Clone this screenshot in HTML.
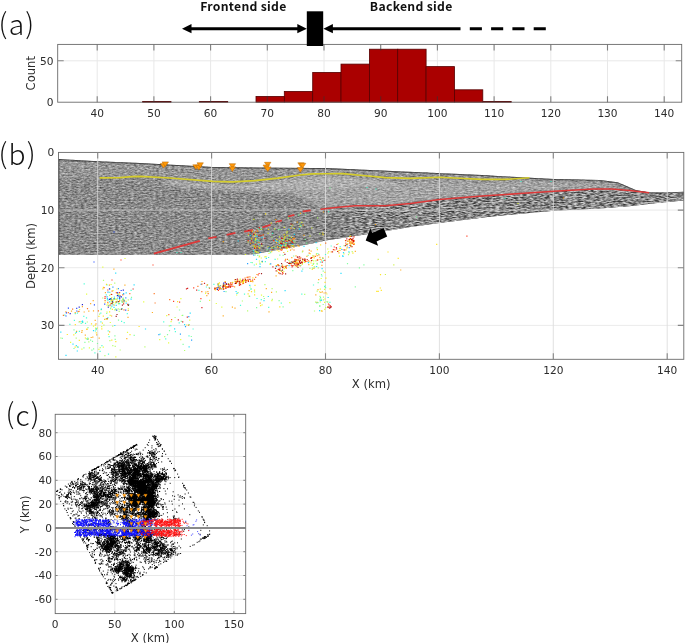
<!DOCTYPE html>
<html lang="en"><head><meta charset="utf-8"><title>Figure: frontend / backend side seismic section</title>
<style>html,body{margin:0;padding:0;background:#fff}body{width:685px;height:643px;overflow:hidden}svg{display:block;will-change:transform}text{white-space:pre}</style>
</head><body>
<svg width="685" height="643" viewBox="0 0 685 643">
<defs>
<filter id="seis" x="0" y="0" width="100%" height="100%" color-interpolation-filters="sRGB"><feTurbulence type="fractalNoise" baseFrequency="0.32 0.72" numOctaves="2" seed="11" result="n"/><feColorMatrix in="n" type="matrix" values="0.68 0 0 0 0.206  0.68 0 0 0 0.206  0.68 0 0 0 0.206  0 0 0 0 1"/></filter>
<filter id="seis2" x="0" y="0" width="100%" height="100%" color-interpolation-filters="sRGB"><feTurbulence type="fractalNoise" baseFrequency="0.22 0.8" numOctaves="2" seed="5" result="n"/><feColorMatrix in="n" type="matrix" values="2.4 0 0 0 -0.63  2.4 0 0 0 -0.63  2.4 0 0 0 -0.63  0 0 0 0 1"/></filter>
<filter id="soft" x="-5%" y="-20%" width="110%" height="140%"><feGaussianBlur stdDeviation="1.6"/></filter>
</defs>
<rect width="685" height="643" fill="#fff"/>
<g id="panel-a">
<rect x="57.7" y="44.4" width="624.0" height="57.800000000000004" fill="#fff"/>
<line x1="97.2" y1="44.4" x2="97.2" y2="102.2" stroke="#e8e8e8" stroke-width="1"/>
<line x1="153.9" y1="44.4" x2="153.9" y2="102.2" stroke="#e8e8e8" stroke-width="1"/>
<line x1="210.6" y1="44.4" x2="210.6" y2="102.2" stroke="#e8e8e8" stroke-width="1"/>
<line x1="267.3" y1="44.4" x2="267.3" y2="102.2" stroke="#e8e8e8" stroke-width="1"/>
<line x1="324" y1="44.4" x2="324" y2="102.2" stroke="#e8e8e8" stroke-width="1"/>
<line x1="380.7" y1="44.4" x2="380.7" y2="102.2" stroke="#e8e8e8" stroke-width="1"/>
<line x1="437.4" y1="44.4" x2="437.4" y2="102.2" stroke="#e8e8e8" stroke-width="1"/>
<line x1="494.1" y1="44.4" x2="494.1" y2="102.2" stroke="#e8e8e8" stroke-width="1"/>
<line x1="550.8" y1="44.4" x2="550.8" y2="102.2" stroke="#e8e8e8" stroke-width="1"/>
<line x1="607.5" y1="44.4" x2="607.5" y2="102.2" stroke="#e8e8e8" stroke-width="1"/>
<line x1="664.2" y1="44.4" x2="664.2" y2="102.2" stroke="#e8e8e8" stroke-width="1"/>
<line x1="57.7" y1="60.8" x2="681.7" y2="60.8" stroke="#e8e8e8" stroke-width="1"/>
<rect x="142.6" y="101.4" width="28.4" height="0.8" fill="#aa0000" stroke="#560000" stroke-width="0.8"/>
<rect x="199.3" y="101.4" width="28.4" height="0.8" fill="#aa0000" stroke="#560000" stroke-width="0.8"/>
<rect x="256" y="96.4" width="28.4" height="5.8" fill="#aa0000" stroke="#560000" stroke-width="0.8"/>
<rect x="284.3" y="91.4" width="28.4" height="10.8" fill="#aa0000" stroke="#560000" stroke-width="0.8"/>
<rect x="312.7" y="72.4" width="28.4" height="29.8" fill="#aa0000" stroke="#560000" stroke-width="0.8"/>
<rect x="341" y="64.1" width="28.4" height="38.1" fill="#aa0000" stroke="#560000" stroke-width="0.8"/>
<rect x="369.4" y="49.2" width="28.4" height="53" fill="#aa0000" stroke="#560000" stroke-width="0.8"/>
<rect x="397.7" y="49.2" width="28.4" height="53" fill="#aa0000" stroke="#560000" stroke-width="0.8"/>
<rect x="426.1" y="66.6" width="28.4" height="35.6" fill="#aa0000" stroke="#560000" stroke-width="0.8"/>
<rect x="454.4" y="89.8" width="28.4" height="12.4" fill="#aa0000" stroke="#560000" stroke-width="0.8"/>
<rect x="482.8" y="101.4" width="28.4" height="0.8" fill="#aa0000" stroke="#560000" stroke-width="0.8"/>
<path d="M97.2 102.2v-6M97.2 44.4v6" stroke="#333" stroke-opacity="0.58" stroke-width="1.1"/>
<path d="M153.9 102.2v-6M153.9 44.4v6" stroke="#333" stroke-opacity="0.58" stroke-width="1.1"/>
<path d="M210.6 102.2v-6M210.6 44.4v6" stroke="#333" stroke-opacity="0.58" stroke-width="1.1"/>
<path d="M267.3 102.2v-6M267.3 44.4v6" stroke="#333" stroke-opacity="0.58" stroke-width="1.1"/>
<path d="M324 102.2v-6M324 44.4v6" stroke="#333" stroke-opacity="0.58" stroke-width="1.1"/>
<path d="M380.7 102.2v-6M380.7 44.4v6" stroke="#333" stroke-opacity="0.58" stroke-width="1.1"/>
<path d="M437.4 102.2v-6M437.4 44.4v6" stroke="#333" stroke-opacity="0.58" stroke-width="1.1"/>
<path d="M494.1 102.2v-6M494.1 44.4v6" stroke="#333" stroke-opacity="0.58" stroke-width="1.1"/>
<path d="M550.8 102.2v-6M550.8 44.4v6" stroke="#333" stroke-opacity="0.58" stroke-width="1.1"/>
<path d="M607.5 102.2v-6M607.5 44.4v6" stroke="#333" stroke-opacity="0.58" stroke-width="1.1"/>
<path d="M664.2 102.2v-6M664.2 44.4v6" stroke="#333" stroke-opacity="0.58" stroke-width="1.1"/>
<rect x="57.7" y="44.4" width="624.0" height="57.800000000000004" fill="none" stroke="#6a6a6a" stroke-width="0.9"/>
<text x="97.2" y="116.8" text-anchor="middle" font-family="'DejaVu Sans','Liberation Sans',sans-serif" font-size="10.6" fill="#2c2c2c">40</text>
<text x="153.9" y="116.8" text-anchor="middle" font-family="'DejaVu Sans','Liberation Sans',sans-serif" font-size="10.6" fill="#2c2c2c">50</text>
<text x="210.6" y="116.8" text-anchor="middle" font-family="'DejaVu Sans','Liberation Sans',sans-serif" font-size="10.6" fill="#2c2c2c">60</text>
<text x="267.3" y="116.8" text-anchor="middle" font-family="'DejaVu Sans','Liberation Sans',sans-serif" font-size="10.6" fill="#2c2c2c">70</text>
<text x="324" y="116.8" text-anchor="middle" font-family="'DejaVu Sans','Liberation Sans',sans-serif" font-size="10.6" fill="#2c2c2c">80</text>
<text x="380.7" y="116.8" text-anchor="middle" font-family="'DejaVu Sans','Liberation Sans',sans-serif" font-size="10.6" fill="#2c2c2c">90</text>
<text x="437.4" y="116.8" text-anchor="middle" font-family="'DejaVu Sans','Liberation Sans',sans-serif" font-size="10.6" fill="#2c2c2c">100</text>
<text x="494.1" y="116.8" text-anchor="middle" font-family="'DejaVu Sans','Liberation Sans',sans-serif" font-size="10.6" fill="#2c2c2c">110</text>
<text x="550.8" y="116.8" text-anchor="middle" font-family="'DejaVu Sans','Liberation Sans',sans-serif" font-size="10.6" fill="#2c2c2c">120</text>
<text x="607.5" y="116.8" text-anchor="middle" font-family="'DejaVu Sans','Liberation Sans',sans-serif" font-size="10.6" fill="#2c2c2c">130</text>
<text x="664.2" y="116.8" text-anchor="middle" font-family="'DejaVu Sans','Liberation Sans',sans-serif" font-size="10.6" fill="#2c2c2c">140</text>
<path d="M57.7 60.8h6M681.7 60.8h-6" stroke="#858585" stroke-width="1.1"/>
<text x="53.6" y="64.6" text-anchor="end" font-family="'DejaVu Sans','Liberation Sans',sans-serif" font-size="10.6" fill="#2c2c2c">50</text>
<text x="53.6" y="106.1" text-anchor="end" font-family="'DejaVu Sans','Liberation Sans',sans-serif" font-size="10.6" fill="#2c2c2c">0</text>
<text transform="translate(34.5 73.2) rotate(-90)" text-anchor="middle" font-family="'DejaVu Sans','Liberation Sans',sans-serif" font-size="11.6" fill="#2c2c2c">Count</text>
</g>
<g id="annot-a">
<text x="243.4" y="10.6" text-anchor="middle" font-family="'Noto Sans CJK JP','Liberation Sans',sans-serif" font-weight="700" font-size="12.2" letter-spacing="0.3" fill="#111">Frontend side</text>
<text x="411.2" y="10.6" text-anchor="middle" font-family="'Noto Sans CJK JP','Liberation Sans',sans-serif" font-weight="700" font-size="12.2" letter-spacing="0.3" fill="#111">Backend side</text>
<line x1="188" y1="28.7" x2="301" y2="28.7" stroke="#000" stroke-width="2.85"/>
<polygon points="182,28.7 191.5,24.1 191.5,33.3" fill="#000"/>
<polygon points="306.8,28.7 297.3,24.1 297.3,33.3" fill="#000"/>
<rect x="306.8" y="11.3" width="16.4" height="34.7" fill="#000"/>
<polygon points="323.4,28.7 332.9,24.1 332.9,33.3" fill="#000"/>
<line x1="330" y1="28.7" x2="460.5" y2="28.7" stroke="#000" stroke-width="2.85"/>
<line x1="469.8" y1="28.7" x2="546" y2="28.7" stroke="#000" stroke-width="2.85" stroke-dasharray="12.1 9.2"/>
</g>
<text x="-1.4" y="35.2" font-family="'Noto Sans CJK JP','Liberation Sans',sans-serif" font-weight="300" font-size="28.2" letter-spacing="1.2" fill="#111"><tspan dy="-1.4">(</tspan><tspan dy="1.4">a</tspan><tspan dy="-1.4">)</tspan></text>
<g id="panel-b">
<rect x="58.5" y="152.4" width="625.3" height="206.9" fill="#fff"/>
<clipPath id="seisclip"><polygon points="58.5,159 97.7,161.3 140,163 212.8,167 312,168 325.6,168 397.9,171.3 482,175.1 524.9,177.5 553.9,179 599.7,179.9 617.7,182.3 635.8,190 648.3,192.2 665,192.4 683.8,191.8 683.8,200.4 659.3,202.7 631.6,205.9 600,208.4 553.9,210.8 487.6,216.9 439.5,223 410.4,227 365.2,234.6 325.6,240.6 312,243.4 250.8,254.8 58.5,254.8"/></clipPath>
<g clip-path="url(#seisclip)">
<rect x="58.5" y="156" width="625.3" height="101" fill="#8a8a8a"/>
<rect x="58.5" y="156" width="625.3" height="101" filter="url(#seis)"/>
<linearGradient id="eastgrad" gradientUnits="userSpaceOnUse" x1="285" y1="0" x2="365" y2="0"><stop offset="0" stop-color="#000"/><stop offset="1" stop-color="#fff"/></linearGradient>
<mask id="eastmask" maskUnits="userSpaceOnUse" x="280" y="150" width="403.8" height="110"><rect x="280" y="150" width="403.8" height="110" fill="url(#eastgrad)"/></mask>
<clipPath id="lowEclip"><polygon points="280,214 300,211 320.5,209.8 338,207.7 355.2,206.2 385.3,206.2 410.4,204 439.5,200 482,196.6 520,194.1 553.9,191.8 593.7,189.4 611.7,189.4 629.7,190.9 649.1,193.3 665,192.4 683.8,191.8 683.8,200.4 659.3,202.7 631.6,205.9 600,208.4 553.9,210.8 487.6,216.9 439.5,223 410.4,227 365.2,234.6 325.6,240.6 312,243.4 250.8,254.8 280,252"/></clipPath>
<g clip-path="url(#lowEclip)"><g mask="url(#eastmask)"><rect x="280" y="160" width="403.8" height="95" filter="url(#seis2)" opacity="0.45"/></g></g>
<g mask="url(#eastmask)"><rect x="280" y="160" width="403.8" height="95" filter="url(#seis2)" opacity="0.15"/></g>
<polygon points="170,180.5 212.8,183.9 232.9,184.4 255,183.1 278,180.6 300,177.5 312,176.4 325.6,176.2 342.6,176.1 360,177.7 385.3,180.1 410.4,180.9 439.5,179.8 460,180.7 482,181.9 505,181.9 529.4,180.3 553.9,182 599.7,183 617.7,185.5 635.6,191.5 649.1,193.5 649.1,191.8 629.7,189.4 611.7,187.9 593.7,187.9 553.9,190.3 520,192.6 482,195.1 439.5,198.5 410.4,202.5 385.3,204.7 355.2,204.7 338,206.2 320.5,208.3 310,202 290,194 250,191.5 200,188.5 150,183" fill="#fff" opacity="0.21" filter="url(#soft)"/>
<polygon points="170,180.5 212.8,183.9 232.9,184.4 255,183.1 278,180.6 300,177.5 312,176.4 325.6,176.2 342.6,176.1 360,177.7 385.3,180.1 400,186 360,187 330,190 300,190 250,189.5 200,187 170,184" fill="#fff" opacity="0.12" filter="url(#soft)"/>
<polygon points="58.5,160.5 97.7,162.8 140,164.5 212.8,168.5 312,169.5 325.6,169.5 397.9,172.8 482,176.6 524.9,179 529.4,177.8 505,179.4 482,179.4 460,178.2 439.5,177.3 410.4,178.4 385.3,177.6 360,175.2 342.6,173.6 325.6,173.7 312,173.9 300,175 278,178.1 255,180.6 232.9,181.9 212.8,181.4 170,178 140,176.4 132,176.6 120,177.6 99.6,177.9 58.5,178" fill="#fff" opacity="0.09"/>
<polygon points="320.5,210.8 338,208.7 355.2,207.2 385.3,207.2 410.4,205 439.5,201 482,197.6 520,195.1 553.9,192.8 593.7,190.4 611.7,190.4 629.7,191.9 649.1,194.3 683.8,200.4 659.3,202.7 631.6,205.9 600,208.4 553.9,210.8 487.6,216.9 439.5,223 410.4,227 365.2,234.6 325.6,240.6 320,243" fill="#000" opacity="0.03" filter="url(#soft)"/>
<polyline points="58.5,159.4 97.7,161.7 140,163.4 212.8,167.4 312,168.4 325.6,168.4 397.9,171.7 482,175.5 524.9,177.9 553.9,179.4 599.7,180.3 617.7,182.7 635.8,190.4 648.3,192.6 665,192.8 683.8,192.2" fill="none" stroke="#333" stroke-width="1.1" opacity="0.7"/>
</g>
<line x1="58.9" y1="159" x2="58.9" y2="254.8" stroke="#222" stroke-width="0.9" opacity="0.75"/>
<line x1="97.7" y1="152.4" x2="97.7" y2="359.3" stroke="#dcdcdc" stroke-opacity="0.85" stroke-width="1"/>
<line x1="211.6" y1="152.4" x2="211.6" y2="359.3" stroke="#dcdcdc" stroke-opacity="0.85" stroke-width="1"/>
<line x1="325.5" y1="152.4" x2="325.5" y2="359.3" stroke="#dcdcdc" stroke-opacity="0.85" stroke-width="1"/>
<line x1="439.4" y1="152.4" x2="439.4" y2="359.3" stroke="#dcdcdc" stroke-opacity="0.85" stroke-width="1"/>
<line x1="553.3" y1="152.4" x2="553.3" y2="359.3" stroke="#dcdcdc" stroke-opacity="0.85" stroke-width="1"/>
<line x1="667.2" y1="152.4" x2="667.2" y2="359.3" stroke="#dcdcdc" stroke-opacity="0.85" stroke-width="1"/>
<line x1="58.5" y1="210.1" x2="683.8" y2="210.1" stroke="#dcdcdc" stroke-opacity="0.6" stroke-width="1"/>
<line x1="58.5" y1="267.7" x2="683.8" y2="267.7" stroke="#dcdcdc" stroke-opacity="0.6" stroke-width="1"/>
<line x1="58.5" y1="325.4" x2="683.8" y2="325.4" stroke="#dcdcdc" stroke-opacity="0.6" stroke-width="1"/>
<polyline points="99.6,177.9 120,177.6 132,176.6 140,176.4 170,178 212.8,181.4 232.9,181.9 255,180.6 278,178.1 300,175 312,173.9 325.6,173.7 342.6,173.6 360,175.2 385.3,177.6 410.4,178.4 439.5,177.3 460,178.2 482,179.4 505,179.4 529.4,177.8" fill="none" stroke="#d4cc2c" stroke-width="1.65" stroke-linejoin="round"/>
<polyline points="320.5,209.3 338,207.2 355.2,205.7 385.3,205.7 410.4,203.5 439.5,199.5 482,196.1 520,193.6 553.9,191.3 593.7,188.9 611.7,188.9 629.7,190.4 649.1,192.8" fill="none" stroke="#dc3838" stroke-width="1.55" stroke-linejoin="round"/>
<path d="M153.8 253.7L199.8 240.9M208.3 238.4L216.6 236.9M226.6 234.9L235.4 232.9M244.2 231.6L253 229.8M262.3 227.3L270.6 224.8M275.6 222.3L281.9 220.3M288.1 216.5L294.4 214.8M302.7 211.5L310.7 210.3" stroke="#dc3838" stroke-width="1.8" fill="none"/>
<path d="M122.1 308.6h.01M117.3 301.6h.01M106.3 294.9h.01M108.1 300.2h.01M131.1 290.3h.01M128.3 305h.01M114.4 297.2h.01M107.4 299.8h.01M116.3 302.7h.01M109.8 292.4h.01M113 304.7h.01M121.6 321.3h.01M106.9 284.9h.01M119.6 303.6h.01M109.9 289h.01M124.2 322.7h.01M84.2 283.8h.01M107.9 317.7h.01M69.9 324.3h.01M100.1 351.3h.01M74.4 320.3h.01M94.9 352.9h.01M108.5 354.1h.01M101.9 345.6h.01M81.2 323.4h.01M79.4 331.3h.01M100.9 321.8h.01M86.5 317.8h.01M109.1 336.6h.01M100.8 313.1h.01M83.8 316.3h.01M108.2 330.9h.01M127.3 313.7h.01M81.9 321.5h.01M85.5 323.4h.01M95.4 331h.01M87.8 338.1h.01M64.8 315.1h.01M77.4 313.2h.01M75.3 313.7h.01M189 335.8h.01M179.2 322.8h.01M163.7 321.9h.01M175.4 331.7h.01M193.1 329h.01M165.7 338.9h.01M170.8 325.7h.01M160.1 334.2h.01M206.4 287h.01M213.9 284.3h.01M198.9 290.4h.01M239.4 283.9h.01M251 289.1h.01M268.7 307.4h.01M249.6 296.3h.01M244.5 294.1h.01M257 298.5h.01M281.3 303.1h.01M301.8 294.2h.01M240.5 305.3h.01M261.3 299.7h.01M293.8 261.8h.01M325.5 254.5h.01M281.1 266.2h.01M258.6 244.5h.01M253.9 246.9h.01M253.4 250.6h.01M283.2 246.9h.01M286.4 242.4h.01M280.2 244.1h.01M284.4 245.6h.01M283.7 240.1h.01M289 245h.01M284.9 245.3h.01M272.6 233.3h.01M272.8 248.6h.01M254.3 265h.01M251 262.5h.01M265.4 261.7h.01M275.1 259.4h.01M268.6 257.5h.01M317 253.5h.01M323.4 260.6h.01M320.5 262.1h.01M328.6 211.7h.01M300.9 225.7h.01M340.2 246.5h.01M331.2 246h.01M320.9 300.5h.01M313.5 285h.01M329.9 302.4h.01M320.1 300.7h.01M316.6 303h.01M319.7 306.2h.01M322 276h.01M324.6 286.6h.01M320.5 297.5h.01M367 187.5h.01M376 189h.01M505 198.5h.01M521 181.5h.01M551 181.5h.01M177 252.5h.01M181 252.5h.01" stroke="#30ffd0" stroke-width="1.18" stroke-linecap="square" fill="none" opacity="0.85"/>
<path d="M111.1 294.4h.01M128.2 310.5h.01M119.6 300.5h.01M117.7 293.8h.01M119.6 297.3h.01M120.1 295.5h.01M109.4 285.2h.01M124.5 300.4h.01M123.2 299.1h.01M117 292.9h.01M123.8 302.1h.01M124.9 285.1h.01M114.1 305.2h.01M93.2 300.7h.01M112.4 301.3h.01M112.8 300.2h.01M105.4 292.6h.01M113.9 269.2h.01M109.6 331.9h.01M104.7 319.3h.01M95.2 320.4h.01M99.2 338.2h.01M126.8 338.6h.01M85.3 335.2h.01M79.9 321.6h.01M86.9 329.5h.01M81.8 332.4h.01M96 323.9h.01M82.1 330.6h.01M92.8 337.1h.01M91.2 337.5h.01M96.7 334.9h.01M111.6 316h.01M128 317.4h.01M93.5 310.8h.01M76.6 331.3h.01M75.2 312.6h.01M90.6 303.7h.01M78.1 311.6h.01M88.8 311.2h.01M84.2 312h.01M82.4 306.7h.01M65.9 311.8h.01M71.5 311.1h.01M152.4 312.5h.01M206.8 295.7h.01M202 281.5h.01M243.4 281.6h.01M242.7 283.7h.01M205.9 292h.01M216.6 287.6h.01M224 288.8h.01M237.9 280.1h.01M247.9 280.6h.01M223.2 288.6h.01M220.1 288.2h.01M245.8 282.3h.01M240 281.2h.01M235 279.6h.01M223.3 284.1h.01M243.3 282.3h.01M235.1 281.4h.01M219.4 287.5h.01M256.9 274.5h.01M237.1 281.3h.01M244 280.6h.01M246 280.6h.01M250.8 280.6h.01M220.1 287.5h.01M252.8 281.7h.01M214.9 288.3h.01M207.9 291.7h.01M239.3 283.8h.01M225.2 285.6h.01M260.2 303.1h.01M266.3 288.6h.01M234.6 286.9h.01M235 308.2h.01M271.6 292.3h.01M249.1 290.6h.01M232.4 307.2h.01M223.2 315.8h.01M269 311.8h.01M283 267.9h.01M276.1 275.9h.01M278.8 272.6h.01M285.6 267.5h.01M281.7 271.4h.01M282.6 265.2h.01M295.6 263.7h.01M287.7 265.5h.01M285.5 259.3h.01M296 255.8h.01M298.1 263h.01M293.2 261.3h.01M294 265.6h.01M302.7 261.1h.01M296.8 263.2h.01M294 262h.01M296.9 261h.01M291.5 263.6h.01M299.2 261h.01M297.2 262.6h.01M297.3 263.2h.01M296.9 264.1h.01M295.7 262.4h.01M296.8 260.2h.01M298.6 260.3h.01M295.9 262.9h.01M295.5 261.6h.01M297.6 265.6h.01M302.8 251.1h.01M308.8 264.7h.01M297.2 262.4h.01M291.8 257.6h.01M302.3 263.9h.01M257.8 231.3h.01M254.3 233.1h.01M253 242.3h.01M255.5 240.2h.01M251.8 238.4h.01M258.9 242.5h.01M257.3 246.4h.01M283.8 252.5h.01M280.5 249.1h.01M285.9 247.3h.01M290.5 250.1h.01M281 241.9h.01M299 246.3h.01M284.6 238h.01M293.9 247.3h.01M292.1 249h.01M282.4 249.7h.01M290.3 246h.01M297.9 245.3h.01M294.2 238.1h.01M223.3 241.6h.01M274.1 246.3h.01M291.1 228.2h.01M275.7 219.5h.01M292.8 225h.01M250.5 243.4h.01M254.9 247.1h.01M291.4 241.1h.01M290.9 240.3h.01M253.3 235.9h.01M321.6 260h.01M322.7 257.9h.01M306.9 256.3h.01M328.5 257h.01M314 268.4h.01M319.9 257.4h.01M321.9 265.4h.01M313.9 256.1h.01M323 258.3h.01M311.1 251.1h.01M312.6 257.3h.01M317.2 255.7h.01M320.2 259.3h.01M311.3 258.4h.01M303.1 225.2h.01M297.2 222.2h.01M293.2 238.6h.01M300.5 213.4h.01M304 235.3h.01M349 239.7h.01M350.5 241.9h.01M351.8 241.8h.01M349.6 241h.01M352.3 242.4h.01M353.7 240.8h.01M352 239.9h.01M350.5 245.9h.01M349.2 240h.01M349.9 242.1h.01M331.3 251.9h.01M338.9 252.8h.01M355.3 251.3h.01M339.9 250.5h.01M324.1 293h.01M318.7 279.7h.01M322.1 311.1h.01M315.8 294.8h.01M325.9 292.9h.01M317.1 302.3h.01M320.8 292.5h.01M318 289.6h.01M322.3 291.9h.01M400.7 270h.01M375.5 224.5h.01M563.5 198h.01M323.5 212h.01" stroke="#ffa000" stroke-width="1.18" stroke-linecap="square" fill="none" opacity="0.85"/>
<path d="M119.2 311.3h.01M128.3 299.8h.01M118.2 308.8h.01M118.4 303.6h.01M111 307.2h.01M115.3 302.8h.01M112.6 303.5h.01M116.6 299.1h.01M116.3 310h.01M109.6 295.4h.01M114.7 283.1h.01M111.4 301.3h.01M115.3 309.6h.01M122.5 299.3h.01M111.2 298.7h.01M118.3 294.8h.01M101.2 309.7h.01M102.7 298h.01M114.8 309.9h.01M103.5 280.3h.01M120.2 350h.01M87.3 322h.01M82.5 322.7h.01M100.2 347.7h.01M112.8 345.7h.01M103.9 325.1h.01M106.1 318.8h.01M88.8 341.9h.01M112.7 326.2h.01M144.9 346.9h.01M104.9 355.6h.01M60.8 338h.01M75.5 333.3h.01M115.2 346.4h.01M99.6 314.2h.01M109.9 340.6h.01M76.2 338.2h.01M86.4 338.8h.01M184.6 350.5h.01M164.7 336.7h.01M175.1 317.5h.01M169.3 325.8h.01M207.6 284.6h.01M254.6 291.9h.01M264.9 284.7h.01M238.1 292.6h.01M304.7 294.4h.01M263.6 296.5h.01M247.6 310.9h.01M272.3 299.4h.01M250.2 287h.01M272.1 288.6h.01M276.4 291.8h.01M242.4 301h.01M304.8 260.9h.01M295 260h.01M313.3 264h.01M304.3 262.5h.01M309.9 268.4h.01M302.4 251.8h.01M294.5 262.1h.01M289 260.3h.01M312.3 260.4h.01M248.4 235.5h.01M287.6 246.9h.01M294.8 242.1h.01M287.5 238.8h.01M280.3 247.6h.01M272 236.9h.01M262.3 262.1h.01M318.3 267.9h.01M312.9 255.7h.01M315.9 260.8h.01M317.1 263.4h.01M319.9 233.6h.01M288.4 218.2h.01M291.9 226.1h.01M317.6 217.9h.01M299.9 223.8h.01M352.2 251.6h.01M344.1 245.6h.01M348.5 254.7h.01M320 296.3h.01M315.6 302.2h.01M314.5 311h.01M319.8 299.1h.01M325.7 307.7h.01M323.5 299.8h.01M319.8 305.8h.01M327 301.6h.01M323.5 297.1h.01M317.2 291.2h.01" stroke="#a8ff58" stroke-width="1.18" stroke-linecap="square" fill="none" opacity="0.85"/>
<path d="M119.6 292.7h.01M111.2 299.8h.01M116.7 301.9h.01M112 280h.01M105.1 296.6h.01M105 298.3h.01M107.8 290h.01M104 287.7h.01M173.6 301.3h.01M200.9 298.6h.01M179.6 302.1h.01M209.5 288.1h.01M193.7 287.8h.01M228.6 284.1h.01M214.7 289.1h.01M230.6 283.9h.01M219.9 289.2h.01M231.7 285h.01M236.3 283.2h.01M248 279.3h.01M232.4 282.8h.01M223.5 286.2h.01M230.1 287.5h.01M250.8 281.5h.01M237.2 281.1h.01M252.6 280.1h.01M225.7 288.2h.01M225.3 286.6h.01M232.9 286.4h.01M242.1 281.2h.01M235.3 283.4h.01M239.4 285.3h.01M258.2 274.8h.01M259.1 273.5h.01M218.4 290.4h.01M218.9 286.6h.01M279 269.5h.01M281.8 266.4h.01M278.2 269.5h.01M282.6 272.5h.01M283.2 266.9h.01M276.9 265.5h.01M279.3 270.1h.01M281.1 270.7h.01M285.5 267.2h.01M279.6 270.4h.01M305.5 261.7h.01M295.6 259.8h.01M304.8 260.7h.01M299.6 261.5h.01M289.7 263.7h.01M294.9 259.4h.01M294.9 264.5h.01M299.9 258.7h.01M296.8 266.4h.01M291.3 265.3h.01M285.2 260.9h.01M256.8 248.2h.01M261.1 235.6h.01M248.2 240.7h.01M258.9 235.4h.01M255.7 244.1h.01M278.2 247.5h.01M281.1 250.1h.01M283.8 246.8h.01M287.8 246.1h.01M281.5 250h.01M285.3 240.8h.01M292.7 242.6h.01M281.6 238h.01M259.3 227.7h.01M251.5 231.9h.01M273.7 240.6h.01M291 224h.01M272.5 249.3h.01M324.8 260.4h.01M317.3 260.2h.01M349.8 243.2h.01M354.1 244.4h.01M352.9 240.4h.01M351.8 239.9h.01M354 236.9h.01M352.1 246.7h.01M333.4 249.6h.01M337 244.5h.01M334.3 247h.01M347.2 244.3h.01M328.5 304h.01M466.9 236.1h.01M153 265h.01M121 260h.01" stroke="#ff2000" stroke-width="1.18" stroke-linecap="square" fill="none" opacity="0.85"/>
<path d="M123.4 300.1h.01M107 312.1h.01M128.6 304.8h.01M126.1 301.3h.01M111.7 297.5h.01M111.4 300.2h.01M115.5 299.1h.01M113.1 290.6h.01M113.4 302.3h.01M113.7 299.1h.01M128.3 308.9h.01M107 305.2h.01M110.2 315.4h.01M111.1 284.5h.01M119.3 294h.01M86.6 294.2h.01M127.5 332.4h.01M107 319.5h.01M79.6 309.5h.01M108.5 334.3h.01M103.3 347.1h.01M115.8 356.9h.01M77.4 346.9h.01M97.3 328.2h.01M110.3 322.5h.01M98.9 349.3h.01M89.4 347.8h.01M70.6 342.3h.01M95.6 328.2h.01M93.5 326.1h.01M81.9 349.2h.01M101.7 326.7h.01M159.7 339.7h.01M182.1 315.5h.01M180.7 339.7h.01M168.6 342.9h.01M171.1 321.6h.01M166.7 315.6h.01M189.7 320.1h.01M180.9 298.7h.01M143.7 301.9h.01M177.1 307h.01M223.8 285.8h.01M228.6 283.6h.01M227.3 286.5h.01M232.7 282.4h.01M240.2 279.1h.01M205.6 293.3h.01M243.7 281.7h.01M240.2 280.4h.01M244.3 280.4h.01M271.9 300.6h.01M236.6 295h.01M261.5 295.1h.01M221.8 307.1h.01M289.8 302.6h.01M262.1 304.8h.01M209.6 300.3h.01M218.7 284.9h.01M216.3 303.5h.01M277.4 271.2h.01M277.7 264.5h.01M284.5 268.7h.01M275.8 265.8h.01M286.2 267.6h.01M283.8 271.5h.01M304.6 262.5h.01M296.1 266.7h.01M302.6 260.2h.01M299.2 265.3h.01M313.9 267h.01M248.1 242h.01M261.9 245.9h.01M251.3 239h.01M256.3 239.4h.01M255.6 239.8h.01M252.4 231.1h.01M258.2 252.7h.01M259.1 247.5h.01M279.4 236.8h.01M279.4 240.8h.01M277.5 246.8h.01M287.6 251.3h.01M285.6 245.7h.01M286.6 248.7h.01M286 243.6h.01M292 246h.01M283.6 242.7h.01M253.8 219.3h.01M271.8 247.7h.01M286.8 233.1h.01M287.1 231.6h.01M261.6 229.5h.01M274.7 228.9h.01M285.1 236.7h.01M284.3 227.4h.01M284.4 237h.01M268.1 233.3h.01M310 236h.01M245.4 254.5h.01M264.8 256.8h.01M268.1 246.9h.01M269 253.5h.01M259.1 257h.01M277.6 259h.01M259.6 256.2h.01M256.8 251.7h.01M259.7 263h.01M261.3 258h.01M259.4 261h.01M278.5 265h.01M266 256.6h.01M269.8 264.2h.01M256.4 264.2h.01M261.8 261.6h.01M256.4 252.5h.01M313.7 260.9h.01M309.8 261.9h.01M328.7 251.7h.01M313.7 263.3h.01M302.2 263.9h.01M301.8 222.3h.01M300.1 226.4h.01M311.8 228h.01M294.3 228.5h.01M350.4 235.9h.01M350.6 243.7h.01M347.8 243.7h.01M338.1 243.6h.01M346.2 249.9h.01M327.9 253.1h.01M327.8 249h.01M340.8 248.5h.01M339.5 256.2h.01M344 253.9h.01M349.3 252.8h.01M348 241.3h.01M324.5 289.4h.01M326.9 294h.01M321.2 278.5h.01M320.3 289.2h.01M320.3 302h.01M324.6 302.3h.01M327.6 306.5h.01M324.7 309.4h.01M518 203.5h.01M102.8 267.2h.01M125 258.5h.01" stroke="#e0ff20" stroke-width="1.18" stroke-linecap="square" fill="none" opacity="0.85"/>
<path d="M114.2 298.7h.01M120 296.4h.01M117.7 292.6h.01M123.7 294h.01M125.7 310.1h.01M116.7 310.1h.01M121.2 290.5h.01M66.4 312.8h.01M104.7 304.2h.01M76.8 311h.01M76.7 308.3h.01M94.4 304.9h.01M66 316h.01M68.4 308.1h.01M217.9 284h.01M223.9 285.2h.01M223.9 282.9h.01M114 232h.01M94 262h.01" stroke="#0030ff" stroke-width="1.18" stroke-linecap="square" fill="none" opacity="0.85"/>
<path d="M117.9 295.5h.01M118.7 296.1h.01M107.1 296.8h.01M125.8 297.9h.01M124.2 301.1h.01M112.9 287.2h.01M118.4 288.6h.01M108 292.2h.01M185.5 326.6h.01M191.6 340.1h.01M158.9 334.7h.01M180.4 334.1h.01M188.8 316.7h.01M224.1 291.5h.01M201.1 284.4h.01M221.5 288.8h.01M220.3 285.7h.01M218.3 285.1h.01M223.1 287.5h.01M217.2 288.8h.01M253.8 252h.01M247.6 263.7h.01M260.5 252.5h.01M269 247.9h.01M270.7 263.9h.01M276.5 266.5h.01M253.8 255.2h.01M262.3 261.4h.01M341.9 249.5h.01M349.2 247.6h.01" stroke="#0090ff" stroke-width="1.18" stroke-linecap="square" fill="none" opacity="0.85"/>
<path d="M123.5 293.6h.01M111.9 306.2h.01M109.7 301.9h.01M123.6 299.8h.01M117.7 298.2h.01M116.2 305.4h.01M101.4 309.2h.01M110.3 298.6h.01M119.6 299.1h.01M107.4 298.7h.01M128.7 304.7h.01M126.2 292.8h.01M131.1 299.1h.01M114 307.4h.01M115.7 273.2h.01M134.1 284.9h.01M108.5 305.5h.01M73 344.2h.01M87.8 339.4h.01M93.5 330.6h.01M96.3 328.9h.01M82.8 322.1h.01M77.3 351h.01M82.5 321h.01M76.3 332.4h.01M114.8 325.5h.01M78.1 347.2h.01M60.8 332.1h.01M126.2 303.2h.01M66 355.3h.01M76.3 345.6h.01M145.5 329h.01M189.1 346.9h.01M174.6 328.8h.01M184.6 324.7h.01M190.2 313.2h.01M268.3 296.5h.01M236.1 291.5h.01M264 300.7h.01M237 293.3h.01M249.8 285.3h.01M285.1 290.7h.01M294.6 260.8h.01M316.6 266.5h.01M291.1 262.1h.01M301.9 271.1h.01M289.1 265.6h.01M308.4 262.6h.01M257 236.4h.01M256.9 240.1h.01M250.5 235.5h.01M281.4 245.3h.01M292.4 244.3h.01M277.5 241.5h.01M238.2 241h.01M261.9 237.3h.01M304 246.3h.01M275.7 240.4h.01M260.1 264.1h.01M254.9 247.7h.01M266.3 258.3h.01M256.5 259.3h.01M260 266.7h.01M322.1 268.6h.01M288.9 229.3h.01M299.4 229.2h.01M316.1 242.7h.01M294.4 234.3h.01M346.9 245.2h.01M343.1 256.3h.01M342.6 255.8h.01M348.9 251.8h.01M343.5 252.6h.01M351.4 246.1h.01M321.5 300.2h.01M328.1 297.5h.01M319.6 310.7h.01M341 273.4h.01" stroke="#00d8ff" stroke-width="1.18" stroke-linecap="square" fill="none" opacity="0.85"/>
<path d="M122.8 301.2h.01M124 309.9h.01M107.8 302.4h.01M129.8 293.7h.01M112.1 291.1h.01M98.4 310.8h.01M122.7 294.9h.01M116.3 292.6h.01M112.3 302.7h.01M105.1 300.5h.01M68.3 312.7h.01M63.4 315.4h.01M87.5 308.7h.01M79 311.3h.01M72.6 309.1h.01M171.6 319.7h.01M168.8 314.7h.01M188.6 325.1h.01M155.1 303h.01M154.2 293.7h.01M169.7 299.7h.01M197.9 286.3h.01M207.1 285.1h.01M201.9 284.1h.01M223.3 286.8h.01M246.3 280.6h.01M219.2 288.8h.01M220.1 288.1h.01M248.2 277.2h.01M201.8 291.7h.01M215.9 288.8h.01M243.5 283.5h.01M241.1 282.1h.01M254.5 279.4h.01M208.2 293.7h.01M248.3 280.7h.01M230.8 282.5h.01M245.1 278.1h.01M228.4 287.1h.01M226.8 286.6h.01M230.8 284.8h.01M231.1 286.5h.01M247.1 277.4h.01M245.3 279.7h.01M227.2 287.4h.01M240 282.8h.01M226.1 283.6h.01M225.3 285.1h.01M236.3 283.4h.01M237.9 281.3h.01M249.9 276.9h.01M231.9 284.4h.01M255.7 277.3h.01M283.1 273.3h.01M285.2 266.3h.01M280.2 268.1h.01M278.1 264.7h.01M280 269.8h.01M286.4 268.1h.01M278.7 273h.01M298.8 263.5h.01M300.2 265.9h.01M297.8 263.8h.01M299.4 262.7h.01M305.2 259.4h.01M302.1 262.3h.01M308.6 260.8h.01M300.8 257.8h.01M298.3 259.2h.01M287.4 259.3h.01M309.2 253.1h.01M254.6 247.6h.01M255.5 231.9h.01M257.1 230.1h.01M289.7 247.6h.01M294.8 238.8h.01M279.3 244.5h.01M289.2 245.8h.01M286.8 247.8h.01M294 250h.01M248.4 234.2h.01M292.9 239.3h.01M317.8 259.9h.01M318.9 254.9h.01M305.4 260.8h.01M306.9 261.5h.01M315.4 256.3h.01M309.3 250.2h.01M353.9 241.6h.01M353.4 244.3h.01M352.6 243.3h.01M347.8 241.2h.01M351 246.7h.01M347.3 247h.01M351.4 243.2h.01M352.8 240.8h.01M353.8 240.5h.01M345.8 243.2h.01M346.3 244.5h.01M325.7 243.2h.01M343.9 249.9h.01M334.8 249.9h.01" stroke="#ff6000" stroke-width="1.18" stroke-linecap="square" fill="none" opacity="0.85"/>
<path d="M112.9 300h.01M123.1 298.1h.01M131.5 297.3h.01M122.4 302.5h.01M121.4 300.8h.01M118.8 303.6h.01M114.4 299.4h.01M120 309.3h.01M110.9 299.5h.01M115.8 308.8h.01M110.6 308.7h.01M106.7 313.5h.01M114.9 335.9h.01M83.9 347.9h.01M91.9 350.1h.01M90.6 340.1h.01M118.5 320.1h.01M74 348.5h.01M79 322h.01M96.1 329.7h.01M97.5 343.5h.01M74 329.9h.01M84.9 342.4h.01M92.5 341.4h.01M122.1 302.2h.01M115.2 339.3h.01M88 327.6h.01M62.3 338.3h.01M93.6 348.8h.01M134.2 335.4h.01M169.5 330.7h.01M179.5 310h.01M183.1 344.4h.01M167.5 334.7h.01M191.3 336.5h.01M189.3 324.6h.01M182.7 315.3h.01M181.3 321.4h.01M219.3 287h.01M209.2 287.7h.01M264.3 298.5h.01M283.1 306.8h.01M279.1 300.7h.01M251.1 288.8h.01M256.6 307.7h.01M200.3 301.3h.01M226 291.7h.01M293.7 256h.01M312.5 268.1h.01M281.2 270.6h.01M302.4 259.5h.01M313.3 264.2h.01M300.9 265.5h.01M308.1 255.3h.01M302.7 269.2h.01M292.8 270.6h.01M254.9 240.9h.01M255 235.5h.01M258.3 229.1h.01M293.4 240.9h.01M279.8 242.8h.01M279.9 245.7h.01M283.1 255.4h.01M274.9 247.2h.01M258.9 240.7h.01M260.7 228.7h.01M289.7 235.7h.01M257.8 255.3h.01M267.3 249.7h.01M252.3 262.7h.01M269.5 251.7h.01M255.2 254.9h.01M270.6 252.7h.01M253.7 253h.01M279.8 255.1h.01M255.6 242.8h.01M314.7 266.8h.01M322.7 258.3h.01M318.4 254h.01M317.2 264.2h.01M317 247.9h.01M306.7 243.2h.01M278.4 229.7h.01M305.6 214.5h.01M305.3 239.3h.01M279.9 229.5h.01M277.3 222.5h.01M298.7 215.1h.01M347.5 263.7h.01M325.6 287.7h.01M327.7 302.2h.01M323.2 304.5h.01M318.2 282.7h.01M320.8 299h.01M323.2 271.1h.01M321.5 274.6h.01M318 302.7h.01M325.2 285.8h.01M363.9 264.9h.01M359.4 267.9h.01M355.3 286.9h.01M330 188h.01M416.5 217h.01" stroke="#70ff90" stroke-width="1.18" stroke-linecap="square" fill="none" opacity="0.85"/>
<path d="M117.4 295.6h.01M112.6 301.9h.01M123.3 290.2h.01M110.8 298.9h.01M119.7 298.1h.01M108.3 307.1h.01M121.4 296.8h.01M109.4 299.3h.01M109.5 288.8h.01M70.2 313.6h.01M82.4 304.6h.01M79.2 307.1h.01M217.4 289.5h.01M223.6 284.1h.01M218 287.7h.01M226.4 283.8h.01" stroke="#0000c8" stroke-width="1.18" stroke-linecap="square" fill="none" opacity="0.85"/>
<path d="M116.9 289h.01M110.7 303.3h.01M108 303.8h.01M119.1 301.6h.01M115.7 301.8h.01M112.4 309.4h.01M109 305.9h.01M117.3 300h.01M106.5 284.4h.01M109.6 311.9h.01M105.1 302.1h.01M103.4 287.4h.01M102.9 288.9h.01M79.3 340.4h.01M73.8 334.9h.01M101.8 328.9h.01M91.5 323.8h.01M130 334.6h.01M75.3 324.7h.01M115.8 341.6h.01M111.8 340.1h.01M87 328.8h.01M98.9 316.3h.01M95.3 325.2h.01M67.3 334.5h.01M85.4 338h.01M88.2 338.8h.01M139.1 326.5h.01M103.3 316.1h.01M96.3 332.8h.01M75.1 347.2h.01M102.4 323.2h.01M186.8 325h.01M177.6 301.6h.01M242.4 281.3h.01M215.4 289.8h.01M243.4 280.9h.01M235.8 281.6h.01M223.4 285.1h.01M252.9 277.8h.01M240.1 282.6h.01M242.6 282.2h.01M251.4 281.5h.01M224.9 285.3h.01M236.8 282.3h.01M221.7 288.9h.01M225.3 287h.01M219.4 282.8h.01M225.1 281.7h.01M218.5 283.6h.01M220.8 286h.01M217.9 284.3h.01M218.1 286.1h.01M255 285.3h.01M254.5 290.2h.01M279.8 306.8h.01M254.6 294.9h.01M249.1 296.2h.01M248.1 293.8h.01M251.5 291.7h.01M260.6 305.6h.01M284 266.5h.01M289.7 262.2h.01M312.2 265.5h.01M296.7 260.1h.01M263.4 235h.01M255.3 251.4h.01M259.7 248.1h.01M255.6 234.6h.01M255.2 247.9h.01M254.7 246.1h.01M253.3 245.8h.01M255.6 238.3h.01M282.6 239.9h.01M292.5 245.6h.01M287.1 235.6h.01M277.2 250.1h.01M289.9 239.6h.01M278.9 251.2h.01M284.1 238.8h.01M293.6 246h.01M282.6 246.3h.01M287.3 240.8h.01M271.7 251.7h.01M284.2 234.6h.01M276.6 239.7h.01M276.5 242.7h.01M291.5 237.4h.01M265.6 213.9h.01M287.6 248.2h.01M268.5 229.3h.01M310.2 253.7h.01M312.3 269.4h.01M314.2 257.9h.01M317.4 249.7h.01M311.1 263h.01M316.4 254.2h.01M322.8 233h.01M323.1 234.7h.01M271.2 223.2h.01M351 245.2h.01M350.6 239.3h.01M354.2 243.6h.01M345.5 240.5h.01M349.9 236.7h.01M339.8 248.7h.01M338.3 250.8h.01M346.9 248.2h.01M352.9 253.2h.01M320.6 244.8h.01M340.1 248.1h.01M325.9 278.1h.01M321.4 310.8h.01M319.7 291.9h.01M325 282.3h.01M324.9 299h.01M324.9 272.3h.01M330.1 288.9h.01M380.3 288h.01M381.3 290.4h.01M376.8 291.4h.01M378.2 291.4h.01M380.5 274.7h.01M388 252h.01M398.2 258.3h.01M436.7 244.4h.01" stroke="#ffe000" stroke-width="1.18" stroke-linecap="square" fill="none" opacity="0.85"/>
<path d="M122.4 305.1h.01M116.2 316.4h.01M121.6 309.1h.01M111.8 303.6h.01M118.7 301.6h.01M128.3 305.3h.01M110.2 305h.01M117 314.5h.01M235.4 283.5h.01M223.3 285.5h.01M236.1 282.1h.01M261.5 273.6h.01M235.7 279.5h.01M249.9 279.3h.01M228.2 284.2h.01M239.3 281.7h.01M222.7 286.9h.01M245.6 279.9h.01M230 286h.01M280.1 273.6h.01M275.5 268.3h.01M285.6 273.8h.01M282.5 270.2h.01M282.5 267.3h.01M293 262.7h.01M281.6 263.6h.01M291.9 261.8h.01M288.7 263.4h.01M287.2 262.5h.01M298.6 264.3h.01M290.2 263.3h.01M298.4 264.6h.01M286.4 266h.01M294.3 263.6h.01M301.4 262.1h.01M304.7 259.1h.01M298 267.3h.01M292.4 262.7h.01M299.5 261.1h.01M298 257.1h.01M300.5 263.4h.01M298.1 264.6h.01M288.9 240.6h.01M284.9 254.3h.01M287.8 245.2h.01M351.6 239.3h.01M330.1 306.8h.01M330.3 307.7h.01" stroke="#900000" stroke-width="1.18" stroke-linecap="square" fill="none" opacity="0.85"/>
<path d="M133.1 289h.01M127.8 304.3h.01M107.1 318.7h.01M111.7 294.5h.01M123.6 303.8h.01M187.3 317.2h.01M182.7 321.8h.01M178.3 319.8h.01M201.9 307.6h.01M186.5 288.8h.01M187.6 288.4h.01M204.5 283.4h.01M196.7 290.2h.01M242.9 279.4h.01M242.3 280.6h.01M248.5 281.4h.01M225.3 282.4h.01M237.4 279.1h.01M228.3 287h.01M226.5 284.5h.01M230.5 286.8h.01M237.7 281.7h.01M223.7 286.3h.01M240.6 284.6h.01M229 284.9h.01M228.9 286.4h.01M240.1 284.3h.01M226 288.2h.01M239.5 283h.01M223.4 289.2h.01M215 288.1h.01M245.7 282.2h.01M282.2 274.2h.01M279.1 269.1h.01M272.9 266.8h.01M276.2 270.9h.01M278.9 265.6h.01M310.9 258.4h.01M295.9 265.5h.01M297 264.1h.01M303 259.3h.01M292.1 266.8h.01M300 262.7h.01M302.6 259.2h.01M299.6 256.8h.01M294.3 261.4h.01M295.5 261.1h.01M304.5 260.5h.01M289.7 263.3h.01M294.7 261.1h.01M296.8 259.8h.01M292.8 265.7h.01M297.4 257.1h.01M300.3 260.4h.01M302.1 262.7h.01M253.5 234.1h.01M251.5 240.8h.01M248.8 230.4h.01M254.5 248.4h.01M280.6 243.3h.01M288.8 246.8h.01M283.7 247.4h.01M292 241.6h.01M282 247.8h.01M281.8 238.3h.01M281.9 243.7h.01M286.9 241.5h.01M263.1 234.9h.01M261.6 243.9h.01M264.8 238.3h.01M311.4 257.6h.01M322.2 262.2h.01M307.2 259.6h.01M311.5 260.6h.01M345.8 240.6h.01M346.8 238.8h.01M349.4 239.3h.01M353.3 242h.01M353.7 240.3h.01M353 238.4h.01M353.6 241.2h.01M350.5 238.6h.01M352 239.8h.01M351.2 236.5h.01M350.1 245.4h.01M344.8 250h.01M345.4 245.6h.01M332.5 251.9h.01M337.6 251.5h.01M336.6 249h.01M336.3 247.7h.01M329.5 308.2h.01M331.4 306.9h.01M329.2 305h.01M330.4 305.8h.01M328.5 307h.01M327.9 307.3h.01" stroke="#d00000" stroke-width="1.18" stroke-linecap="square" fill="none" opacity="0.85"/>
<path d="M378.2 259.3h.01M393.8 264.9h.01M385.4 274.5h.01" stroke="#c8f030" stroke-width="1.18" stroke-linecap="square" fill="none" opacity="0.85"/>
<polygon points="160.4,163.4 166.8,163.4 163.6,168.1" fill="#ff9808" stroke="#b86800" stroke-width="0.5"/>
<polygon points="162.1,161.9 168.5,161.9 165.3,166.6" fill="#ff9808" stroke="#b86800" stroke-width="0.5"/>
<polygon points="192.8,164.8 199.2,164.8 196,169.5" fill="#ff9808" stroke="#b86800" stroke-width="0.5"/>
<polygon points="195.6,165.3 202,165.3 198.8,170" fill="#ff9808" stroke="#b86800" stroke-width="0.5"/>
<polygon points="197,162.8 203.4,162.8 200.2,167.5" fill="#ff9808" stroke="#b86800" stroke-width="0.5"/>
<polygon points="229.2,163.7 235.6,163.7 232.4,168.4" fill="#ff9808" stroke="#b86800" stroke-width="0.5"/>
<polygon points="229.2,166.8 235.6,166.8 232.4,171.5" fill="#ff9808" stroke="#b86800" stroke-width="0.5"/>
<polygon points="264.5,162.3 270.9,162.3 267.7,167" fill="#ff9808" stroke="#b86800" stroke-width="0.5"/>
<polygon points="263,165 269.4,165 266.2,169.7" fill="#ff9808" stroke="#b86800" stroke-width="0.5"/>
<polygon points="264.6,166.9 271,166.9 267.8,171.6" fill="#ff9808" stroke="#b86800" stroke-width="0.5"/>
<polygon points="297.8,162.8 304.2,162.8 301,167.5" fill="#ff9808" stroke="#b86800" stroke-width="0.5"/>
<polygon points="299.4,163.3 305.8,163.3 302.6,168" fill="#ff9808" stroke="#b86800" stroke-width="0.5"/>
<polygon points="297.2,167.6 303.6,167.6 300.4,172.3" fill="#ff9808" stroke="#b86800" stroke-width="0.5"/>
<polygon points="365.7,240.5 370.4,228.3 372.3,232.9 383.6,228.1 387.2,236.5 376.6,241.6 378.1,245.7" fill="#000"/>
<rect x="58.5" y="152.4" width="625.3" height="206.9" fill="none" stroke="#6a6a6a" stroke-width="0.9"/>
<path d="M97.7 359.3v-6M97.7 152.4v6" stroke="#858585" stroke-width="1.1"/>
<text x="97.7" y="373.9" text-anchor="middle" font-family="'DejaVu Sans','Liberation Sans',sans-serif" font-size="10.6" fill="#2c2c2c">40</text>
<path d="M211.6 359.3v-6M211.6 152.4v6" stroke="#858585" stroke-width="1.1"/>
<text x="211.6" y="373.9" text-anchor="middle" font-family="'DejaVu Sans','Liberation Sans',sans-serif" font-size="10.6" fill="#2c2c2c">60</text>
<path d="M325.5 359.3v-6M325.5 152.4v6" stroke="#858585" stroke-width="1.1"/>
<text x="325.5" y="373.9" text-anchor="middle" font-family="'DejaVu Sans','Liberation Sans',sans-serif" font-size="10.6" fill="#2c2c2c">80</text>
<path d="M439.4 359.3v-6M439.4 152.4v6" stroke="#858585" stroke-width="1.1"/>
<text x="439.4" y="373.9" text-anchor="middle" font-family="'DejaVu Sans','Liberation Sans',sans-serif" font-size="10.6" fill="#2c2c2c">100</text>
<path d="M553.3 359.3v-6M553.3 152.4v6" stroke="#858585" stroke-width="1.1"/>
<text x="553.3" y="373.9" text-anchor="middle" font-family="'DejaVu Sans','Liberation Sans',sans-serif" font-size="10.6" fill="#2c2c2c">120</text>
<path d="M667.2 359.3v-6M667.2 152.4v6" stroke="#858585" stroke-width="1.1"/>
<text x="667.2" y="373.9" text-anchor="middle" font-family="'DejaVu Sans','Liberation Sans',sans-serif" font-size="10.6" fill="#2c2c2c">140</text>
<path d="M58.5 210.1h6M683.8 210.1h-6" stroke="#858585" stroke-width="1.1"/>
<path d="M58.5 267.7h6M683.8 267.7h-6" stroke="#858585" stroke-width="1.1"/>
<path d="M58.5 325.4h6M683.8 325.4h-6" stroke="#858585" stroke-width="1.1"/>
<text x="54.2" y="156.3" text-anchor="end" font-family="'DejaVu Sans','Liberation Sans',sans-serif" font-size="10.6" fill="#2c2c2c">0</text>
<text x="54.2" y="214" text-anchor="end" font-family="'DejaVu Sans','Liberation Sans',sans-serif" font-size="10.6" fill="#2c2c2c">10</text>
<text x="54.2" y="271.6" text-anchor="end" font-family="'DejaVu Sans','Liberation Sans',sans-serif" font-size="10.6" fill="#2c2c2c">20</text>
<text x="54.2" y="329.2" text-anchor="end" font-family="'DejaVu Sans','Liberation Sans',sans-serif" font-size="10.6" fill="#2c2c2c">30</text>
<text x="371.2" y="387.8" text-anchor="middle" font-family="'DejaVu Sans','Liberation Sans',sans-serif" font-size="11.6" fill="#2c2c2c">X (km)</text>
<text transform="translate(35 256) rotate(-90)" text-anchor="middle" font-family="'DejaVu Sans','Liberation Sans',sans-serif" font-size="11.6" fill="#2c2c2c">Depth (km)</text>
</g>
<text x="-1.5" y="165.4" font-family="'Noto Sans CJK JP','Liberation Sans',sans-serif" font-weight="300" font-size="28.2" letter-spacing="1.2" fill="#111"><tspan dy="-1.4">(</tspan><tspan dy="1.4">b</tspan><tspan dy="-1.4">)</tspan></text>
<g id="panel-c">
<rect x="55.2" y="414.3" width="190.5" height="199.3" fill="#fff"/>
<line x1="114.8" y1="414.3" x2="114.8" y2="613.6" stroke="#e8e8e8" stroke-width="1"/>
<line x1="174.3" y1="414.3" x2="174.3" y2="613.6" stroke="#e8e8e8" stroke-width="1"/>
<line x1="233.9" y1="414.3" x2="233.9" y2="613.6" stroke="#e8e8e8" stroke-width="1"/>
<line x1="55.2" y1="599.3" x2="245.7" y2="599.3" stroke="#e8e8e8" stroke-width="1"/>
<line x1="55.2" y1="575.5" x2="245.7" y2="575.5" stroke="#e8e8e8" stroke-width="1"/>
<line x1="55.2" y1="551.7" x2="245.7" y2="551.7" stroke="#e8e8e8" stroke-width="1"/>
<line x1="55.2" y1="504.1" x2="245.7" y2="504.1" stroke="#e8e8e8" stroke-width="1"/>
<line x1="55.2" y1="480.3" x2="245.7" y2="480.3" stroke="#e8e8e8" stroke-width="1"/>
<line x1="55.2" y1="456.5" x2="245.7" y2="456.5" stroke="#e8e8e8" stroke-width="1"/>
<line x1="55.2" y1="432.7" x2="245.7" y2="432.7" stroke="#e8e8e8" stroke-width="1"/>
<path d="M159.5 531.4h.01M84.9 537.3h.01M171.2 546.1h.01M116 489.8h.01M113.1 460.1h.01M135.4 568.8h.01M116.8 563.5h.01M123.9 469.2h.01M153.8 463.1h.01M129.4 575.6h.01M100.8 487.8h.01M79.1 518.5h.01M94.5 560.4h.01M114.2 522.5h.01M116.7 587.5h.01M178 534.6h.01M154.4 483.8h.01M59.1 495.8h.01M120.6 524.7h.01M108.9 561.5h.01M84 521h.01M127.3 492.2h.01M77.5 489.4h.01M180.6 553.5h.01M116.6 589.2h.01M109.3 492.5h.01M113.2 581.6h.01M152.2 548.6h.01M139.7 457.4h.01M118.4 569h.01M157.4 567.3h.01M155.1 498.6h.01M103.9 483.4h.01M124.3 497.5h.01M127.1 555.6h.01M136.1 550.9h.01M162.2 519.4h.01M131.7 542.5h.01M147.5 542.1h.01M138.5 571h.01M113.7 459.6h.01M118.6 545.6h.01M126.7 537.2h.01M119.7 567.2h.01M142.2 534.6h.01M137.7 467.3h.01M151 526.1h.01M161.5 534.7h.01M128.5 453.2h.01M136.3 532.5h.01M159.4 516.5h.01M115.1 487.6h.01M86.8 516.2h.01M76.7 484.2h.01M128.1 532.1h.01M130.6 569.8h.01M111.5 496.7h.01M114.3 569.6h.01M94 551.9h.01M128.9 494.9h.01M172.7 510.4h.01M103.6 544.1h.01M141.2 562.4h.01M98.4 543h.01M105.3 547.6h.01M117.4 514h.01M139.8 573.8h.01M137.2 576.5h.01M114.9 500.3h.01M120.6 492.6h.01M103 547.9h.01M129.1 554.3h.01M87.2 545h.01M90.8 492h.01M119.2 536.7h.01M153.8 516.1h.01M110.6 562.2h.01M127.5 495.3h.01M134.5 508.5h.01M163 509.1h.01M106.5 523.5h.01M174.6 496.3h.01M157 490.6h.01M161.7 515.4h.01M151.1 462.9h.01M149 495.9h.01M134.2 520.1h.01M97 488.3h.01M139.9 452.1h.01M99.2 563.6h.01M194.4 505.8h.01M136.8 568.2h.01M139.6 498.8h.01M119.7 460.4h.01M97.2 477.2h.01M154.8 534.2h.01M93.4 527.8h.01M142.9 507.1h.01M95.8 475.9h.01M106.5 547.2h.01M113 532.6h.01M159.4 501.2h.01M99.9 515.9h.01M113.9 553.9h.01M102 554.7h.01M101.7 544.9h.01M136.1 449h.01M69.4 503.9h.01M135.7 475.3h.01M105 547.1h.01M97.8 512h.01M112 510.9h.01M147 553.4h.01M146.9 516h.01M100.2 478.8h.01M77.8 484h.01M146.5 541.4h.01M152.8 555.2h.01M124.5 514.4h.01M79.9 498.9h.01M143.9 559.1h.01M96.5 505.3h.01M97.4 499.1h.01M111.4 583.8h.01M156.1 560.8h.01M138.3 483h.01M137.1 466.5h.01M71.1 513.6h.01M150.7 567.7h.01M113.1 521.4h.01M169 522.7h.01M117.7 546.2h.01M144.1 498.5h.01M59.6 497.4h.01M98.7 472.7h.01M68.9 493.5h.01M157.5 558.7h.01M82.5 482.8h.01M76 514.1h.01M88.7 479.3h.01M125.7 522.6h.01M92.8 484.6h.01M77.7 481.1h.01M136.3 521.9h.01M158.8 529.6h.01M111.6 519.7h.01M84.3 490.6h.01M108.2 565.1h.01M93.9 486.9h.01M84.6 486.2h.01M126.7 483.6h.01M127.7 456.4h.01M105.1 513.3h.01M115.1 499.5h.01M161.7 550.9h.01M163.5 506.6h.01M167.6 521.3h.01M157.8 484h.01M71.7 505.1h.01M138.8 482h.01M163 504.6h.01M67.9 501.9h.01M102.8 522h.01M88.9 474h.01M178.9 518.2h.01M117.8 478.7h.01M153.2 561.5h.01M85.3 517.1h.01M125.9 509.4h.01M160.1 487.7h.01M153.5 553.7h.01M92.7 507.4h.01M131.6 495.7h.01M99.5 513.6h.01M139.6 497h.01M165.9 493.9h.01M77.9 491.9h.01M126.5 542.5h.01M162.9 537.4h.01M85.7 543.1h.01M96 520.6h.01M76 521.8h.01M142.8 535.9h.01M162.4 520.1h.01M155.3 482.8h.01M152.6 505.8h.01M68.2 496h.01M156.3 535.7h.01M138.9 568.6h.01M130.6 458h.01M127.9 477.9h.01M131.8 500.5h.01M104.3 487.4h.01M100 480.6h.01M151.1 532.7h.01M117.5 539.6h.01M108.2 546.4h.01M81.3 485.1h.01M121.1 511h.01M170.6 555.3h.01M65.1 501.6h.01M125.8 475.8h.01M151.3 523.3h.01M131.2 456.1h.01M117.9 549.4h.01M108.5 474.6h.01M76.3 492.1h.01M122.5 467h.01M172.5 554h.01M69.4 492.3h.01M118.8 516.8h.01M133.9 457.6h.01M130.7 498.7h.01M136 495.5h.01M159.5 561.2h.01M106 564.7h.01M91.5 486.6h.01M132.6 546.3h.01M109.9 499.3h.01M169.5 532h.01M104 508.9h.01M109.8 467h.01M117 545.7h.01M87.8 485.9h.01M92.2 472.6h.01M122.7 504.3h.01M73.2 510.8h.01M126.3 514.3h.01M137.6 572.7h.01M108.8 467.9h.01M157.4 491.3h.01M60.4 492h.01M146.3 556.9h.01M181.3 539h.01M157 489.9h.01M109.1 523.9h.01M128.6 466h.01M105.1 472.9h.01M104.5 574.8h.01M122.6 471.2h.01M200.1 534.3h.01M98.3 524.7h.01M151.5 486.4h.01M100.1 535.6h.01M130.2 460.6h.01M140.6 492.9h.01M136 523.4h.01M111.8 535.7h.01M151.2 534.8h.01M143.4 535.9h.01M155.8 490.1h.01M161.2 537.3h.01M107.3 466.9h.01M91 474h.01M137.4 532.5h.01M122.4 524.3h.01M94.9 491.3h.01M88.7 532.8h.01M130.1 500.9h.01M116.6 530.6h.01M89.2 519.4h.01M123.4 480.3h.01M66.4 497.1h.01M124.9 581.8h.01M127.5 555.5h.01M128.7 560.9h.01M129.9 533.3h.01M154.5 458.3h.01M102.8 563.9h.01M58.9 495.5h.01M154.2 551.9h.01M120.6 469.9h.01M151 518.9h.01M155.9 448.6h.01M128.6 461.9h.01M138.1 531.3h.01M130.9 457.4h.01M98.2 507.2h.01M160 500.7h.01M110.5 480.8h.01M135.6 572.8h.01M84.3 522.4h.01M133.1 530.5h.01M80.7 495.7h.01M149.1 497.8h.01M154.2 454.2h.01M135 517.9h.01M148.3 527.2h.01M81 511.8h.01M173.5 552.2h.01M151 481.8h.01M166.3 541.3h.01M115.9 587.6h.01M159.8 528.8h.01M114.7 501.7h.01M102.7 560.8h.01M127.1 577.2h.01M173.2 491.8h.01M109.6 490.8h.01M128 488.8h.01M159.4 557.2h.01M107.5 475.4h.01M97.5 539.7h.01M113.9 532.1h.01M109.8 488.4h.01M115.9 475.5h.01M126.1 551h.01M145.4 541.8h.01M80.4 504.5h.01M133.6 460.3h.01M78.3 501h.01M135.1 529.1h.01M111.5 553.3h.01M127.4 484h.01M101.8 561.9h.01M150.4 482.1h.01M146.7 504.7h.01M152.2 567.2h.01M163.6 531.1h.01M109.4 587.5h.01M177 512.4h.01M156.8 501.1h.01M161.8 537.4h.01M104.6 463.4h.01M179.7 532.6h.01M135.8 509.7h.01M131.1 579.1h.01M126.4 562.3h.01M130.4 535.2h.01M83.2 477h.01M155.5 533.9h.01M116.1 497.9h.01M126.5 531h.01M138.7 536h.01M129.2 562.2h.01M62 489.8h.01M92.1 532.1h.01M103.3 571.1h.01M164.9 540.8h.01M107.9 580.4h.01M79.2 486.8h.01M86.5 523.4h.01M77.5 479.3h.01M126.8 548.6h.01M126.3 579.1h.01M136.2 474.2h.01M123.5 507.4h.01M144.4 543.6h.01M134.3 534.9h.01M93.1 514h.01M166.9 530.8h.01M156.3 546.5h.01M99.4 547.8h.01M86.2 512.7h.01M94.5 526.3h.01M87.4 547.2h.01M72 502.3h.01M95.6 549.5h.01M148.6 546h.01M96.7 525.2h.01M150.1 467.9h.01M115.2 546.7h.01M106.5 560.5h.01M124.8 542.8h.01M111.6 470.3h.01M182.5 503.9h.01M133.1 510h.01M86.3 511.2h.01M101 556.1h.01M89.4 484.2h.01M164.4 468h.01M143.6 567.9h.01M101.4 493.3h.01M106.8 475.2h.01M127.1 542.6h.01M145.2 447.7h.01M98.9 502.1h.01M171.8 501.2h.01M155.7 516.6h.01M105.3 480.6h.01M148.9 517.1h.01M141.5 540.7h.01M109.3 562.2h.01M66.8 496h.01M121.1 542.1h.01M110 481.9h.01M153.3 503.8h.01M100.1 529.7h.01M123.8 467.2h.01M136.9 550.1h.01M153.7 496.6h.01M96.1 523.5h.01M109.9 494.6h.01M133.8 529h.01M85.9 478.8h.01M134.7 478.7h.01M141.8 509.6h.01M150.1 478.2h.01M125.4 473.1h.01M88.5 539.8h.01M110.2 466.1h.01M102.5 468.8h.01M130.6 580.7h.01M83.8 484.1h.01M87.6 509.4h.01M113.9 554.8h.01M73.9 522h.01M128.4 487.5h.01M107.3 523.3h.01M77.6 512.1h.01M163 509.3h.01M112.5 501.4h.01M70.8 484h.01M78.4 479.1h.01M89.8 499.4h.01M129.5 486.8h.01M128.5 573.5h.01M154.3 529.4h.01M153.5 552.4h.01M128.5 460.1h.01M132.7 520.4h.01M148.8 484.4h.01M155 547h.01M145.5 521.2h.01M102.3 502.1h.01M151.8 522.8h.01M131.6 523.1h.01M118.6 580.2h.01M121.7 493h.01M91.5 492.6h.01M160 515.4h.01M94.2 507.1h.01M114 492.5h.01M112.1 479h.01M154.1 498.9h.01M88.7 540.4h.01M127.3 542.3h.01M151.6 518.8h.01M138.4 474.8h.01M120.5 462.3h.01M106 528.7h.01M170.7 528.1h.01M150.9 509.2h.01M156.3 527.5h.01M182.3 529.9h.01M149.8 560.1h.01M149.4 482.3h.01M146.2 529.1h.01M132.5 513.6h.01M114 464.5h.01M115.6 524.2h.01M127.3 575.2h.01M154 511.2h.01M121.5 497.7h.01M91.6 470.8h.01M88.2 515.1h.01M120.4 538.8h.01M97 538.1h.01M114.5 563.2h.01M142.7 544.4h.01M110.8 580.1h.01M70.6 517.8h.01M73.6 522.4h.01M88 530.3h.01M118.1 497.2h.01M120.1 495.7h.01M103.8 520.6h.01M135.9 579.4h.01M145.8 530.1h.01M128.1 499.1h.01M65.3 502.2h.01M95 559.6h.01M96.5 510.1h.01M124.9 566.3h.01M67.2 496.3h.01M129.4 488.2h.01M110.7 579.4h.01M124.2 458.7h.01M172.3 504.1h.01M82.4 484.7h.01M98.9 526.5h.01M122.8 580.3h.01M153.8 554.1h.01M78.7 515.8h.01M184.4 508.9h.01M109.6 506.8h.01M107.2 531.2h.01M105.5 518.2h.01M157.5 533.9h.01M108.8 579.4h.01M117.1 555.6h.01M143.6 504.8h.01M109 486.9h.01M68.8 488.9h.01M127.7 555.1h.01M122.8 571.8h.01M86.3 535.6h.01M139.3 491.5h.01M120.1 536.1h.01M142.6 532.9h.01M174.3 518.8h.01M105.7 483.7h.01M142.4 485.7h.01M59.4 492.4h.01M115.8 515.5h.01M135.7 484h.01M156.4 528.9h.01M146.9 482.2h.01M144 572.2h.01M134.2 521.8h.01M85.8 484.3h.01M147.3 519.2h.01M128.7 506.1h.01M135.7 547.6h.01M122.1 581.8h.01M160.9 504.4h.01M119.1 470.3h.01M147.9 485.3h.01M101.4 482.9h.01M115 547.2h.01M82.7 476.2h.01M119.8 552.9h.01M130.2 489.1h.01M144.5 522h.01M143.8 507.9h.01M141 497.2h.01M145.2 491.9h.01M92.8 518.4h.01M148.5 503.9h.01M107.9 508.6h.01M147.1 496.1h.01M88.7 544.6h.01M161.6 556.2h.01M157.9 518.9h.01M111.3 511.8h.01M127.3 459.6h.01M80.8 502.6h.01M147.9 539.9h.01M100.5 515.2h.01M126.1 572.6h.01M138.1 479.7h.01M179 500.1h.01M81.8 503.6h.01M60.3 489h.01M109.1 527.1h.01M149.5 528.3h.01M143.2 511.9h.01M149 523.5h.01M142.6 454.3h.01M188.8 526.9h.01M146.4 489.8h.01M171.8 520.1h.01M103.1 513.1h.01M113.4 486.5h.01M162.5 453.6h.01M149.9 489.2h.01M138.9 480.3h.01M88.3 502.4h.01M148.9 558.1h.01M84.1 517.7h.01M139 555.9h.01M134.9 470.6h.01M86.3 507.4h.01M110.7 551.2h.01M98.8 500.9h.01M91.8 529.7h.01M121.8 487.7h.01M130.7 563.4h.01M152.7 554.6h.01M123.9 487h.01M99.8 470.2h.01M118 505.4h.01M82.7 538.9h.01M129.4 515.7h.01M144.3 520.9h.01M149.2 503.3h.01M64 496.5h.01M169.3 501.1h.01M79.7 511.3h.01M112.2 559.1h.01M107.4 545.1h.01M169.1 524.4h.01M119.1 506h.01M122.7 463.9h.01M157.8 538.8h.01M101.7 515.7h.01M149.8 561.6h.01M102.7 510.7h.01M93.8 522.3h.01M136.6 496.6h.01M120.6 477.8h.01M116 483.2h.01M174.9 509h.01M115.1 542.1h.01M111.9 522.5h.01M167.7 545.1h.01M140.9 518h.01M93.7 502.8h.01M108.7 552.5h.01M129.9 509.4h.01M127.5 578.9h.01M111.7 558.6h.01M119.1 559.4h.01M116.4 551.6h.01M128.7 467.1h.01M134.1 466.8h.01M101.8 559.3h.01M173.8 519.6h.01M170.9 549.7h.01M71.2 502.1h.01M179.1 546.1h.01M104.9 555h.01M114.6 488.8h.01M174.3 520.7h.01M126.7 503.8h.01M114.5 520.7h.01M119.8 517.3h.01M125.6 558.4h.01M119.4 562.8h.01M128.8 569.6h.01M140.5 516.1h.01M163.5 559.3h.01M120.8 545.9h.01M130.3 538.8h.01M155 486.4h.01M94.7 492.1h.01M117.8 573.4h.01M110.4 492.2h.01M112.3 476.6h.01M101.7 481h.01M132.6 487.6h.01M150.1 482.6h.01M136.9 537.7h.01M168 528h.01M91.5 520.4h.01M75.2 518.2h.01M148.8 555h.01M66.8 487.4h.01M153.3 496.1h.01M126.9 498.9h.01M113.8 586.1h.01M76.7 506.7h.01M148.5 538.7h.01M116.8 566.9h.01M111.8 559.7h.01M107.5 513.5h.01M110 520h.01M122.1 580.1h.01M108.6 484h.01M160.1 544.6h.01M159.4 560.3h.01M126.7 565.8h.01M158.8 533.1h.01M95.7 512.1h.01M109.5 464.7h.01M136.6 529.7h.01M155.4 555.5h.01M103 530.2h.01M129.9 576.5h.01M68 508.2h.01M146 487.1h.01M109.1 549.2h.01M165.1 504.1h.01M70.9 518.6h.01M66.9 494.9h.01M155.3 509.7h.01M149.7 567.9h.01M117.2 566.1h.01M129.1 542.6h.01M161.2 505.8h.01M112.6 580.2h.01M147.6 477.9h.01M98.2 540.5h.01M118.7 494.1h.01M112.2 490.9h.01M95.4 485.3h.01M104 479.9h.01M108.9 468.2h.01M73.3 521.6h.01M167.3 469.5h.01M129.3 565.5h.01M102.5 529.2h.01M138.1 526.7h.01M152.7 503.9h.01M116.8 482.2h.01M94.4 497.7h.01M105.4 467.1h.01M140.6 536.5h.01M128.7 527.5h.01M147.3 495.7h.01M126.4 536.6h.01M131.6 513.9h.01M94.3 531.2h.01M162.5 456.2h.01M114.4 564.3h.01M94.8 487.6h.01M89.7 503.6h.01M127.4 455.3h.01M139.6 517.7h.01M90.7 476.9h.01M94.4 554.8h.01M143.2 485.8h.01M131.3 477.3h.01M132.6 518.6h.01M115 489.3h.01M148.7 442.5h.01M106.6 472.8h.01M103.1 496.5h.01M165.7 552.1h.01M128.4 532.6h.01M108.5 486h.01M166.9 557.5h.01M153.2 547.4h.01M105.9 487.9h.01M99.6 501.8h.01M141.5 507.1h.01M102.8 543.6h.01M97.2 488h.01M100 564.5h.01M184.4 529.6h.01M100.9 500.9h.01M72.9 515.9h.01M130.6 519.7h.01M73.9 499.1h.01M114.7 529.9h.01M86 524h.01M127.6 487.7h.01M84.6 529.1h.01M120.4 516.9h.01M149.9 493.2h.01M149 477.5h.01M161.2 529.9h.01M140.2 562h.01M103.3 481.5h.01M165.8 551.1h.01M174.7 477.6h.01M110.2 509.4h.01M115.5 579.6h.01M73.4 492.3h.01M89.2 512.7h.01M77.9 482.8h.01M136.4 454.5h.01M113.5 564.1h.01M172.6 495.8h.01M130.6 457.7h.01M136.1 565.2h.01M157.1 499.6h.01M140 514.5h.01M124.2 534.7h.01M120.9 486.1h.01M91 510.3h.01M116 529.5h.01M118.4 575.5h.01M99.6 519.8h.01M117.2 523.4h.01M116.4 532.1h.01M123.6 479.7h.01M114.2 484.7h.01M104.4 540.9h.01M114.7 464.4h.01M169.2 535.1h.01M160.8 542h.01M116.6 557.7h.01M109.2 534.2h.01M134.4 559.6h.01M156.2 488.9h.01M159.2 451.6h.01M78.4 525.6h.01M124.5 578.4h.01M138.5 472.4h.01M63.2 503.6h.01M115 490.9h.01M137.1 487.1h.01M139.4 538.9h.01M121.9 478.7h.01M112.3 583h.01M139.6 506.8h.01M162.7 507.6h.01M122.2 506.9h.01M92.9 516h.01M125.1 567.6h.01M131.3 454.4h.01M144.4 540.5h.01M161.6 539.6h.01M86.5 525.2h.01M134.7 454.5h.01M162.7 468.6h.01M115.9 555h.01M163.4 499.6h.01M156.6 553.5h.01M113 476.2h.01M87.9 517.9h.01M141.9 528.4h.01M107.3 508.6h.01M149.6 440h.01M174.2 499.3h.01M159.4 491.4h.01M133.5 548.9h.01M105.2 464.4h.01M79.2 515.4h.01M167.6 516.9h.01M164.8 502.9h.01M125.4 555.9h.01M100.8 550.2h.01M108.7 525.8h.01M106 535.7h.01M82.8 505.3h.01M66.8 486.7h.01M124.7 479.6h.01M103.5 550.1h.01M138.2 475.7h.01M134.8 485.4h.01M130.6 452.6h.01M94.1 537h.01M123.6 479.7h.01M130.6 500.6h.01M111.8 583.1h.01M106.8 523h.01M107.9 466.1h.01M97.3 545.7h.01M92.7 517.3h.01M79.2 531.8h.01M169.1 532.2h.01M123.4 535h.01M113.5 579h.01M159 446.2h.01M177.7 554.1h.01M98.5 535h.01M126.8 571.6h.01M107.4 545.3h.01M84.9 531.3h.01M134.6 457h.01M153.1 521.7h.01M139.2 513h.01M114.2 550.4h.01M148.4 551.8h.01M113.4 540h.01M118.6 466.8h.01M124.5 557.3h.01M128 531.3h.01M123.9 488h.01M116.6 572.8h.01M153.3 516.3h.01M85.6 484.4h.01M152.3 543.8h.01M146 518.9h.01M111.4 472.9h.01M138.3 453.4h.01M95.1 560.9h.01M90.1 483.7h.01M147.9 510.1h.01M107.9 544.9h.01M70.4 508.2h.01M73.4 486.3h.01M134.3 548.1h.01M120.5 488h.01M131.2 577.1h.01M153.2 513.2h.01M154 563.1h.01M135.4 470.2h.01M136.9 460.8h.01M130.5 560.8h.01M105.1 495.3h.01M83.5 533.4h.01M94.1 512.7h.01M90.1 506.1h.01M132.7 530.1h.01M123.1 534.4h.01M98.3 512.6h.01M124.4 480.7h.01M125.1 577.4h.01M144.1 493.4h.01M103.2 488.1h.01M162.4 506.7h.01M73.1 483.7h.01M149.4 555.6h.01M129 535.1h.01M117 475.9h.01M113.9 549.2h.01M113.9 564.4h.01M128 584.1h.01M120.2 457.7h.01M134.3 509.9h.01M94.5 471.6h.01M97.1 482.8h.01M164.3 528.9h.01M102.7 548.6h.01M158.7 562.6h.01M109 464.8h.01M85.4 499.5h.01M118.6 578.9h.01M57.7 490.4h.01M129.2 453.2h.01M128 499.6h.01M163 557.7h.01M86.4 492.6h.01M88 525.3h.01M80.8 487.9h.01M151 554.9h.01M116.7 535.1h.01M109.4 533.3h.01M147.8 469.9h.01M74.7 481.7h.01M179.1 505.8h.01M124.5 496.4h.01M93.6 492.2h.01M67.1 503.2h.01M120 528.9h.01M118.2 567.1h.01M83.2 498.4h.01M142.5 527.1h.01M128.5 566h.01M109.2 476.7h.01M130.6 457.2h.01M127.6 452.7h.01M104.3 522.4h.01M156.8 485.5h.01M120.2 480.5h.01M175.3 548h.01M151.7 525.2h.01M84.6 519.7h.01M154.9 568.4h.01M125.9 514.3h.01M102.6 551.1h.01M135.9 523.8h.01M156.4 526.1h.01M154.3 496.2h.01M122.1 571.5h.01M152.6 482.1h.01M79.9 493.9h.01M119 565.3h.01M124.1 572.7h.01M154.6 548.1h.01M119.2 542.5h.01M140.5 461.3h.01M130.7 499.8h.01M103.3 469.8h.01M91.2 546.7h.01M120.2 510.7h.01M138.8 490.9h.01M136.3 453.7h.01M163.4 513.9h.01M100.3 552.2h.01M152.3 564.6h.01M88.8 524.9h.01M142.2 513.4h.01M142.8 504.4h.01M98.1 544.3h.01M96 518.2h.01M87.1 484.5h.01M140.6 546.6h.01M141.5 525.2h.01M174.6 535.4h.01M121.4 466.5h.01M124.1 513.7h.01M123.7 490.8h.01M165.1 542.2h.01M160.7 561.3h.01M138.9 494.1h.01M140.1 572.3h.01M151.9 552.6h.01M92.1 551.7h.01M107 574.7h.01M128.4 482.2h.01M134.3 580.6h.01M81.9 484.1h.01M111.2 572h.01M70.1 498.1h.01M111.4 558.5h.01M127.4 507h.01M102.3 470.7h.01M138.2 462.6h.01M107.3 520.9h.01M90.3 534.4h.01M143.6 474.3h.01M134.9 461.4h.01M67.1 495.2h.01M132 482.3h.01M106.7 565.1h.01M107.8 572.3h.01M104.5 539.4h.01M133.7 508.2h.01M110.5 527.3h.01M100.3 522.1h.01M119.7 500.7h.01M120.7 522h.01M84.7 483.7h.01M145.1 531.3h.01M140.4 476.5h.01M144.5 507.7h.01M103.3 496.3h.01M96.9 515.8h.01M110 472.6h.01M139.3 461.8h.01M70.7 493.1h.01M125.7 514h.01M100.8 534.9h.01M124.9 563.8h.01M96.8 493.6h.01M111.8 544.3h.01M130.2 490h.01M105.2 555.6h.01M153.7 532.1h.01M128.5 545.6h.01M97.1 489.1h.01M90.3 474.3h.01M139.9 467.6h.01M134.9 553.7h.01M145.4 460.4h.01M138.7 540.1h.01M129.9 542h.01M130.8 459.4h.01M134.6 464.8h.01M138.8 472.7h.01M158.5 516.2h.01M108.3 528.5h.01M126.7 462.4h.01M71.6 498.9h.01M154.2 541.1h.01M107.1 505.4h.01M148.3 541h.01M152 445.8h.01M99.7 554.4h.01M143.2 479h.01M113.2 489.4h.01M80.8 535.2h.01M126 533.1h.01M127.6 507.5h.01M158.1 532.1h.01M108.1 555.9h.01M162.1 504.7h.01M142.7 566.8h.01M161.8 521.7h.01M132.4 459h.01M117.4 536.9h.01M130.2 538.2h.01M81.4 513.1h.01M112.7 473.7h.01M121.9 471.8h.01M135.2 450h.01M153.7 555.9h.01M162.1 537.2h.01M113.6 489.7h.01M109.7 549.3h.01M161.9 536.2h.01M161.1 538h.01M89.2 510.6h.01M125.5 543.3h.01M130.1 576.2h.01M170.2 483.3h.01M114.5 580.3h.01M97 548.1h.01M78.8 524h.01M93.2 520.3h.01M156.2 553h.01M176.9 531.4h.01M112 569.2h.01M146 555.6h.01M148.6 545.5h.01M77 514.2h.01M138.9 496.8h.01M158 551h.01M137.9 495h.01M150.1 506.3h.01M110.6 515.9h.01M87.1 476.8h.01M123.6 565.4h.01M83.4 539.9h.01M183.5 486.9h.01M126.6 509.5h.01M116.1 511.4h.01M148.8 471.5h.01M88.6 540.2h.01M140.1 495h.01M115.2 479.6h.01M125.9 525.8h.01M125.4 522.4h.01M90.3 481.3h.01M115.3 485.5h.01M110.6 587.5h.01M142.8 574.5h.01M123.5 493.6h.01M155 439.7h.01M161 521.5h.01M110.6 584.8h.01M120.6 503.6h.01M148.6 491.4h.01M61.5 494.8h.01M146.2 532.7h.01M104 537.3h.01M132.4 513h.01M133.4 488.7h.01M94.8 495.3h.01M132.1 570h.01M173.6 554.6h.01M165 559h.01M110.9 585.1h.01M162.8 546.3h.01M94.4 554.4h.01M79.9 498.4h.01M159.9 535.9h.01M121.3 564.4h.01M124.5 477h.01M118.3 467.3h.01M135.4 477.4h.01M96 471.1h.01M83.9 515.5h.01M107.2 574h.01M117.1 461.6h.01M87.8 547.5h.01M113.1 570.7h.01M102.6 543.2h.01M88.8 500.8h.01M78.8 510h.01M160.1 522.4h.01M71.9 484.8h.01M118.6 463.3h.01M97.3 526.7h.01M143.2 479h.01M120.1 498.9h.01M128.1 582.8h.01M128.1 583.5h.01M157.4 495.7h.01M99.6 470.6h.01M133.1 570.6h.01M131.1 560.6h.01M160.5 530.2h.01M126.4 567.5h.01M173.1 523.8h.01M101.2 506.5h.01M115 530.3h.01M121.2 529.9h.01M174.7 542.9h.01M154.4 464h.01M134.6 478.9h.01M128.7 458h.01M94.6 537.2h.01M108.6 488.5h.01M80.8 479.6h.01M159.3 537.2h.01M86.5 513.8h.01M133 547.7h.01M169.3 556.8h.01M121 480.7h.01M120.9 501.3h.01M137.8 505.9h.01M144.2 488.8h.01M156.2 562.6h.01M73.8 514.7h.01M117.8 540.9h.01M116.8 529.3h.01M123.5 475.7h.01M114.1 576.2h.01M150.3 566.5h.01M147.3 444.4h.01M165.3 491.1h.01M132.2 447.5h.01M171.4 524.6h.01M149.8 517.3h.01M125.7 534.8h.01M88.1 511h.01M122.1 506.1h.01M115.5 507.4h.01M118.9 546.8h.01M113.9 537.9h.01M145.3 513.1h.01M100 509.1h.01M108.6 488.7h.01M153.4 456.9h.01M78.5 478.7h.01M156.4 527.7h.01M144.4 526.9h.01M166.5 529.4h.01M109.7 557.9h.01M150.3 494.1h.01M149.4 502.3h.01M109.2 507h.01M102.8 551.8h.01M123.2 500.6h.01M122 474.6h.01M99.1 535.1h.01M114.2 500.1h.01M108.9 531.8h.01M115.8 513.4h.01M149.3 542.6h.01M107.4 529.3h.01M137.1 530.2h.01M97.3 500.5h.01M103.7 504h.01M134.8 488.3h.01M152.6 516.5h.01M94.5 550.6h.01M149.7 527.3h.01M108 496.3h.01M160 504h.01M140.1 573.8h.01M129.1 490.7h.01M132.3 580.5h.01M134.5 469.2h.01M127.6 543.8h.01M107.9 541.2h.01M167.4 512.7h.01M93.8 506.6h.01M125.5 545.7h.01M129.3 477.4h.01M106 514.9h.01M125.2 531.7h.01M152.2 560.1h.01M176.7 534.5h.01M158.7 496.9h.01M162.1 525.1h.01M180.6 547.8h.01M120.4 515.4h.01M98.7 498.1h.01M90.5 474.8h.01M140.2 523.5h.01M156.6 487.7h.01M127.3 584.4h.01M136.1 473.9h.01M111.7 564.6h.01M131.8 562.1h.01M155.9 500.4h.01M101.5 480.4h.01M146.2 511.9h.01M104.4 548h.01M118 543.4h.01M109.8 500.2h.01M111.6 513.1h.01M100.4 553.7h.01M121.3 512.9h.01M109.3 557.3h.01M91.7 497.9h.01M159.3 513.4h.01M122.9 508.6h.01M152.3 490h.01M118.2 487.9h.01M81.1 523.7h.01M102.7 550.2h.01M200.8 530.3h.01M112.9 548.2h.01M97.5 512.7h.01M148.1 445.4h.01M77.8 516.1h.01M147.2 487.6h.01M126.9 516h.01M189.8 514.7h.01M169.3 552h.01M71.1 489.4h.01M123.6 526.1h.01M133.2 528.5h.01M141.5 511.5h.01M120.9 544.7h.01M68.9 490.9h.01M120.4 463.9h.01M116 583.6h.01M105.7 508.7h.01M103 492.6h.01M149.5 549.5h.01M116.3 472.9h.01M107 524h.01M105.2 534.7h.01M103.3 473.5h.01M149.5 552.9h.01M117.4 588.8h.01M72.3 511.7h.01M74.3 496.6h.01M110 477.7h.01M142.1 526h.01M157.7 492.8h.01M157.9 514h.01M102.8 501.7h.01M70 485.4h.01M116.2 495.5h.01M100.5 549.4h.01M119.9 563.8h.01M130.4 513.4h.01M157.8 533.2h.01M151.9 447.9h.01M150.1 532.8h.01M157.2 529.1h.01M76 518.1h.01M149.7 491.7h.01M101.5 479h.01M133.7 477.2h.01M109.7 531.1h.01M72.4 484h.01M131.7 484h.01M109.9 477.5h.01M146.1 536.5h.01M141.8 484.7h.01M158.4 501.1h.01M101.2 538.1h.01M100.9 564h.01M165.6 547.1h.01M131.6 451.2h.01M98.5 473.3h.01M96.7 559.7h.01M120.6 537.2h.01M145.8 563.2h.01M115.2 557.8h.01M152.8 552.5h.01M82.4 481.4h.01M120.2 536.4h.01M124.8 488.2h.01M111.8 465.5h.01M107.6 505.3h.01M101.4 563.4h.01M126.2 522.9h.01M112.5 522h.01M116.1 586.7h.01M133.7 448.1h.01M120 576.6h.01M100.4 567.7h.01M67.1 501.7h.01M157.1 530.2h.01M159.9 545.9h.01M133 510.7h.01M147.3 463.6h.01M151.4 468h.01M88.5 541h.01M155.1 516.8h.01M86.3 522.3h.01M156 517h.01M79.2 508.1h.01M115.3 497.7h.01M68.2 492.3h.01M64.6 493.1h.01M122.8 520.1h.01M122.2 504.8h.01M159.4 546.1h.01M76.3 490.9h.01M144.4 569.4h.01M119.5 465.4h.01M121 579.4h.01M79.5 504.4h.01M139.6 489.2h.01M128.9 527.7h.01M148.6 568.9h.01M115 531.6h.01M87.6 494.6h.01M161.5 543h.01M131.2 510.1h.01M130.4 552h.01M114.4 577.1h.01M102.8 514.5h.01M71.9 508.4h.01M143.2 450.1h.01M126.6 561.8h.01M119.5 537.2h.01M146.4 519h.01M146.5 525.1h.01M166.6 546.3h.01M109.1 505.9h.01M166.2 507.1h.01M153.1 483.6h.01M158.3 495.2h.01M92.3 553.3h.01M130.5 462.7h.01M159 527.6h.01M78.9 507h.01M84.8 534h.01M154.2 519.7h.01M89.3 517.9h.01M137.6 523.4h.01M61 496.6h.01M128.1 576.5h.01M104.9 539.9h.01M113.5 537.6h.01M100.8 553.3h.01M161.8 456.2h.01M129.6 557.3h.01M139 514.3h.01M161.1 498.5h.01M163.1 507.7h.01M119 462h.01M114.8 574.3h.01M125.7 551.5h.01M102.4 530.6h.01M157.1 444.5h.01M118 562.7h.01M118.9 469.2h.01M122.5 497.9h.01M87.7 537.6h.01M125.5 542.7h.01M81.6 486.6h.01M153.7 509.7h.01M75.5 503.8h.01M127.7 531.4h.01M83.3 484.6h.01M106.3 520.3h.01M154.5 565.4h.01M79.3 533h.01M91.5 476h.01M149.8 558h.01M159.5 534.2h.01M97.2 548.3h.01M203.3 524.9h.01M90.1 483.4h.01M95 528h.01M131.1 490.3h.01M107 583.2h.01M123.2 462.2h.01M144.9 525.8h.01M131.7 565.6h.01M125.3 528.4h.01M134.6 490.5h.01M133.4 530.8h.01M136.8 560.2h.01M115.8 542.7h.01M123.4 564.2h.01M173.6 546.5h.01M180.3 534.6h.01M142 510h.01M93 482.6h.01M185.6 522.1h.01M133 494h.01M158 484.6h.01M82.9 533.6h.01M161.3 499.3h.01M71.8 499.6h.01M78.2 494.2h.01M138.5 512.5h.01M108.8 468.4h.01M122.1 456.1h.01M104.4 504.6h.01M99.5 555.7h.01M101.1 563.1h.01M141.3 496h.01M74.7 514.9h.01M68.2 509.2h.01M119.5 564.3h.01M166.9 509.4h.01M149.3 538.4h.01M131 520h.01M122.7 568.7h.01M165 484.2h.01M126 516.4h.01M177.1 547.7h.01M82.6 508.6h.01M91.3 473.1h.01M107.4 535.5h.01M136.7 551.7h.01M159 458.6h.01M151.6 559.8h.01M118 567.3h.01M136.6 481.3h.01M89.4 488.7h.01M162.4 477.8h.01M150.3 471.9h.01M100.3 559.9h.01M156.5 510.7h.01M127.6 584.6h.01M146 560.2h.01M118.3 511.7h.01M119.5 555h.01M167.5 488.8h.01M122.4 460h.01M150 562.6h.01M98.7 539.9h.01M113.1 536.8h.01M162.6 469.9h.01M159.8 523.2h.01M110.2 514.8h.01M130.9 485.3h.01M143 481.2h.01M163.9 488.6h.01M88.6 544.9h.01M88.7 529.7h.01M136.2 524.9h.01M137.2 474.8h.01M136.7 523.7h.01M200.4 539.1h.01M156.2 505.3h.01M104 523h.01M148.2 561.3h.01M102.5 470.6h.01M102.5 517.1h.01M103.8 509.3h.01M138.3 529.7h.01M126.5 507.4h.01M140.5 490.5h.01M183.7 531.3h.01M112.5 542h.01M146.5 548.5h.01M111.3 590.3h.01M155.9 519.9h.01M147.2 455.8h.01M89.7 473.4h.01M90.1 474.2h.01M89.3 476.9h.01M88.7 473.6h.01M90.1 475h.01M89.7 474.6h.01M93.2 473.5h.01M90.6 478.6h.01M93.2 476.8h.01M90.6 473.3h.01M91.6 472.7h.01M155.1 492h.01M154.8 486.1h.01M157.5 494.5h.01M154.2 489.9h.01M157.5 497.3h.01M155.7 496.2h.01M154.9 492.8h.01M155.4 494.1h.01M153.2 493.6h.01M155.7 490.7h.01M127.1 517h.01M124 508.3h.01M125.8 510.6h.01M127.6 512.7h.01M123.7 510.3h.01M130.2 512.3h.01M126.2 508.2h.01M124.4 515h.01M124.9 510.1h.01M125.6 514.4h.01M128.3 515.7h.01M123.7 509.6h.01M126.6 512.9h.01M127 515.3h.01M124.6 513.4h.01M124.8 509.7h.01M119.9 509.6h.01M85.8 488.9h.01M83.4 490.1h.01M83.9 487.4h.01M88.5 487.7h.01M89.3 486.8h.01M82.5 490.3h.01M86.3 489.6h.01M87.9 486.5h.01M83.2 488.5h.01M88.6 486.3h.01M89.3 486.9h.01M84.5 484.7h.01M85.6 493.6h.01M86.3 494h.01M86.2 485.2h.01M87.9 492h.01M84.9 482.8h.01M90.4 508.8h.01M87.8 505.8h.01M95.8 509.2h.01M86.8 508.8h.01M90.9 507.6h.01M89.8 508.9h.01M89.5 507.7h.01M95.1 509.1h.01M86.4 509.7h.01M96.1 505.2h.01M88.3 503.5h.01M96.9 507.4h.01M87.6 511.2h.01M90.6 507.6h.01M83 510.9h.01M106 534.4h.01M103.6 535.6h.01M104.9 535.1h.01M105.7 537.1h.01M107.6 536.2h.01M104.9 531.2h.01M105.7 539.4h.01M104.2 534h.01M105.9 530.3h.01M104.7 534.8h.01M106.1 537.7h.01M102 533.3h.01M104.9 533.6h.01M100 535.5h.01M102.1 539.2h.01M98.6 527.8h.01M99.6 533.8h.01M102.6 530.6h.01M101.3 536.1h.01M102.5 529.4h.01M112.9 497.3h.01M113.9 497.5h.01M111.5 497.7h.01M114.8 498.8h.01M112 495.4h.01M114.4 495.8h.01M112.6 493.4h.01M110.6 497h.01M98.8 535.7h.01M98.8 530.8h.01M96 532.3h.01M96.5 537.7h.01M98.4 525.6h.01M102.6 531.1h.01M99.7 529.7h.01M100 531.3h.01M94 528.2h.01M100.5 530.3h.01M101.5 534.5h.01M99.6 534.3h.01M94.5 529.7h.01M113.7 472.2h.01M113.2 471.7h.01M116.8 469.7h.01M111.7 470.2h.01M116.2 473.2h.01M113.1 474.7h.01M112.9 475h.01M118 472.6h.01M119 473.6h.01M111.3 465.5h.01M117.1 473.3h.01M115.7 472.5h.01M115.2 469.7h.01M107.7 468.5h.01M112.2 472h.01M119.5 476.3h.01M114.1 472.7h.01M113.9 472.1h.01M111.5 472.1h.01M151.9 509.5h.01M144.2 505.6h.01M146.2 512.6h.01M145.6 504.6h.01M143.8 506.5h.01M149.7 505.5h.01M142.1 507.6h.01M147.1 507.4h.01M148.9 512h.01M145.8 510.5h.01M148.5 511.7h.01M143.6 509.1h.01M147 507.6h.01M148 502.3h.01M119.4 479.2h.01M122.6 475.5h.01M119.6 480.1h.01M94.5 517.6h.01M100.3 509.4h.01M96.8 515.1h.01M95.4 518.2h.01M96.9 515.7h.01M101.1 516.7h.01M95.7 518.6h.01M94.7 514.3h.01M96.7 513.9h.01M95.4 517.2h.01M94.7 513.2h.01M95.5 518.7h.01M94.8 515.7h.01M92.6 515.3h.01M111.9 480.3h.01M111.3 474.3h.01M110.6 483.7h.01M115.2 474.5h.01M105 482h.01M113.5 481.6h.01M113.4 475.8h.01M110.4 483.4h.01M113.5 477.6h.01M111.4 483h.01M112.4 477.9h.01M107.5 488.4h.01M112.9 481.2h.01M111 480.2h.01M108.5 481.4h.01M116.6 477.5h.01M108 479h.01M109.8 485.5h.01M113.3 479.4h.01M85.4 484h.01M89.3 483h.01M83.6 486.1h.01M139.4 488.7h.01M138.4 489.7h.01M140.1 489.9h.01M142 488.3h.01M142.7 488.4h.01M140.1 484.1h.01M140.7 493.4h.01M140.2 487.9h.01M136.9 492.5h.01M136.3 491.1h.01M145.6 484.9h.01M141.7 483.4h.01M145.3 482.3h.01M141.5 487.9h.01M145.6 515.6h.01M145.6 513.5h.01M146.2 520.8h.01M147.3 522.3h.01M145.7 522.1h.01M148.7 519.9h.01M143.2 517.1h.01M142.1 521.1h.01M146.6 516.7h.01M150.4 516h.01M146.3 519.8h.01M145.9 517.9h.01M150.6 516.5h.01M147.6 516.9h.01M150.5 514.9h.01M147.9 514.2h.01M147.1 513.1h.01M148.7 516.9h.01M146.3 522.1h.01M142.8 516.7h.01M141.3 518.3h.01M151.9 521.5h.01M148.7 519.9h.01M147.8 520.5h.01M148.3 519.7h.01M149.1 517.1h.01M147.2 518.2h.01M147.8 517.8h.01M145.6 515.3h.01M145.2 517.7h.01M130.5 472.1h.01M117.7 480.3h.01M118.1 479.9h.01M123.6 477.5h.01M121.3 475.7h.01M123.4 475.4h.01M120.5 473.5h.01M119.3 476.2h.01M115.9 478.9h.01M121.4 478.5h.01M66.6 497.3h.01M73.2 490.8h.01M61.4 494h.01M66.3 496.3h.01M67.4 498.7h.01M67.3 494.6h.01M70.3 493.3h.01M68.6 493.7h.01M67.2 495.6h.01M62.9 495h.01M71.1 494.8h.01M69.4 497.4h.01M70.6 494.4h.01M68.5 494.8h.01M65.8 500.7h.01M70.6 491.5h.01M71.4 497h.01M67 497.3h.01M68.3 497.4h.01M70.5 494.3h.01M67.3 498.5h.01M65.6 496.7h.01M68.4 494.4h.01M68.1 496.4h.01M65.4 497.3h.01M66.2 497h.01M96.1 494.4h.01M97.6 495h.01M96.2 497.5h.01M96.1 501h.01M97.9 493.9h.01M93.5 495.5h.01M174.3 515.9h.01M175.3 519.4h.01M173.5 519.1h.01M176.5 511.9h.01M173.3 516.2h.01M175.2 518.4h.01M174.2 516.9h.01M174.1 520.8h.01M176.1 518.7h.01M173.5 517.6h.01M100.3 510.3h.01M108 507.4h.01M103.4 505h.01M107.6 537h.01M104.3 536.3h.01M110.1 530.9h.01M104.1 534.6h.01M105.7 531.2h.01M108.8 532.4h.01M103.2 535.5h.01M106.6 530.4h.01M110.4 533.6h.01M104.1 533.5h.01M110.7 530.5h.01M105.7 533.6h.01M104.4 534.4h.01M107.4 533.4h.01M104.1 537h.01M102.8 532h.01M106.3 534.2h.01M106.2 535h.01M104.4 535.4h.01M107.6 529.6h.01M100.4 534.7h.01M107.1 530.3h.01M105.3 534.4h.01M106.3 535.2h.01M104.3 534.7h.01M105.3 533.3h.01M102.4 534h.01M93 501.5h.01M94.6 499.5h.01M95.3 503.3h.01M97.8 502.5h.01M94.7 503.2h.01M91 506h.01M93.3 506.5h.01M95 502.2h.01M92.8 501.4h.01M99 505.6h.01M93.8 502.1h.01M94.7 504.5h.01M137 449.4h.01M138.2 454.8h.01M135.2 457.5h.01M131 459.4h.01M140.9 456.1h.01M138.2 453.3h.01M136.5 454.5h.01M137 454.5h.01M140.8 453.3h.01M132.8 455.1h.01M140.2 453.3h.01M141.1 458.4h.01M132.8 455.9h.01M137.8 454.2h.01M134.4 457.8h.01M81.5 488h.01M81 484.3h.01M83.7 492h.01M81 482.1h.01M80.7 485.4h.01M83.9 486.3h.01M80.7 484.2h.01M75.6 486.8h.01M74.4 493h.01M81.2 484h.01M78.8 492.2h.01M82.4 484.1h.01M79.9 490.4h.01M80.8 481.2h.01M117.7 469.8h.01M115 469.4h.01M115.8 471.6h.01M115.9 464.5h.01M119 469.5h.01M113.4 475.3h.01M119.5 467.4h.01M88.3 488.5h.01M94.9 489.8h.01M91.2 490.7h.01M94.3 491.1h.01M93.3 489.8h.01M97.1 489.8h.01M98.2 488.5h.01M93.4 477.7h.01M87.8 477.7h.01M89 476.2h.01M88.2 478.5h.01M94.1 477.6h.01M92.8 477.8h.01M90.8 477.8h.01M90 476.5h.01M91.3 479.3h.01M95.9 475.1h.01M93.1 475.3h.01M96.2 472.2h.01M92.3 473.8h.01M84.7 506.8h.01M90.1 509.3h.01M88.3 506.5h.01M87.2 510.1h.01M84.6 504.2h.01M86 506.4h.01M79.1 505.5h.01M81.7 508.7h.01M86.2 508.1h.01M86.6 509.3h.01M130.4 473h.01M132.5 475.7h.01M129.1 480.2h.01M129.9 478.9h.01M129.8 482.3h.01M128.5 482.8h.01M131.7 480.6h.01M131.8 485.4h.01M133.8 474.2h.01M135 471.9h.01M129.9 479h.01M128.7 486.6h.01M132 474.9h.01M132.3 473.2h.01M129.4 478.9h.01M128.8 479.9h.01M125 476.8h.01M122.5 478.6h.01M121.1 477.4h.01M121.2 476.4h.01M123.4 476.3h.01M122.5 481h.01M125.5 473.3h.01M125.6 477.1h.01M118.4 475h.01M124.8 477.2h.01M120.4 478.9h.01M121.7 476.5h.01M123 479.9h.01M122.7 474.3h.01M123.8 474.1h.01M124.3 475h.01M122.3 476h.01M125.3 477.7h.01M120.7 475.9h.01M121.3 474.8h.01M99.8 510.4h.01M102.7 505.3h.01M96.6 512.2h.01M97.1 518h.01M97.6 512.6h.01M100 510.1h.01M97.5 511.4h.01M101.5 512.7h.01M98.7 514.9h.01M98.7 510.9h.01M96.6 515.3h.01M96.3 513.7h.01M97.5 513.2h.01M185.1 494h.01M184.5 498.2h.01M178.1 494.9h.01M180.3 495.8h.01M182.3 498.3h.01M179.3 497h.01M180.9 497.2h.01M182.3 496.5h.01M184.1 497.6h.01M132.3 526.7h.01M128.9 525h.01M131.5 528.7h.01M137.5 527.5h.01M128.2 528.3h.01M136.9 529.9h.01M122.4 521.4h.01M124.2 523.4h.01M135.1 531h.01M128.9 524.1h.01M131 524.2h.01M136.6 529h.01M132.5 528.8h.01M132.1 529h.01M128.1 526.2h.01M131.2 524h.01M134 529.5h.01M130.1 525.2h.01M128.5 525h.01M130 526.5h.01M95.4 478.9h.01M96.2 475.2h.01M96.8 477.5h.01M100.7 480.1h.01M100.5 475.5h.01M93 475.1h.01M99.5 481h.01M100.5 479.5h.01M94.6 476.5h.01M97.4 473.8h.01M94.7 474.9h.01M98.4 478h.01M100.1 478.5h.01M96.5 478.4h.01M97.1 478.1h.01M99.4 479.6h.01M101.4 477.3h.01M97.5 476.9h.01M90.5 474.4h.01M98.1 477.2h.01M96.2 478.4h.01M97.7 478.6h.01M139.1 477.6h.01M143.1 478.8h.01M142 482.2h.01M141.3 480.8h.01M140.1 481.2h.01M142.6 479.3h.01M138.2 482h.01M139 477.1h.01M140.9 479.8h.01M138.9 476.5h.01M146.2 478.2h.01M138.3 481.6h.01M139.6 482h.01M142.4 482.6h.01M156.1 485.9h.01M156.9 480.8h.01M153 474.5h.01M156.7 476.7h.01M156.5 481.1h.01M159.7 472.4h.01M159.5 484.8h.01M157.8 481.2h.01M95.7 489.7h.01M96.6 487.8h.01M102 490.1h.01M98.2 488.2h.01M101.2 491.6h.01M92.8 488.7h.01M98.3 489.1h.01M91.9 489.4h.01M97 486.7h.01M96.5 489.8h.01M89.4 486.8h.01M99.1 487.1h.01M102.3 488h.01M95.2 488.5h.01M100.3 488h.01M96.4 489.5h.01M97.7 487.7h.01M95.6 489h.01M95.7 488.1h.01M93.5 488.6h.01M103 489.2h.01M122 481.4h.01M122.9 480.6h.01M123.3 483.3h.01M129.6 480.3h.01M121.3 478.6h.01M124.6 483.7h.01M122.1 480.9h.01M124.8 482.3h.01M121.3 479.3h.01M119.7 481h.01M125.2 480.9h.01M121.5 478.3h.01M124.1 484.8h.01M125.7 483.5h.01M123.2 483.6h.01M121.6 482.1h.01M125.8 481.6h.01M124.2 481.3h.01M131 486h.01M123.7 484.4h.01M129.5 483.6h.01M130.8 480.7h.01M130.8 505h.01M121 509.2h.01M129.4 502.7h.01M122.1 504.8h.01M127.4 505.6h.01M127.5 504h.01M126.7 505h.01M123.6 507.4h.01M124.8 505.5h.01M124.5 504.9h.01M119.8 505.9h.01M125.2 508.9h.01M114.2 478.6h.01M116.5 479.3h.01M116.2 479.9h.01M111.4 481h.01M118.1 474.4h.01M122.5 474.4h.01M118.9 477h.01M113.1 479.7h.01M115.7 477.9h.01M121.2 475.4h.01M118.2 476.9h.01M112.5 484.9h.01M157.9 443.1h.01M162.4 449.1h.01M156.5 442.6h.01M154.9 437.4h.01M158.4 441.4h.01M157.4 444.3h.01M158.3 444.2h.01M159.3 446h.01M160.4 445.9h.01M155.8 438.3h.01M158.3 446.6h.01M158 444.9h.01M160.4 444.7h.01M155.6 439.5h.01M162.4 448.9h.01M159.6 443.2h.01M129.2 475.1h.01M125 472.2h.01M124.9 473.5h.01M124.3 473.7h.01M124.3 472.1h.01M126.2 473.5h.01M124 468.6h.01M127.8 469.4h.01M123.4 471.5h.01M127.4 475.6h.01M129.4 472.9h.01M126.1 473.9h.01M123.9 475.9h.01M126.3 478.5h.01M123.7 479.9h.01M122.8 481.8h.01M124.8 472.7h.01M121 480.7h.01M124.3 482.2h.01M123.1 477.7h.01M123.5 470.9h.01M124 472h.01M124.9 482h.01M126.5 484h.01M126.1 480.6h.01M123.7 483.2h.01M127.4 480.3h.01M123.8 480.9h.01M122.9 479.4h.01M89.1 475.5h.01M89.3 473.9h.01M91 475.1h.01M92.9 473h.01M90.4 473.6h.01M94.6 474.7h.01M90.7 474.8h.01M94.6 472.6h.01M95.1 476.2h.01M104.8 489.9h.01M106.5 492.9h.01M103.4 484.7h.01M107.5 483.9h.01M103.1 486.2h.01M104.9 490.3h.01M105 480.8h.01M102.6 481h.01M100.4 480.6h.01M104.5 482.1h.01M105.8 481.6h.01M102 484.4h.01M103.8 484.8h.01M100 485.6h.01M100.2 484.7h.01M90.3 479.9h.01M93.1 475.8h.01M94.7 481.1h.01M93 475.8h.01M94.7 481h.01M89.6 476.9h.01M94.2 481.2h.01M89.2 478.8h.01M94 476.6h.01M95.9 476.1h.01M96.2 478.1h.01M92.9 482.8h.01M92.3 480h.01M94.9 478.9h.01M95.8 481.2h.01M95.8 476.4h.01M90.8 479.4h.01M94.8 479.5h.01M91.1 474.8h.01M95.1 476.3h.01M107.5 494.7h.01M101.7 492.2h.01M105.2 494.9h.01M108.6 495.3h.01M104.2 494.9h.01M105.4 492.2h.01M99.5 493.5h.01M105.5 492.7h.01M103.4 494.5h.01M102 489.3h.01M100.9 491.3h.01M105.5 494.5h.01M101.5 492.1h.01M143.6 536.1h.01M144.1 533.2h.01M146.1 532.3h.01M137.6 537.8h.01M143.1 531.3h.01M141.3 536h.01M135.9 538.1h.01M141.3 533h.01M142.3 533.4h.01M143.8 536.5h.01M134.3 483.4h.01M132.3 479.3h.01M132.6 485h.01M131 491.8h.01M132.8 486.6h.01M134.8 482h.01M132.2 481.9h.01M137.3 511.8h.01M132.4 509.4h.01M131.6 510h.01M130.3 511.5h.01M129.4 507.5h.01M136.1 510.3h.01M134.3 511h.01M129.4 508.7h.01M129.8 508.7h.01M132.8 511.8h.01M135.5 514.8h.01M128.6 505.6h.01M132.5 509.3h.01M138.3 513.6h.01M137.5 513.5h.01M134.7 510.9h.01M131.6 512.9h.01M138.6 467.4h.01M136.3 465.6h.01M136.8 465.3h.01M132.9 463.8h.01M136.3 464.7h.01M130.8 462.1h.01M136.5 469.9h.01M135.1 461h.01M133.2 463h.01M136 465.5h.01M133.7 461.9h.01M133.5 466.5h.01M135.3 463.3h.01M134.1 467h.01M144.4 487.9h.01M139.1 490.1h.01M141.6 481.3h.01M139.7 484.4h.01M145.9 485.8h.01M144.2 483.7h.01M144.4 489.3h.01M144.1 490.4h.01M139.3 488.1h.01M139.9 485.8h.01M139.8 487.4h.01M140 487.5h.01M138.5 487.4h.01M137.6 483.2h.01M141.7 487.3h.01M144.8 488.4h.01M141.1 484.3h.01M110.1 494.1h.01M110.6 494.4h.01M107.4 495h.01M111.2 496.9h.01M112.8 499h.01M117.6 495.7h.01M113.3 492.8h.01M118.7 492.2h.01M110.7 495.5h.01M109.7 492.7h.01M109.2 493.2h.01M107.7 494.6h.01M115.9 496.5h.01M111.9 496h.01M111.3 493.7h.01M103.4 493.6h.01M108.3 493.3h.01M113.8 497.6h.01M114.5 493.4h.01M109.8 497.6h.01M112.7 494.4h.01M118.9 467.9h.01M120.2 469.4h.01M122.9 474.8h.01M121.4 469.5h.01M127.5 471.5h.01M122.5 477.4h.01M121.4 471.1h.01M120.4 471.6h.01M125.6 476.4h.01M125.4 478.1h.01M121.9 472.1h.01M123.1 474.9h.01M127.6 475.9h.01M124.9 475h.01M128.5 473.4h.01M128.1 475h.01M120 466.8h.01M124.9 479h.01M123 471.7h.01M124.2 472.5h.01M120.7 471.3h.01M127 531.1h.01M124.4 532.8h.01M127.7 537.6h.01M130.4 503.8h.01M134 501.4h.01M128.7 506.2h.01M132.1 503.3h.01M132.8 505.5h.01M127.6 508.1h.01M132 505.3h.01M129.4 507.1h.01M128.9 507.3h.01M129.4 504.6h.01M134.1 498.1h.01M132.4 503.5h.01M129.9 504.5h.01M130 508.9h.01M129.8 504.2h.01M131.9 500.9h.01M133.6 503.8h.01M131.4 506.8h.01M134.5 498.9h.01M134.4 503.3h.01M128.2 506.1h.01M135.4 477.6h.01M136.1 477.9h.01M134.5 476.6h.01M135.6 478.5h.01M134.1 478.6h.01M127.6 473.6h.01M134.7 475.9h.01M132.7 475.4h.01M129.7 477.1h.01M130.5 476.4h.01M134.8 478h.01M135.4 475.2h.01M128.2 527.5h.01M130.3 529.5h.01M126.8 532.5h.01M133.6 527.2h.01M131.6 530.2h.01M130.3 529.4h.01M132.2 526.2h.01M131.8 524.3h.01M131.4 527.8h.01M129.4 529h.01M130.1 532.8h.01M132.3 530.2h.01M132.2 530.6h.01M134.5 529.8h.01M136.2 528.9h.01M130.6 528.9h.01M131.1 528.8h.01M137.6 475.4h.01M140.1 475.1h.01M139.8 477.4h.01M138.1 483h.01M140.6 475.5h.01M108 464.2h.01M110.1 461h.01M110.3 465.1h.01M113.6 459.7h.01M106.2 462.7h.01M108.7 464.5h.01M123 461.6h.01M122 465.2h.01M126.1 456.2h.01M121.8 462.1h.01M125.3 457.4h.01M125.5 457.7h.01M129.8 457.6h.01M127.2 461.2h.01M125.7 461.6h.01M125.2 458.4h.01M125.3 459.3h.01M127.2 457.6h.01M130.6 459.7h.01M129.7 455.3h.01M120.9 463.7h.01M128 459.4h.01M124.1 462.4h.01M126.7 460.3h.01M124.4 458.6h.01M121.4 458.4h.01M124.5 457.8h.01M126.5 461.3h.01M122.8 460.1h.01M121.7 461.2h.01M130.4 455.6h.01M123.8 461.4h.01M141.2 510.4h.01M147.1 509h.01M143.8 515h.01M144 513.7h.01M140.5 513.1h.01M142.2 514.8h.01M141.2 515.3h.01M138.5 514.1h.01M140.4 512.7h.01M144.8 512h.01M143.7 515.2h.01M144 518.1h.01M144.8 514.7h.01M146 515.7h.01M140.5 523h.01M144.8 521.6h.01M143.6 520.9h.01M143.3 520h.01M143.8 525.7h.01M143.5 513.9h.01M145.7 520.3h.01M144.4 518.5h.01M145.4 520.1h.01M144.5 518h.01M145.4 521.4h.01M145.4 519.7h.01M145.3 519.5h.01M144.2 517.1h.01M133.7 494h.01M129.9 495.9h.01M131.8 491.4h.01M134.8 498.2h.01M134.3 497.3h.01M135.5 499.7h.01M136 495.8h.01M131.5 497.1h.01M134.5 494.5h.01M134.8 492.7h.01M131.6 496.6h.01M135.6 499.8h.01M134.2 493.4h.01M135.3 495.8h.01M132.3 492h.01M139.5 494.2h.01M134.3 494.8h.01M135.1 486.6h.01M131.4 490.4h.01M82.7 485.8h.01M77.9 484.5h.01M83.5 487.1h.01M81 488.8h.01M83.3 482.5h.01M79.9 488.9h.01M82.8 486.9h.01M83.7 490.5h.01M78.6 486.5h.01M80.7 489h.01M83.4 487h.01M77.7 486.6h.01M80.5 487.4h.01M81.6 487.6h.01M79.6 485.7h.01M79.7 487.9h.01M80.1 489.5h.01M111.8 507.6h.01M113.1 503.5h.01M108.8 505.4h.01M107.3 503.7h.01M106.7 503.8h.01M106.7 504.3h.01M110.4 504.1h.01M113.2 507.8h.01M144.9 507.2h.01M142 514.2h.01M139.6 512.6h.01M140.1 515.3h.01M141.6 509.9h.01M139.6 514.2h.01M142.9 509.7h.01M140.5 512.1h.01M141.1 514.2h.01M142.8 514h.01M141 514.4h.01M139.4 514.7h.01M141.4 512.7h.01M117.5 504.4h.01M114.5 503.1h.01M115.9 502.2h.01M116.2 504.3h.01M115.3 502.6h.01M119.4 502.2h.01M115.4 504.1h.01M116.6 507h.01M139.6 492.9h.01M137.6 491.5h.01M138.9 488.7h.01M137.9 489.6h.01M140.5 490.5h.01M146 488.7h.01M134.7 485.9h.01M137.9 489.6h.01M140.4 490.7h.01M136.5 491h.01M142.8 491.2h.01M140.4 488h.01M137.9 489.3h.01M133.4 490.4h.01M127.2 498.8h.01M124.5 495.6h.01M124.6 498.6h.01M125.7 497h.01M124.6 497.4h.01M129.1 493.8h.01M124.8 497.1h.01M123.9 497.3h.01M126.2 493.4h.01M129 494.4h.01M130.8 524.7h.01M134.1 519.2h.01M132.9 522.8h.01M131.1 523.9h.01M129.9 526.7h.01M132.1 525h.01M132.8 526.6h.01M127.9 523.6h.01M130 523.5h.01M131.3 527.3h.01M131 524.1h.01M132.5 530.1h.01M131.3 524.8h.01M131.5 531.2h.01M69.6 486.4h.01M70.6 486.2h.01M71.1 489.8h.01M76.4 482.7h.01M71.6 492.7h.01M72.5 487.6h.01M75.5 485.5h.01M74.5 487.6h.01M74.6 488.3h.01M69.5 485.5h.01M69.7 489.7h.01M73.5 484.3h.01M73.2 487.2h.01M101.1 480.1h.01M99.8 478.9h.01M99.8 479.3h.01M99.4 476.9h.01M94.8 479.9h.01M97.9 474.4h.01M97.8 482.9h.01M99.1 481.2h.01M102.2 482.8h.01M98.9 479.4h.01M96.2 480.7h.01M97.9 472.6h.01M97.6 481h.01M90 476.2h.01M94.3 474.5h.01M92.4 475.1h.01M96.2 478.1h.01M93.8 477.1h.01M89.7 475h.01M89.5 477.5h.01M94.8 473.7h.01M90.3 473.7h.01M90.6 476.1h.01M92 477.4h.01M94.8 475.4h.01M127.1 503.5h.01M129.3 504.8h.01M126.3 505.8h.01M130 505.1h.01M127.9 503.5h.01M133.5 505.4h.01M125.4 502.2h.01M130.3 504.1h.01M121.7 501.2h.01M124.5 505h.01M126.9 502.9h.01M116.6 501.8h.01M104.2 471.9h.01M103.9 465.8h.01M105.8 468.8h.01M100.4 490.1h.01M96.5 488h.01M95.8 486.4h.01M96.9 491h.01M97.1 489.6h.01M100.1 488.3h.01M95.9 483.5h.01M99 485.7h.01M100.2 495.5h.01M102.1 488.4h.01M96.6 485h.01M156.8 553.3h.01M155.5 553.3h.01M157.2 553.6h.01M155.6 553.9h.01M158.4 555.9h.01M158.2 555h.01M153.7 554.3h.01M158 554.8h.01M156.9 555.3h.01M157.6 554.4h.01M154.4 554.4h.01M155.7 555.2h.01M157.4 554.3h.01M152.9 551.1h.01M157.1 504.4h.01M158.3 504.7h.01M156.8 506.3h.01M156.1 503.7h.01M158.8 503.9h.01M157.5 507.4h.01M156.6 504.7h.01M158.1 502.8h.01M158.5 507.3h.01M156 505h.01M158.2 503.1h.01M154.3 502.6h.01M159.2 507.5h.01M126.3 535.1h.01M123 530.3h.01M124.3 534.6h.01M124.1 532.1h.01M124.3 531.8h.01M125 533.1h.01M125.7 531.5h.01M127.6 529.2h.01M123.6 536.9h.01M124.4 531.5h.01M122.6 532.7h.01M125.4 530.2h.01M125.4 537.3h.01M108.2 558h.01M107.1 555.4h.01M108.7 557.2h.01M108.3 551.6h.01M106.7 550.4h.01M108.9 555.2h.01M114.2 553.4h.01M118.7 540.9h.01M115.1 542.4h.01M116.4 548.9h.01M116.3 546.8h.01M116.2 545.2h.01M117.9 547.4h.01M115.3 553.6h.01M115.4 547.6h.01M115.2 550.7h.01M117.7 546.3h.01M119 546.9h.01M116.4 543h.01M114.7 543h.01M114.5 552.4h.01M125.8 532.4h.01M128.5 531.7h.01M125.8 532.8h.01M122.7 529.7h.01M145.5 561.9h.01M154.3 561.9h.01M151.5 561.1h.01M139.3 549h.01M138.3 552.8h.01M137.5 546.8h.01M136 546.8h.01M136.6 550.8h.01M137.2 548h.01M143.2 556.1h.01M137.5 548.2h.01M136.9 547.6h.01M138.4 548.7h.01M139 555.9h.01M134.9 549.9h.01M136.7 550.5h.01M139.3 555.5h.01M136 550.5h.01M136.7 550.3h.01M138.5 549.4h.01M138.1 548.5h.01M136.6 549.3h.01M148.4 559.5h.01M147.4 559.5h.01M148.6 563.3h.01M151.6 561.7h.01M147.3 556.9h.01M145.2 561.8h.01M145.8 552.5h.01M145 555.4h.01M146.1 558.7h.01M146.1 557.1h.01M145 557.8h.01M145.7 559.8h.01M144.4 557.8h.01M144.6 561.1h.01M151.5 558h.01M124.4 550h.01M123.7 552.4h.01M123.8 550.5h.01M117.4 550.2h.01M122 551.4h.01M120.2 552.3h.01M123.5 550.1h.01M130.3 555.2h.01M119.8 550h.01M116.8 548.6h.01M118.1 547h.01M121.1 550.1h.01M125.2 551.2h.01M111 561.5h.01M110.1 558.8h.01M108.6 559h.01M109.3 558.9h.01M109.9 558.8h.01M113.3 557.7h.01M108.1 561.7h.01M109.8 560.8h.01M108.6 558.8h.01M109.6 561.9h.01M108.6 560.5h.01M108 559h.01M107.9 564.1h.01M125.2 547.9h.01M120.3 547.7h.01M127.3 545.1h.01M123.5 546.1h.01M126.8 549.8h.01M125.2 547.6h.01M125.3 549h.01M127.5 547.2h.01M126.8 547.3h.01M147.6 534.9h.01M150.9 537.6h.01M148.5 533.7h.01M146.1 528.1h.01M151.2 533.8h.01M144.2 532.5h.01M146.7 531.9h.01M146.1 528.6h.01M154.7 535.2h.01M151.5 535.1h.01M151.5 532.6h.01M148.8 531h.01M144.8 527.4h.01M140.9 555.8h.01M142 552.4h.01M141.8 553.5h.01M149.6 555.5h.01M142.8 554.8h.01M110.6 569.3h.01M112.1 569h.01M107.3 563.7h.01M109 566.8h.01M103 561.1h.01M108.8 567h.01M111.5 569.9h.01M122.2 568.7h.01M130.9 567.2h.01M122.4 571.6h.01M127.1 566.1h.01M125.8 570.8h.01M125.4 570.3h.01M127.7 567h.01M92.3 543.7h.01M93.3 543.5h.01M87.8 546.3h.01M84.4 541.6h.01M90.9 543.3h.01M87.6 545.5h.01M93.8 549.7h.01M112 541.9h.01M112.6 546h.01M110.1 543.7h.01M111.3 543.8h.01M117 544.5h.01M116.6 546h.01M113 542.8h.01M110.8 541.6h.01M110.6 544.1h.01M112.8 542.2h.01M117.8 545.5h.01M108.1 544h.01M117.1 542.7h.01M119.3 543.5h.01M115.5 545.3h.01M164.2 538.5h.01M165.8 538.7h.01M160.9 535.1h.01M166.5 538.6h.01M165.7 536.3h.01M161.7 535h.01M163.7 533.8h.01M162.9 539.4h.01M160.3 538h.01M163.3 535.2h.01M163.4 537.9h.01M167.1 537.4h.01M163.7 537.9h.01M160.8 540.1h.01M122.5 566.3h.01M116.9 566.2h.01M117.7 568.9h.01M117.6 566.2h.01M118.6 568.1h.01M112.9 568.1h.01M117.7 565.1h.01M115.6 566.8h.01M122.4 565h.01M112.4 568.4h.01M120.2 566.9h.01M119.9 565.5h.01M120.8 568.4h.01M115.1 566.7h.01M121.8 566.9h.01M119.2 570.3h.01M118.1 564.5h.01M115.4 566.5h.01M117.9 568.6h.01M123.2 566.4h.01M122.1 568.1h.01M121.3 567.3h.01M135.6 539.7h.01M129.7 538.2h.01M127.4 531.7h.01M127.9 535.7h.01M130 537h.01M128 530.7h.01M125.6 532.2h.01M130 537.9h.01M128.9 533.2h.01M117.2 540.6h.01M116.9 541.6h.01M121.1 549.7h.01M117.5 545.5h.01M122.4 549.9h.01M116.8 544.6h.01M117.5 543.4h.01M120.9 551.7h.01M118.3 546h.01M138.7 536.1h.01M137.9 538h.01M140.6 538.4h.01M133.3 537.5h.01M141.9 537.7h.01M139.1 542.6h.01M135.9 535.5h.01M138.5 538.1h.01M136 535.8h.01M139.3 539.9h.01M141.6 540.9h.01M139.7 544.7h.01M142.9 544h.01M145.4 544.7h.01M145.7 543.7h.01M141.4 546.2h.01M144.2 545.8h.01M146.3 548.1h.01M144.7 547.7h.01M129.3 563h.01M127.9 565h.01M127.2 561.2h.01M129.3 565h.01M133.3 562.4h.01M130.1 559h.01M130.3 559.3h.01M129.7 567.6h.01M126.8 564.2h.01M132.6 559.5h.01M116.4 558.3h.01M116 559.6h.01M114.9 558.9h.01M117.5 558.7h.01M114.4 560.2h.01M112.5 558.3h.01M112.4 528.2h.01M113.8 526.9h.01M110.5 527.2h.01M106.9 529.9h.01M112 529h.01M117.5 525.4h.01M115.2 527.1h.01M110.6 529.6h.01M113.4 529.1h.01M114.7 531.4h.01M112.8 530.3h.01M108.2 532h.01M114.9 530.1h.01M115.4 529h.01M114.7 527.9h.01M110.8 527.2h.01M111.1 520h.01M109.2 522h.01M108.5 522.5h.01M106.3 518.2h.01M108.2 519.5h.01M110.4 522.8h.01M109.8 524.6h.01M110 523.4h.01M109.4 525h.01M110.8 522.3h.01M109.6 521.5h.01M128.7 565.2h.01M128.5 562.4h.01M127.3 564.4h.01M129.7 563.5h.01M128.1 566.2h.01M174.9 546.6h.01M170.6 542.7h.01M172.3 541.1h.01M171.9 544.9h.01M171.3 541.6h.01M177.5 542.8h.01M173.3 544h.01M173.4 544.2h.01M166.8 542.1h.01M168.1 544.9h.01M172.3 544.1h.01M150.3 516.2h.01M151.2 512.5h.01M148.5 511.9h.01M151.3 513.8h.01M151 515.8h.01M149.9 513.4h.01M148 515.3h.01M149.5 517.4h.01M149.1 512.3h.01M149.9 510.4h.01M150.5 511.5h.01M148.1 510.1h.01M150.1 516.3h.01M149.6 516.9h.01M149.5 512h.01M151.4 516.4h.01M149.2 515.2h.01M152.6 513.4h.01M148.7 516.5h.01M150.2 513.4h.01M149.9 511.6h.01M148.7 513.8h.01M148.6 515.9h.01M147.6 494.6h.01M145.4 496.1h.01M150 496.7h.01M146.5 494.4h.01M150 494.7h.01M150.6 494.5h.01M149.2 492.5h.01M147 496.5h.01M149.1 490.7h.01M147.9 492.9h.01M148.2 495.8h.01M148.7 494.5h.01M144.6 496.1h.01M149.1 495.3h.01M146.7 493h.01M151.1 497.3h.01M148.4 495.5h.01M149.3 493.3h.01M150.4 495h.01M148.5 497.1h.01M151.2 493.7h.01M147.5 492.7h.01M152.6 494.8h.01M149.9 495.2h.01M148.5 495.8h.01M147.2 495.7h.01M150.9 493.1h.01M149.6 492.9h.01M147.6 491.5h.01M151.1 495.3h.01M146.9 493.7h.01M148.3 494.1h.01M148.4 491.8h.01M145.1 493.6h.01M151.1 494.1h.01M149.3 494.8h.01M147.8 496.3h.01M144.5 496.6h.01M148.8 493.9h.01M145.2 495h.01M147.8 493h.01M153.3 495.6h.01M148.4 495.2h.01M149.2 494.5h.01M148.3 494.3h.01M152.9 495.5h.01M153.3 492.6h.01M149.2 495.3h.01M152.2 494.8h.01M149.6 496.9h.01M152.8 492h.01M149.5 493.7h.01M153 494h.01M150.4 493.1h.01M153.7 492.5h.01M148 495.4h.01M150.3 495.7h.01M152.3 494.8h.01M154.7 492.6h.01M152.9 493.8h.01M152.3 494.5h.01M152.4 497.2h.01M152.3 494.3h.01M150 496.1h.01M150.8 494.7h.01M153.2 493.3h.01M151 495.6h.01M154.2 492.6h.01M148 496.6h.01M147.9 492.8h.01M151.7 496h.01M148.8 496.6h.01M151.3 493.8h.01M149.2 494.5h.01M148.9 493.5h.01M149.6 497.1h.01M152.2 495.4h.01M147.2 498.3h.01M152.6 494.7h.01M148.2 497.1h.01M152.4 491.8h.01M150.8 494.1h.01M152.1 494.1h.01M151.2 493.2h.01M153.7 493.3h.01M149.9 495.2h.01M149.2 496.8h.01M154.5 496.3h.01M149.4 491h.01M152 494.5h.01M153.8 493.5h.01M147.6 496.8h.01M149.6 491.7h.01M145.4 495.4h.01M155.3 493.2h.01M147.6 497.8h.01M149.2 496.8h.01M149.6 496.8h.01M151.6 495.4h.01M151.4 494.1h.01M151.9 495.6h.01M151.3 496.8h.01M149 495.5h.01M148.8 500.6h.01M147.2 493.6h.01M150 501h.01M149.6 497.5h.01M151.2 497h.01M148.1 500.2h.01M151.4 495.5h.01M151 497.9h.01M147.4 495.7h.01M150.9 496.6h.01M151 495.6h.01M150 496h.01M151.3 493.6h.01M148.5 496.2h.01M148.8 498.1h.01M150 493.8h.01M152 498.5h.01M149 495.2h.01M148.8 497.8h.01M150.5 494.9h.01M150.4 493.9h.01M148.5 493.9h.01M149 498.6h.01M148 497.6h.01M150 494.9h.01M149.5 497.8h.01M148.8 496.5h.01M153.1 499.2h.01M150.4 498.7h.01M151.1 498.2h.01M148.2 498.3h.01M151.1 495h.01M150 495.2h.01M148.4 496.1h.01M149.4 495.4h.01M152.5 498.5h.01M150 497.2h.01M152.1 496.8h.01M149.6 492.1h.01M149.8 492.9h.01M150.1 491.9h.01M150.2 496.3h.01M155 512.8h.01M151.7 516.1h.01M154.9 516.5h.01M155.7 520.1h.01M153.8 516.3h.01M156.7 512.2h.01M154.5 513.4h.01M155.7 514.5h.01M153.1 516.1h.01M155.3 514.8h.01M156.2 516.4h.01M155.6 515.1h.01M154.8 515h.01M156.9 512.9h.01M154.6 517.9h.01M153 516.6h.01M149.9 516.2h.01M156.9 513.5h.01M153.6 517.5h.01M150.6 518.2h.01M153.3 517.2h.01M154.3 515.4h.01M152.1 516.7h.01M153.2 514.7h.01M151.4 514.7h.01M154.9 516.9h.01M154.5 514.5h.01M154.5 515.7h.01M155.2 514.4h.01M158.7 512.3h.01M152.5 516h.01M156.5 513.5h.01M155.1 510.6h.01M156.9 515.6h.01M155.1 514.5h.01M156.1 514.4h.01M153.2 517.8h.01M155 517.2h.01M151 516.4h.01M150.5 517.3h.01M152.5 515.7h.01M150.2 512.4h.01M153.2 513.8h.01M153.8 512.3h.01M155.1 512.7h.01M151.6 512.4h.01M153.6 513.1h.01M153.9 514.1h.01M152.2 515.1h.01M149.8 514.2h.01M152.8 515.2h.01M154.5 513.4h.01M153.3 510.9h.01M152.5 512h.01M152.4 512.6h.01M156.4 510.1h.01M153 513.9h.01M154.2 515.7h.01M151.9 512.9h.01M155 513.2h.01M151.2 513h.01M150.9 512h.01M153.3 511.5h.01M152.7 512.5h.01M152 513h.01M152.7 512.4h.01M154 510.1h.01M152.7 514.9h.01M153.6 510.1h.01M150.4 514.3h.01M152.4 513.2h.01M151 513h.01M153.2 515.7h.01M151.9 512.8h.01M152.3 514.9h.01M152 512.3h.01M153 512.1h.01M153.9 512.5h.01M153.1 508.4h.01M154.8 516h.01M151.5 512.8h.01M152 513.7h.01M150.1 504h.01M144.4 497.7h.01M148.8 502.5h.01M149.5 504h.01M145.2 497.3h.01M147.9 504.8h.01M148.2 504.9h.01M146.2 496.6h.01M145.7 500.9h.01M145.6 497h.01M146.4 502.7h.01M146.9 499.2h.01M149.6 501.2h.01M147.1 499.9h.01M148.9 502.3h.01M148.2 501.3h.01M147.9 497.5h.01M146.7 501.9h.01M149.9 507.3h.01M149.1 502.4h.01M147.2 501.4h.01M146.8 499.2h.01M147.6 500.4h.01M146.3 503.6h.01M146.9 500.7h.01M144.8 500.1h.01M151 503.8h.01M146.7 499.1h.01M146.3 497.8h.01M145.3 498.4h.01M147 502h.01M147.5 502.8h.01M146.8 500.4h.01M147.9 502.6h.01M146.8 501.2h.01M145.8 496.7h.01M143 496.3h.01M149.3 505.7h.01M149.3 500.9h.01M144.7 499.5h.01M150 502.3h.01M147.5 503.2h.01M143.4 500.3h.01M144.9 500.8h.01M144.9 499.5h.01M148.1 500.9h.01M145.4 501h.01M149.9 503.9h.01M143.8 498.9h.01M147.4 500.4h.01M144.7 497.7h.01M147.1 502.1h.01M147.6 500.9h.01M145 497.6h.01M145.7 500.2h.01M148.4 502.7h.01M149.1 503.9h.01M146.2 500.5h.01M145.4 497.9h.01M148.4 502.1h.01M148.2 502.2h.01M148.6 500.3h.01M149.9 503.8h.01M148.7 499.9h.01M148.8 513.6h.01M149.1 515.8h.01M150 510.6h.01M147.7 516h.01M149 513.1h.01M146.5 514.6h.01M146.1 515.7h.01M147.7 512.5h.01M145.9 514.8h.01M148.4 513.9h.01M148 514.6h.01M150.5 514h.01M149.2 515.2h.01M149.6 517.6h.01M150.1 514.2h.01M150.1 513.7h.01M147.3 519h.01M147.4 513.8h.01M149.7 514h.01M147.8 513.1h.01M148.7 509.9h.01M148.2 515.7h.01M146.2 515.7h.01M146.5 511.6h.01M148 510.9h.01M146.1 509.7h.01M150.9 511.9h.01M150.7 512.3h.01M150.3 516.5h.01M150.6 514.4h.01M149 516.6h.01M151.1 516.3h.01M152.9 500.6h.01M149.3 504.9h.01M150.5 503.6h.01M151.3 502.6h.01M148.7 507.6h.01M150.3 502.5h.01M153.7 500.7h.01M149 502h.01M153.4 497.7h.01M151 503h.01M150.5 501.1h.01M150.8 501.4h.01M151.1 500.9h.01M149.7 503.6h.01M152.3 499.5h.01M152.4 502.6h.01M151.3 505.8h.01M147.5 503.4h.01M151.2 501.3h.01M147.5 504.5h.01M149.8 504h.01M148.5 504h.01M149.4 503.7h.01M148.9 504h.01M148.2 503.8h.01M153.2 502.2h.01M149.3 502.9h.01M152.2 500.2h.01M145 506.9h.01M152.8 503.3h.01M151.2 502.7h.01M149.4 506.2h.01M150.5 500.9h.01M153.6 501.2h.01M152 500.5h.01M151.7 505.3h.01M152.8 501.9h.01M147.7 502h.01M150.5 501.1h.01M151.2 498.7h.01M147.9 507.7h.01M151.6 500.6h.01M148.8 505.9h.01M152.6 501h.01M151.4 501.8h.01M150.1 501.8h.01M151.5 501.7h.01M149.3 505.6h.01M150.6 500.2h.01M151.6 502.7h.01M147.4 506.4h.01M150.9 505.3h.01M150.5 501.4h.01M150.4 504.6h.01M152.6 504.4h.01M146.5 492h.01M144.2 493.6h.01M143.9 493.8h.01M145.5 493.8h.01M146.4 492.4h.01M149.9 491.8h.01M145.7 494.1h.01M146.8 492.3h.01M145.5 495.4h.01M145.3 494.2h.01M141 495.1h.01M144.8 494.4h.01M145.4 493.2h.01M139 494.3h.01M149 490.9h.01M143.2 493.8h.01M143.1 493.5h.01M143.6 496.2h.01M140.9 496.2h.01M148.4 491h.01M143.1 491.8h.01M146.4 491.2h.01M146 492.4h.01M142.9 493.5h.01M143.5 494.2h.01M146.2 493.2h.01M142.1 494.3h.01M144.2 493.4h.01M146.6 492.8h.01M144.2 492.7h.01M148.6 492.2h.01M141.7 493.8h.01M141.5 494.8h.01M148.6 480.5h.01M150.5 480.6h.01M150 480.3h.01M145.9 477.8h.01M151.8 483.1h.01M145.7 482.3h.01M148.1 482.2h.01M148.7 482.1h.01M148.2 479.1h.01M148.8 481.1h.01M147.1 481.1h.01M150.7 479h.01M149 481h.01M144.8 479.2h.01M148.7 483.8h.01M145.7 481.4h.01M149.1 480.2h.01M144.9 480.8h.01M151.7 507.9h.01M149.3 514.8h.01M152.4 514.7h.01M150.4 511.3h.01M151.8 514.5h.01M151.7 513.9h.01M150.9 512.7h.01M152 508.8h.01M149.2 514.4h.01M149.7 516.4h.01M153.5 508.1h.01M151.5 514.2h.01M149.8 512.3h.01M150.9 509.8h.01M151.5 507.9h.01M149.9 513.9h.01M149 515.6h.01M151.8 511.1h.01M152.5 512h.01M149.7 517.3h.01M150.7 508.8h.01M154.5 509.2h.01M151.3 510.2h.01M151.7 511.6h.01M154.5 514h.01M156.9 515.3h.01M154.2 511.7h.01M154.7 514.6h.01M156.7 516.5h.01M155.2 513.3h.01M157 515.1h.01M156.3 512.5h.01M154.6 514.2h.01M157 511.4h.01M153.4 511.3h.01M156.9 513.6h.01M153.5 514.1h.01M154.7 511.5h.01M152.7 514.7h.01M154.2 513h.01M155.8 510.7h.01M153.4 512.8h.01M157.5 511.7h.01M152 513h.01M156.7 513.3h.01M158 512.3h.01M154.9 513.5h.01M153.1 511.4h.01M157.2 511.8h.01M157.7 513.9h.01M158.5 512.2h.01M154.2 510.8h.01M155.2 513.1h.01M152.7 514.7h.01M154 512.2h.01M153.7 515.3h.01M155.3 513.6h.01M155.4 514.4h.01M155.5 512.3h.01M154.2 514.9h.01M156.4 511.7h.01M153.1 511.4h.01M159.3 515h.01M155.3 512.6h.01M154.8 514.3h.01M156.8 512h.01M154.5 514h.01M157.1 514.5h.01M151.3 513.5h.01M145 514.5h.01M144.2 514.2h.01M142.6 513.4h.01M144.7 515.6h.01M147 519.1h.01M146.5 516.5h.01M144.4 517h.01M144.9 515.3h.01M145.3 513.1h.01M146 516.4h.01M146.8 519.5h.01M143.1 514h.01M144.2 515.5h.01M146.3 518.1h.01M146.5 521.3h.01M146.3 515.9h.01M146.3 516.1h.01M145.4 513.6h.01M147.7 521.4h.01M145.1 515.6h.01M145.1 515.7h.01M144.3 511.3h.01M146 515h.01M145.8 516h.01M146.3 515.1h.01M146 514.8h.01M147.7 521.4h.01M144.2 513.3h.01M146.4 512.6h.01M146.3 518h.01M143.9 515.2h.01M144.8 513.7h.01M145.4 517.5h.01M144.3 518.6h.01M147.2 519h.01M146.3 518.4h.01M144 519.9h.01M146.2 516.9h.01M144.6 514.8h.01M143.4 512.2h.01M146.4 518.4h.01M148.1 516.8h.01M145.9 514.5h.01M146.2 515.6h.01M145.1 513.9h.01M146.4 517.1h.01M147.9 519.3h.01M146.3 517h.01M145 518.9h.01M143.4 516.5h.01M143.4 517h.01M149.3 517.4h.01M147.2 517.9h.01M146.2 519.6h.01M148.2 516.4h.01M145.5 519.1h.01M149.9 499.2h.01M150.9 500.4h.01M149.5 500.7h.01M152.2 501.4h.01M151.4 502.6h.01M150.5 498.3h.01M148.8 503h.01M152.3 499.4h.01M150.4 502.9h.01M152.7 497.1h.01M150.7 502.8h.01M149.1 502.3h.01M152.1 501.6h.01M150.4 504h.01M151.6 500.2h.01M153.7 497.7h.01M151.2 498.4h.01M153 500.8h.01M152.5 502.7h.01M151.8 500.6h.01M146.9 499.9h.01M149.7 497.5h.01M150.4 503h.01M150.1 500.6h.01M151.6 505.8h.01M149.4 499.9h.01M151 498.5h.01M152.3 499.5h.01M148.9 498.8h.01M151.1 499.9h.01M154.1 501.7h.01M148.8 498.1h.01M150.3 499.9h.01M150.1 504.1h.01M152.9 501.2h.01M151.3 501.8h.01M152 500.4h.01M152.4 502h.01M153 503.5h.01M153 500.2h.01M150.2 501.4h.01M151.2 497.1h.01M151.1 501.1h.01M149 497.9h.01M148.9 498.6h.01M150.6 501.8h.01M152.2 499.5h.01M148.2 501.1h.01M152 497.9h.01M150.9 499.9h.01M152.7 499.4h.01M148.1 498h.01M152.7 498.3h.01M150.1 503.9h.01M152.3 503.7h.01M150.2 503.4h.01M149.8 502.5h.01M150.9 504.6h.01M153.2 500.9h.01M150.9 501.1h.01M149.3 499.4h.01M149.5 498.5h.01M149.5 495.9h.01M146.4 498.2h.01M148.8 496.9h.01M149.4 496.5h.01M150.3 496.9h.01M148.8 494.9h.01M150.4 498h.01M146.8 499.1h.01M144.4 499.3h.01M147 497h.01M147.3 495.1h.01M147.6 496.7h.01M145.3 497.2h.01M145.6 495.9h.01M147.8 497.4h.01M149.8 496h.01M150.9 498.7h.01M148.9 495h.01M148 498.4h.01M150.1 496h.01M150.1 496.3h.01M148.6 500.6h.01M151.9 497.3h.01M152.8 497.9h.01M147.4 495.5h.01M149.4 495.1h.01M148.2 496.4h.01M147.2 500.3h.01M149.6 494.1h.01M150.8 496h.01M145.3 497.6h.01M149.4 494.1h.01M148.1 497.2h.01M150.5 506.1h.01M149.9 506.4h.01M150.8 505.3h.01M146.5 503.3h.01M150.9 504.3h.01M147.6 502.5h.01M148.2 505.4h.01M152 501.7h.01M149.7 504.3h.01M149.2 503h.01M149.6 502.2h.01M148 507.6h.01M152.1 504.5h.01M148.7 501.5h.01M150.6 503.9h.01M150 502.7h.01M153.5 508.4h.01M148.6 504.8h.01M148.6 503h.01M149.7 507h.01M146.9 502.5h.01M148.8 503.7h.01M152 504.7h.01M144.4 502.1h.01M152.6 499h.01M152.2 497.4h.01M155.6 497.3h.01M153 502.6h.01M153.2 500.5h.01M153.4 497.8h.01M156.1 498.7h.01M156 498.1h.01M154.7 498.2h.01M156.2 496.9h.01M153.7 500.1h.01M156.5 498.6h.01M155.6 496.4h.01M153.9 499.6h.01M154.8 499h.01M151.2 500.6h.01M153 499.6h.01M156.1 499.1h.01M155 500.6h.01M154.8 501.8h.01M157.3 503.5h.01M149.3 504.8h.01M153.4 501.6h.01M154.4 500h.01M150.4 504.3h.01M154.4 501.9h.01M156.3 500.9h.01M151.1 503.6h.01M153.2 499.1h.01M153 502.4h.01M150.1 500.5h.01M149.9 502.4h.01M153.4 504.7h.01M152.8 502.5h.01M151.9 502h.01M155.2 498.6h.01M154.7 502.6h.01M149.8 502.4h.01M157.5 500.1h.01M153.9 501.1h.01M154.8 502.2h.01M152.8 501.4h.01M151.8 502.2h.01M150.9 500.9h.01M156.4 500.9h.01M152.5 502.9h.01M153.4 503h.01M152.6 500.4h.01M151.5 502h.01M153.3 501.8h.01M151.2 503.4h.01M151.7 501.4h.01M156.6 500.6h.01M156.3 499.5h.01M155.6 502.3h.01M152.5 485.1h.01M153.4 490.6h.01M151.1 492.5h.01M148.6 496.3h.01M150.2 495.2h.01M153.7 492h.01M150.6 491.9h.01M151.6 493.1h.01M149.7 494.8h.01M152.6 489.8h.01M153.2 489.6h.01M153.8 491.8h.01M151 489.5h.01M149.5 493.6h.01M154.8 486.1h.01M150.3 494h.01M153.9 492.5h.01M152.9 490.9h.01M155.7 490.8h.01M152.3 491.6h.01M150.6 492h.01M150.2 493.3h.01M155.3 486.4h.01M152 492.1h.01M150.7 494.8h.01M153.8 489.4h.01M151.7 492.8h.01M151.3 492.8h.01M150.9 488.3h.01M150.8 504.8h.01M152.1 503.7h.01M154.4 502h.01M155.2 500.3h.01M150.2 503.8h.01M147.7 507.7h.01M149.9 507.6h.01M148.7 504.3h.01M147.7 507.5h.01M150.9 505.7h.01M151.6 505.7h.01M148.2 506.1h.01M151.3 505.8h.01M148.5 507.6h.01M150.7 504.7h.01M151.9 505h.01M153.5 503.4h.01M152.4 506.8h.01M149.8 506.4h.01M149.8 505.4h.01M148.8 505h.01M149.7 509.5h.01M149.9 506.5h.01M149 507.1h.01M151.6 505.5h.01M152.4 505.7h.01M149.8 503.7h.01M151.8 504.2h.01M153 503.1h.01M147.9 506.3h.01M155.7 503.2h.01M152.3 502.4h.01M152.4 506.8h.01M148.9 505.9h.01M150.5 502.9h.01M152 507.6h.01M149.5 507.5h.01M152.2 504.8h.01M150.1 506.3h.01M150.8 505.2h.01M150.1 504.4h.01M151 503.8h.01M147.7 508.3h.01M151.1 506h.01M150.3 506.2h.01M152.2 504.4h.01M147.8 508.2h.01M151.2 503.2h.01M151.4 506.2h.01M154.4 503.5h.01M148.5 504.5h.01M152 503.6h.01M151.3 504.2h.01M149.3 505.4h.01M150.9 485.5h.01M145.8 489.1h.01M149.8 488.4h.01M146.2 489h.01M145.6 487.7h.01M148.7 487.6h.01M150.3 485h.01M148.8 487.1h.01M149.5 484.8h.01M146 487.1h.01M144.7 487.8h.01M149.5 486h.01M148.8 485.5h.01M149.6 487.1h.01M148 485.1h.01M148.7 486.1h.01M149.2 487.4h.01M147.5 485.3h.01M147.5 487.8h.01M146.3 485.9h.01M145.9 487.7h.01M152 484.5h.01M145.8 488h.01M148.6 490.5h.01M146.5 487.9h.01M150.5 487.9h.01M146.2 487.1h.01M148.5 487.1h.01M150.4 484.8h.01M149.3 484.9h.01M146.2 486.6h.01M148 486.9h.01M152.5 485.7h.01M153.7 506.2h.01M154.2 507.7h.01M152.1 505.2h.01M151.3 510.2h.01M153.8 502.9h.01M157.3 502.9h.01M152.5 504.2h.01M153.7 507h.01M151.8 504.2h.01M154.7 504.6h.01M147 508.9h.01M152.1 503.7h.01M154.4 504.8h.01M152.9 506.1h.01M153.1 505.2h.01M153.9 505.4h.01M149.8 507.1h.01M151.3 505.8h.01M153.4 504.2h.01M149.1 511.2h.01M155 500.9h.01M153.2 506h.01M154.1 503.2h.01M151.4 507.5h.01M149.2 506.9h.01M146.6 510.5h.01M148.7 507.7h.01M148.4 509.7h.01M153 503.6h.01M152.6 500.9h.01M152.6 499.6h.01M153.1 501.8h.01M152.1 499.7h.01M153 502.3h.01M153.6 502h.01M152.1 501h.01M151.7 501.9h.01M153.1 503.5h.01M153.3 500.3h.01M156.4 505.6h.01M154.1 503.3h.01M153.7 504.2h.01M153.7 503.7h.01M155.4 502.4h.01M152.7 501h.01M151.9 503.2h.01M153.5 499.7h.01M152 501h.01M153 500.9h.01M153.4 503.7h.01M154.8 502.9h.01M155.2 501.7h.01M152.6 496.3h.01M153.5 499.3h.01M151.9 498.2h.01M149.9 494.9h.01M153 491.6h.01M151.8 497h.01M151.1 497.3h.01M150.5 496.4h.01M150 496.5h.01M151.9 496.1h.01M151.4 495.1h.01M150.7 496.8h.01M152 494.2h.01M151 496.1h.01M153.2 498.1h.01M149.9 498.7h.01M152.2 496.4h.01M147.7 498.2h.01M149.9 496.5h.01M150.3 496.9h.01M151.7 497.7h.01M149.1 499h.01M151.9 497.6h.01M149.8 495.3h.01M150.3 495.7h.01M149.1 496.5h.01M153.6 496h.01M156.6 496.1h.01M152.8 499.5h.01M150.4 496.7h.01M152.9 495.4h.01M154.8 494.9h.01M152.2 495.3h.01M151.7 496.7h.01M153.4 497.6h.01M152.6 496.3h.01M149.9 499.7h.01M143.8 509.6h.01M146.4 506.6h.01M141.4 516.8h.01M143.7 510.5h.01M143.2 508.9h.01M143.7 507.4h.01M144.7 509.1h.01M144.5 509.1h.01M142.9 509.8h.01M144.9 508h.01M145.6 504.6h.01M148.4 505.9h.01M143.7 509.7h.01M146.7 508h.01M144.3 506.3h.01M145.7 505h.01M145.2 508h.01M143.7 508.1h.01M144.7 507.6h.01M145.3 504.1h.01M142.8 513.5h.01M145.1 506.6h.01M143.1 507.3h.01M141.6 509.4h.01M145.9 508.9h.01M146.1 505h.01M143.9 507.8h.01M141.6 508.3h.01M146.2 506.3h.01M145.5 507.4h.01M145 505.2h.01M142.8 509.9h.01M143.9 506.5h.01M145.8 500.7h.01M143.6 512.4h.01M147.6 500.2h.01M151 506.1h.01M152.4 502.9h.01M151.7 503h.01M150.3 501.9h.01M152.8 507.3h.01M149.3 503.3h.01M150.2 501.4h.01M151.1 505.2h.01M149.9 501.9h.01M152.5 502.5h.01M150.4 502.7h.01M153 500.3h.01M153 504.1h.01M152.3 504.8h.01M152.3 506.1h.01M152.2 507.3h.01M149.4 504.1h.01M152.3 504.1h.01M154.9 509.5h.01M150.7 505.1h.01M152.8 503.4h.01M151.4 506.3h.01M147.8 502.2h.01M153.1 504.1h.01M149.6 501.7h.01M151.1 503h.01M151.6 504.1h.01M151.4 503.3h.01M153.6 503.6h.01M150.4 501.5h.01M151.4 513.7h.01M149.5 510.8h.01M147.6 509.9h.01M148.7 513.4h.01M149.9 510.7h.01M150.9 512.1h.01M151.5 514.9h.01M150.4 513.2h.01M151.9 512.7h.01M149.8 514.1h.01M149.1 514.9h.01M152.7 511.2h.01M151.5 514.4h.01M145.9 511.6h.01M149.4 509.1h.01M152.2 516.1h.01M153.2 510h.01M147.7 510.4h.01M149.8 513.1h.01M150.6 513.5h.01M150 514.7h.01M150.5 512.1h.01M149.4 514.8h.01M152.4 513.3h.01M150.1 509.9h.01M149 509.1h.01M151.7 514.6h.01M148.6 508.5h.01M151.6 513.6h.01M151.1 514.3h.01M152.5 510.3h.01M150.8 515.6h.01M148.8 513.1h.01M148.4 513.9h.01M149.1 504.6h.01M151.8 505.4h.01M148.4 505.8h.01M146 503.5h.01M152.4 503.1h.01M153.9 505.4h.01M147.8 503.1h.01M149.2 500.4h.01M153.8 503.8h.01M148.7 518.6h.01M149.2 513.5h.01M148.4 513.3h.01M146.9 521.1h.01M145.9 517.7h.01M147.6 519.3h.01M150.9 518.9h.01M149.8 515.8h.01M147.5 517.8h.01M151.6 517.1h.01M148.1 515.3h.01M148.6 516.6h.01M150.1 515.3h.01M149 521h.01M149.6 517h.01M150.9 516.3h.01M145.6 521h.01M146.5 514.2h.01M146.7 517.7h.01M152.2 517.4h.01M150.2 519h.01M150.4 516h.01M146.3 516.6h.01M148.5 516.1h.01M149 515.3h.01M148.4 513.8h.01M148.9 514.1h.01M148.8 516.6h.01M145.5 520.5h.01M146.3 516.9h.01M150.2 517.8h.01M148 517.5h.01M148.4 517.9h.01M146.7 517h.01M149.4 515.2h.01M147.6 515.4h.01M147.8 511.6h.01M148.5 510.9h.01M141.5 510.6h.01M146.2 511.9h.01M148.6 511.2h.01M147.1 511.8h.01M148.2 510.8h.01M146 512.1h.01M145.1 510.9h.01M146.7 510.6h.01M147.2 511.2h.01M146.7 508.5h.01M145.7 511.7h.01M148.3 511.1h.01M146.8 509.7h.01M150.2 508.9h.01M147 510.3h.01M142.4 512.8h.01M148.7 512.3h.01M143.3 512.4h.01M146 511h.01M149.5 511.6h.01M149.4 509.8h.01M148.4 510.7h.01M150.5 509.6h.01M145.9 512h.01M147.5 510.8h.01M148.6 508.1h.01M145.4 510.4h.01M148.7 511h.01M149.2 510.1h.01M146.8 511.4h.01M145.9 501.6h.01M144.3 502.8h.01M145.4 499.8h.01M146.7 501.3h.01M147 502.6h.01M144.7 499.9h.01M144.5 502.8h.01M148.6 500.4h.01M147.7 499.9h.01M144.5 504.8h.01M148.3 499.7h.01M145 503.2h.01M147.8 502.6h.01M144.6 503.8h.01M146.8 501h.01M147 499.6h.01M150.6 497.8h.01M144.5 499.8h.01M142.9 501.8h.01M144.4 499.5h.01M144.9 503.7h.01M147 502.5h.01M145.7 503.7h.01M148.8 505.8h.01M145.1 501.3h.01M146.9 502.1h.01M145.3 497.9h.01M147.2 500.2h.01M146.8 497.9h.01M144.8 500.3h.01M145.7 499.2h.01M148.2 502.1h.01M148.1 499.9h.01M146.1 500.7h.01M146.5 502.1h.01M145 502.4h.01M144 503.6h.01M147.3 501.7h.01M147.9 496.7h.01M145.9 500.7h.01M142 504.3h.01M147.8 497.2h.01M151.1 496.6h.01M149.2 497.8h.01M154.2 493.7h.01M147.9 499.4h.01M150.8 498.2h.01M152.1 500.2h.01M149.6 497.3h.01M152.6 497.6h.01M153 496.2h.01M150.5 496.2h.01M150.8 496.5h.01M151.1 493.6h.01M153.3 498.8h.01M149.5 499.1h.01M148.5 495.7h.01M150.3 497h.01M150.4 496.1h.01M149.8 497.5h.01M150.5 496.5h.01M155.4 495.2h.01M150.7 499.1h.01M151.1 497.1h.01M148.6 499.3h.01M153.7 502.1h.01M148.3 497.9h.01M152.8 494.8h.01M150.8 497.6h.01M151.6 494.8h.01M150.2 494.5h.01M151 494h.01M148.7 497.5h.01M152.9 496h.01M151 495.4h.01M154.4 495.5h.01M149.9 498.1h.01M150.9 493.7h.01M149.4 495.6h.01M153 496.3h.01M151 496.3h.01M149.7 495.8h.01M151.2 498.1h.01M153.2 498h.01M152.9 495.7h.01M151.7 493.7h.01M148.9 496.7h.01M151.6 497h.01M154.4 496.8h.01M150 497.7h.01M152.1 495.5h.01M151.5 498.7h.01M150.7 499.4h.01M151.5 499.3h.01M150.2 499.9h.01M149.4 498.6h.01M151.3 494.3h.01M148.6 498h.01M151.2 494.9h.01M147.1 498.1h.01M149.1 500.7h.01M149.6 478.6h.01M146.6 480.9h.01M148.1 477.3h.01M146.6 479.5h.01M143.3 478.6h.01M147.5 476.7h.01M146.5 479.5h.01M150.1 478h.01M148.2 480.6h.01M146.4 480.2h.01M147.3 476.2h.01M147.9 481.1h.01M152.6 483.4h.01M147.7 475.7h.01M148.8 478.7h.01M149.5 479h.01M148.3 477.8h.01M145.5 481.7h.01M146.2 481h.01M151.4 476.2h.01M146.2 480.2h.01M147.2 475.6h.01M153.2 479.5h.01M146.8 479.3h.01M151.2 481.3h.01M144.9 480.5h.01M147.3 479.6h.01M148 484.6h.01M147.8 476.7h.01M145.9 479.6h.01M145.5 480.9h.01M150.2 479.1h.01M148.2 481.5h.01M146.4 476.9h.01M150.1 479.3h.01M146.6 481.5h.01M146.6 482.5h.01M149.6 482.2h.01M148.7 482.3h.01M146.5 481.7h.01M145.2 480.4h.01M144 483.6h.01M141.8 482.9h.01M144.4 481.9h.01M143.4 480h.01M144.3 481.4h.01M151.8 480.8h.01M143.3 483.2h.01M142.1 485.8h.01M145.4 478.8h.01M144.1 480.1h.01M149.9 478.6h.01M143.2 483.6h.01M143.7 480.6h.01M145.7 481.8h.01M145.1 484.3h.01M144.1 482.2h.01M142.8 481.7h.01M150.5 478h.01M146.4 480.1h.01M141.4 483h.01M144.8 483.4h.01M143.1 481.9h.01M144.9 482.5h.01M145.7 481.5h.01M148.9 477.9h.01M147.2 480h.01M145.7 480.5h.01M144.8 481.2h.01M148.2 480h.01M148 479.7h.01M146.6 482.6h.01M144.6 478.4h.01M142.8 481.4h.01M143.4 482h.01M142.5 481.4h.01M151.5 477.4h.01M147.6 479.4h.01M143.8 480.5h.01M149.3 480.5h.01M145.7 480.9h.01M139.6 484.2h.01M147.4 481.8h.01M144.3 480.6h.01M140.5 473.5h.01M138.9 472h.01M142.9 472.7h.01M144.2 475.5h.01M143.3 473.7h.01M144.5 475.2h.01M143.1 473.1h.01M138.7 473.9h.01M142.7 474.3h.01M136.7 472h.01M142.7 473.9h.01M150.8 474.2h.01M142.6 471.5h.01M145.6 474.6h.01M143.2 473h.01M144.5 475.1h.01M142.8 474.4h.01M144.6 474.4h.01M142.3 474.6h.01M148.3 473.4h.01M139.6 473.9h.01M146.8 472.2h.01M143.1 473.9h.01M138.5 472.8h.01M143.8 474.5h.01M133.4 480.4h.01M128.6 481.3h.01M130.6 483.3h.01M134.9 482.7h.01M131.6 478h.01M130.7 482.8h.01M133.2 484.2h.01M131.1 480.7h.01M132.1 480.4h.01M130.8 481.5h.01M129 483.4h.01M129.2 480.8h.01M127.4 481.7h.01M131.3 482.3h.01M129.8 479h.01M129.6 479.5h.01M130.5 484.6h.01M133.3 483.3h.01M129.8 483.4h.01M135.7 482h.01M129.4 483.2h.01M128.6 482.5h.01M131.6 479.8h.01M132.1 482.8h.01M136.8 481.2h.01M132.2 478.9h.01M128.3 481.9h.01M129.3 483.9h.01M132.2 483.7h.01M130.9 483.2h.01M129.2 485.1h.01M130.8 482.1h.01M130.9 484.8h.01M130.7 478.8h.01M132.1 480.4h.01M129.2 482.7h.01M127.7 481.4h.01M130.9 479.1h.01M126.9 484.4h.01M130.1 483.2h.01M129.1 481.3h.01M130.4 480.6h.01M133.2 486.2h.01M129.6 482.5h.01M132.3 478.4h.01M129.7 478.4h.01M129.4 482.6h.01M138.9 474.3h.01M138.2 470.8h.01M137.5 474.4h.01M138.8 474.9h.01M142 470.9h.01M140.1 475.2h.01M139.5 472.8h.01M138.5 470.2h.01M139.7 474.4h.01M137.4 474.5h.01M139.9 474.8h.01M139.6 471.5h.01M137.9 471.8h.01M141.2 469.1h.01M137.2 474.7h.01M135.6 475.8h.01M139.8 485.9h.01M138.6 486.9h.01M144.7 482.5h.01M140.9 484.2h.01M137.5 485.6h.01M142.4 482.9h.01M138.1 484.6h.01M140.4 480.2h.01M137.5 486.3h.01M142.3 482.4h.01M141.6 482.5h.01M135.8 486.7h.01M138 486.4h.01M136.6 485.9h.01M139.3 483.6h.01M141.3 483.9h.01M138.1 488.8h.01M141.4 484.8h.01M139 486.5h.01M139.2 483.5h.01M136.6 485.3h.01M135.3 484.1h.01M139.4 485.6h.01M134.3 486.6h.01M140 486.5h.01M138.3 485.5h.01M137.6 485.6h.01M141.8 485.2h.01M137.8 486.1h.01M138 486.4h.01M138.3 484.1h.01M139.2 484.6h.01M138.2 485.5h.01M141.9 481.7h.01M139.9 486.7h.01M137.7 484.9h.01M136.9 483.4h.01M139.3 484.1h.01M138 483.7h.01M138 485.4h.01M144.6 482.4h.01M137.6 487.3h.01M134.2 488.8h.01M142.4 483.6h.01M136.6 485h.01M137.9 485.2h.01M133.7 489h.01M138.4 465.8h.01M133.4 465.9h.01M139.8 467.1h.01M141.7 466.5h.01M139 467.2h.01M140.1 467h.01M138.3 466.4h.01M140 467.3h.01M140.6 467.8h.01M143 467.3h.01M141.4 468.3h.01M140.4 466.5h.01M139.3 465.1h.01M141 469.7h.01M141.8 466.1h.01M139.1 466.8h.01M137.2 466.5h.01M144 466.8h.01M135.2 469.7h.01M140 468.3h.01M141.9 468.4h.01M138.5 465.8h.01M143.8 468.3h.01M139.8 468.1h.01M133.5 496.5h.01M132.6 503.7h.01M133 498.7h.01M132.1 499.1h.01M133.1 498.1h.01M131 497.6h.01M130.5 500.5h.01M131.5 497.9h.01M133.5 501.3h.01M132.1 495.4h.01M131.5 497.4h.01M131.3 498.3h.01M133.3 497.3h.01M133.8 500.4h.01M131.8 497.2h.01M129.1 500.1h.01M127.3 497.3h.01M133.6 497.4h.01M131.2 495.3h.01M132.2 500.8h.01M132.8 498.2h.01M132.4 500.9h.01M129.8 497.9h.01M133.5 496.7h.01M134.6 500.7h.01M132.7 501.7h.01M133.8 498.8h.01M132 494.8h.01M135.2 498.3h.01M134.7 496.8h.01M132.1 498h.01M134.3 499.7h.01M133.7 494.7h.01M134.4 497.1h.01M137.2 483.9h.01M132.2 477.8h.01M137.1 482.1h.01M136.2 479.6h.01M133.4 484.7h.01M131.5 479.1h.01M131.4 479.8h.01M134.2 482.7h.01M131.6 479.3h.01M132 481.2h.01M133.4 478.7h.01M130.6 477.8h.01M134.8 481h.01M134 478h.01M135.2 482.4h.01M132.8 481.3h.01M132.5 483.2h.01M136.5 478.6h.01M135.1 482h.01M130.9 479.3h.01M133.4 485.4h.01M136.1 480.7h.01M133.3 483.2h.01M134.3 480.7h.01M132.9 478.2h.01M133.6 481.8h.01M135 482.6h.01M134.9 480.7h.01M133.7 480.3h.01M133.6 478.3h.01M135 481.3h.01M134.1 482.6h.01M133.9 480.3h.01M131.3 483.6h.01M135.9 482.3h.01M135.3 478.8h.01M145.9 485.8h.01M145 483h.01M146.4 486h.01M144.3 486.6h.01M140.5 488.8h.01M144.2 485.8h.01M148.2 483.4h.01M147 485.1h.01M148.8 485.4h.01M144.9 484.4h.01M145.8 486h.01M150.1 482.7h.01M146.8 486.5h.01M145 484.9h.01M143.1 486.5h.01M145.3 483.7h.01M147.5 482.3h.01M147.9 483.5h.01M144.3 484.1h.01M141.3 480.5h.01M143.4 482h.01M142.7 483.3h.01M143.5 480.6h.01M141.1 484.2h.01M144.3 483.9h.01M145.1 481.2h.01M146.1 485.1h.01M143 483.2h.01M141.9 481h.01M144.1 483.8h.01M144.8 488.9h.01M144.8 482.8h.01M147.9 483h.01M146 483h.01M146.9 482.4h.01M142.8 481.4h.01M141 486.1h.01M135.1 485.6h.01M129 484.8h.01M131.8 485.9h.01M134 486.7h.01M133.4 487.1h.01M134.6 486.8h.01M135.6 486.8h.01M133.6 483.9h.01M134.6 488h.01M136.3 490.1h.01M133.5 486.2h.01M134.4 483.6h.01M133.7 485.1h.01M128.1 480.1h.01M132.1 486.6h.01M133.7 486.7h.01M134.4 485.2h.01M134.4 486h.01M132.2 484h.01M134.5 483.7h.01M133.4 485.1h.01M135.6 488.2h.01M133.6 486.5h.01M133.9 486.1h.01M135.4 486.7h.01M133.5 484.5h.01M133 485.1h.01M133.3 486.4h.01M131.4 484.8h.01M127.9 480.4h.01M136.2 488.9h.01M134.8 485.7h.01M135.4 487.2h.01M132 483.8h.01M137.1 489.2h.01M148.3 485.7h.01M142.9 483.3h.01M141.9 484.7h.01M140.5 485.3h.01M138.3 485.9h.01M143.5 482.8h.01M142.9 484h.01M144.8 485.1h.01M139.5 484h.01M143.2 486.1h.01M141.5 482.8h.01M147.4 484.9h.01M140.9 483.8h.01M139.4 484.7h.01M144.1 485h.01M142.1 482.2h.01M140.7 485.1h.01M145.6 486.5h.01M139 484.6h.01M143.6 484.6h.01M143.8 485.8h.01M143.6 484.8h.01M145 484.4h.01M141.7 485.5h.01M142.7 487h.01M148.4 485.3h.01M141.3 484.7h.01M138.5 484.2h.01M138.6 486h.01M147.5 484.7h.01M142.5 486.3h.01M147.5 484.9h.01M140.8 483.9h.01M143 483.7h.01M143.4 483.6h.01M137.2 483.3h.01M138 482.5h.01M139.3 485.1h.01M139.7 484.2h.01M139.1 482.9h.01M138.9 488.3h.01M141.4 479.8h.01M140.6 483.5h.01M136 484.1h.01M140.6 483.4h.01M141.6 485.9h.01M143 478.2h.01M139.2 480.9h.01M140 483.4h.01M139.4 483.3h.01M137.7 484.3h.01M140.8 483.5h.01M140.4 480.8h.01M138.7 486.8h.01M139.2 482.2h.01M140.3 481.5h.01M138.4 483h.01M139.8 482.7h.01M141.3 482.7h.01M141.2 479.2h.01M143.3 483.1h.01M141.8 483.2h.01M135.1 480h.01M141.5 486.5h.01M142.4 493.9h.01M142.5 493.2h.01M144 493.9h.01M147 490h.01M144.1 489.2h.01M144.4 496.4h.01M140.7 494.5h.01M142 494.8h.01M140.9 494.3h.01M144.2 491.2h.01M141.9 494.2h.01M143.4 492.9h.01M145 493h.01M143.7 492.1h.01M145.3 491.6h.01M147 491.6h.01M143.3 496.1h.01M141.3 494.1h.01M144.6 490.2h.01M147.8 487.3h.01M140.1 491.3h.01M144.9 493.6h.01M141.6 493.2h.01M143 494.1h.01M142.9 494h.01M145.1 491.6h.01M143.6 491.4h.01M145.1 492.6h.01M142.7 497.4h.01M142.4 456.8h.01M143.2 465.9h.01M144.4 458.4h.01M140.3 454.4h.01M142.4 460.1h.01M144.5 463.2h.01M142.6 462.1h.01M140 460.4h.01M144.2 461.9h.01M141.4 459.1h.01M141 460.4h.01M142.7 462.8h.01M142.9 457.6h.01M142.4 463.3h.01M143 462.3h.01M143.2 464.5h.01M142.2 457.8h.01M143.2 461.8h.01M143.2 462.8h.01M142.1 461.5h.01M144.7 461h.01M144 462h.01M150.9 484.3h.01M150.9 489.4h.01M149.2 489.1h.01M150.6 491.5h.01M153.4 484h.01M150 486.7h.01M153.2 484.4h.01M153.5 490.5h.01M148.9 488.8h.01M151.2 487.3h.01M154.4 487h.01M153.7 491.1h.01M155.1 487.4h.01M151.9 489.3h.01M153.4 481h.01M152.1 487.3h.01M155.2 483.1h.01M152.3 486.5h.01M150.3 488.7h.01M149.3 491.5h.01M151.6 488.3h.01M154.1 480.3h.01M151.6 488.8h.01M153.5 489h.01M152.4 489.8h.01M152.9 490.7h.01M152.3 486h.01M148.4 489.6h.01M151.9 489.3h.01M150.8 489.1h.01M152.5 482.5h.01M153 488h.01M152 489.1h.01M152.2 487.6h.01M150.1 486.9h.01M151.7 481.6h.01M151.9 488.6h.01M154.2 485.8h.01M152.6 488.1h.01M149.5 493h.01M152.3 489.6h.01M151.3 485.7h.01M132.4 488.3h.01M134.4 491.5h.01M132 491.2h.01M135.2 492.2h.01M139.9 491.4h.01M138.5 491.6h.01M136.3 492.1h.01M138.1 493.4h.01M140.6 492h.01M136.6 491.8h.01M139.4 491h.01M136.8 491h.01M138.1 488.4h.01M135.4 490.9h.01M134.2 494.5h.01M131.7 494.9h.01M138 491.9h.01M135.3 492.2h.01M135.5 490h.01M135.4 490h.01M133.8 490.7h.01M135.1 492.9h.01M124.7 491h.01M129.3 490h.01M129.8 490.2h.01M127.1 491.1h.01M125.1 491.6h.01M127 488.1h.01M128.3 493.6h.01M127.4 491.3h.01M126 490.9h.01M126.3 491.5h.01M126.8 493.2h.01M126.3 494h.01M129.5 491.7h.01M129.8 489.4h.01M128.5 491.9h.01M129.8 489.9h.01M125.2 493.1h.01M129.1 491.8h.01M124.9 489.5h.01M144.6 489.8h.01M146.2 487.1h.01M145.7 492.8h.01M143.3 488.9h.01M145.4 490.9h.01M143.3 489.8h.01M143.5 487.1h.01M141.2 487.5h.01M144.1 485.1h.01M144.9 493.4h.01M143.1 484.3h.01M145.7 488.5h.01M143.7 487.9h.01M146.6 490.1h.01M144.4 488.7h.01M144.5 485.7h.01M145.7 490.7h.01M146.7 490.7h.01M141.1 485h.01M144.5 489.4h.01M147.4 493.1h.01M145.4 491.1h.01M144.4 490h.01M146.2 493.5h.01M143.5 488.1h.01M146.3 490h.01M144.8 489.2h.01M144.8 490.8h.01M146 486.5h.01M146.5 493.4h.01M143.8 487.2h.01M147.6 472.6h.01M145.1 470.7h.01M146.6 468.9h.01M145.5 471.5h.01M143.7 470.7h.01M147.3 472.3h.01M146.6 474.5h.01M141.9 469.5h.01M144.6 469.9h.01M145.6 471h.01M145.3 468.8h.01M142.3 467.5h.01M144.3 468.3h.01M142.6 472.1h.01M143.5 470.6h.01M145.2 469.1h.01M145.8 469.3h.01M142 468.1h.01M147.6 472.1h.01M146 469.8h.01M144.8 472.3h.01M147.5 471h.01M142.1 471.1h.01M146.2 471.1h.01M146.5 474.4h.01M145.9 471.3h.01M144.7 468.3h.01M146.8 470.7h.01M144 471.1h.01M145.2 473h.01M144.1 470.2h.01M146.7 470.1h.01M144.6 470.8h.01M143.9 470.7h.01M147.1 476.2h.01M147.2 468.3h.01M144.7 468.2h.01M146.2 469.5h.01M146.3 471.2h.01M145.1 471.9h.01M144 472.9h.01M146.3 471.4h.01M145.2 472.4h.01M131.8 479.8h.01M135.6 480.3h.01M133.6 479.7h.01M131.7 477.7h.01M132.4 481.8h.01M130.5 480.2h.01M131 477.4h.01M132.5 480.7h.01M131 481.7h.01M135.4 484.3h.01M131.6 482.1h.01M133.4 482.5h.01M132.5 482.4h.01M131.6 478.8h.01M134.7 483.6h.01M134.2 476.8h.01M133.1 478.6h.01M133.5 482.9h.01M132.6 476.5h.01M134 477.3h.01M130.4 481h.01M132.6 479.6h.01M133.1 479.7h.01M133.1 482.7h.01M133.1 479h.01M134 481.1h.01M134.8 480.4h.01M134.4 483.2h.01M130.2 481.3h.01M130.9 481.5h.01M131.7 477.7h.01M133.4 480.3h.01M131.6 479.2h.01M128.7 480.2h.01M129.7 480.3h.01M132.1 478h.01M133.9 481.1h.01M145.9 476.7h.01M147.8 481.6h.01M147.2 483h.01M146.5 480.2h.01M149.8 480h.01M151.6 484h.01M151.1 484h.01M148.3 483.2h.01M146.9 477.4h.01M148.7 480.3h.01M150.1 481.8h.01M147.9 480.2h.01M149.5 481.3h.01M145.7 478.7h.01M148 481.9h.01M147 480.3h.01M149.6 480.6h.01M148.9 483.4h.01M146.7 478.9h.01M149.9 479.8h.01M146.5 478.9h.01M149 481.4h.01M151.3 480.4h.01M148.6 478.4h.01M147.9 480.8h.01M146.1 479h.01M149.6 484.4h.01M147.9 476.5h.01M149.5 484.7h.01M149.4 480.4h.01M149.3 480.8h.01M149.2 484h.01M150.3 483.4h.01M143.6 477.4h.01M148.5 483.2h.01M146.4 476.2h.01M151.4 476.9h.01M150.2 476.3h.01M144.3 475.6h.01M144.7 474.5h.01M142 473.9h.01M145.7 476.3h.01M142 476.7h.01M148.5 475.6h.01M148 475.3h.01M150.1 476.7h.01M147 477h.01M148.6 477.8h.01M148.8 472.7h.01M148 474.8h.01M148.5 476.8h.01M146.3 473.4h.01M152.7 475.1h.01M142 477.1h.01M145 478.1h.01M144.4 475.4h.01M148.7 475.8h.01M148.8 477.1h.01M144.1 474.1h.01M150.3 475.9h.01M141.7 475.9h.01M144.9 475h.01M143.5 475.6h.01M140.8 476.7h.01M140.8 486.5h.01M144.9 488.2h.01M141.2 487.3h.01M137.1 489.5h.01M142.8 486.4h.01M137.8 487.2h.01M140.6 485.3h.01M138.7 485.7h.01M136.5 486.8h.01M142.7 486.2h.01M140.9 485.4h.01M140 487h.01M139.3 489.3h.01M140.8 488h.01M137.5 487.9h.01M140.4 489.7h.01M139.9 484.5h.01M140.4 487.8h.01M143.6 488.8h.01M140.4 485.8h.01M142.2 487.7h.01M141.5 487.6h.01M140.7 487.2h.01M144.9 496.9h.01M142.4 495.2h.01M142.2 494.8h.01M151.9 499.4h.01M147.7 497.4h.01M149.8 495.9h.01M147.1 496.4h.01M148.9 498.8h.01M148.1 496.6h.01M145.5 496.8h.01M141.7 495.7h.01M145.5 496.4h.01M144.9 495.1h.01M143.8 499.2h.01M146.7 497.1h.01M143.1 497.6h.01M146.7 495.8h.01M148.3 495.9h.01M144.8 495h.01M149.1 497.2h.01M143.3 496.7h.01M142.4 496.6h.01M145.2 498.8h.01M143.6 496.7h.01M146.2 499.8h.01M139.4 497.2h.01M151.3 479.1h.01M147.1 480.7h.01M149.2 477.1h.01M147.6 481.2h.01M148.8 478.5h.01M146.6 480.3h.01M151.9 473.3h.01M148.1 479.6h.01M148.1 478.5h.01M152.6 476.4h.01M148.7 477.2h.01M148.6 477.3h.01M151.1 474.1h.01M152.2 474.5h.01M152.3 475h.01M151.8 475.3h.01M150.6 475.8h.01M148 479.1h.01M148.7 479h.01M129.8 493.7h.01M122.2 489.4h.01M129.6 488.5h.01M125.5 489.9h.01M126.5 490.5h.01M125.4 489.3h.01M123.4 490.8h.01M129.2 491.9h.01M123.6 491.7h.01M128.4 489h.01M123.4 492.1h.01M127.7 490.9h.01M128.1 486.7h.01M127.4 493.7h.01M128.6 489.8h.01M125.1 489.2h.01M125.9 490.3h.01M126.1 489.2h.01M127.1 490.8h.01M127.8 490.3h.01M127.2 490.3h.01M127.4 491.4h.01M126 491.1h.01M141.7 489.2h.01M141.7 488.8h.01M143.8 491h.01M142 489.8h.01M135.3 489.6h.01M142.2 489h.01M141.7 489.5h.01M140.1 488.4h.01M139.6 489.6h.01M143.2 486.6h.01M143.8 487.6h.01M139.7 488.4h.01M143 489.4h.01M141.5 488.6h.01M144.2 487h.01M142.1 487.9h.01M143.5 488h.01M139.2 489.6h.01M140 489.6h.01M144 488.6h.01M141.5 486.7h.01M141.2 487.7h.01M138 489.5h.01M137 490.2h.01M137 487.6h.01M140.2 489.4h.01M142 488.3h.01M138.7 489.9h.01M139.6 485.9h.01M141.8 487.7h.01M145.9 489.4h.01M137.4 477.3h.01M136.3 483.4h.01M135.9 478.6h.01M136.9 478.3h.01M133.9 482.5h.01M136.9 481h.01M138.1 478.9h.01M135.9 480.4h.01M134.6 481.6h.01M135.6 482h.01M135.9 481h.01M138 481.3h.01M137.5 478.6h.01M134.3 483.2h.01M137.6 484.6h.01M138.1 479.4h.01M139.7 475.6h.01M133.9 483.3h.01M136.1 480.1h.01M135.5 481.3h.01M132.6 481.8h.01M133.7 484.7h.01M137.1 480.3h.01M138.5 478.9h.01M138 479.9h.01M136.8 482.2h.01M140.6 479.4h.01M137.4 480.4h.01M141.1 486.2h.01M142.6 490h.01M143.8 487.6h.01M139.4 489.8h.01M141.3 490.3h.01M139.8 485.5h.01M140.4 485.8h.01M139.8 487.9h.01M142.9 489.4h.01M141.4 487.4h.01M140 487.7h.01M142.2 484.1h.01M143.9 486h.01M143 486.5h.01M139.7 487.3h.01M142 486.2h.01M144.9 489.9h.01M141.2 487.9h.01M142.3 486.8h.01M142.8 493.5h.01M142.4 487.3h.01M138.6 485.1h.01M139.5 486.8h.01M142.9 490.2h.01M140.2 489.1h.01M138 484h.01M139.8 484.6h.01M141.6 486.6h.01M143.2 490.4h.01M140.5 485.1h.01M141.7 489h.01M141.4 486.5h.01M144.4 491.6h.01M142.8 489.9h.01M141.9 487.5h.01M140.2 489.2h.01M140.9 487.6h.01M139.3 483.3h.01M137.8 485.2h.01M143.3 488.5h.01M141.5 486.1h.01M141.2 486h.01M141.1 489.3h.01M139.6 485.7h.01M141.8 487.3h.01M143.6 488.4h.01M143.9 489.8h.01M141.7 490.1h.01M145.8 489h.01M142.2 487.3h.01M143.7 489.1h.01M147.1 494.3h.01M144.3 487.5h.01M142.6 491.7h.01M139.7 485.2h.01M138.8 482h.01M135.4 481.7h.01M134.2 480.4h.01M137.5 481.1h.01M137.2 484h.01M140.8 484.7h.01M144.8 485.5h.01M138.2 483.3h.01M137.2 482.4h.01M135.5 483.7h.01M135.2 485.1h.01M138 487.8h.01M140.4 482.6h.01M141.1 485.7h.01M139.6 482.2h.01M135.1 481.7h.01M133.9 481.8h.01M142.2 483.4h.01M138.9 481.5h.01M135.2 482.5h.01M138.4 481.1h.01M134.9 488.3h.01M134.7 485.6h.01M136.2 481.7h.01M134 483.9h.01M135.6 484.7h.01M135.2 484.8h.01M131.8 488.7h.01M133.2 484.7h.01M135.1 486.9h.01M136.3 487.3h.01M135 485.3h.01M132.4 488.4h.01M133.9 488.6h.01M133.1 486.1h.01M135 488.9h.01M134.1 486.6h.01M134.9 488.1h.01M134.7 484h.01M134.9 483.1h.01M132.6 489.3h.01M137.1 486h.01M135.5 483.2h.01M134.7 487.1h.01M136.3 486.8h.01M135.2 483.7h.01M135.1 488.1h.01M136.3 485.5h.01M133.4 489.2h.01M135.7 486h.01M141 482.6h.01M138.7 482.9h.01M139.5 481.1h.01M145.1 483.2h.01M141.3 483.8h.01M140.5 485.8h.01M139.9 481.5h.01M137.3 480.7h.01M142.6 484.1h.01M141.1 485.3h.01M140.8 483.4h.01M140.4 485h.01M140 483h.01M141.9 484.9h.01M138.3 485.5h.01M139.7 482.4h.01M138.7 485.3h.01M142.2 483h.01M142.6 485.8h.01M140 484.2h.01M142 482.5h.01M144.4 484.9h.01M140.4 486.2h.01M141.9 484.9h.01M138.7 481.9h.01M141.9 486h.01M141.9 481h.01M142.2 486.7h.01M139.7 485.4h.01M142.5 481.3h.01M140.5 483.3h.01M143.2 481.5h.01M140.4 481.6h.01M138 485.3h.01M140.2 484.1h.01M139.1 484.2h.01M139.4 485.7h.01M140 483.1h.01M138.5 484.3h.01M139.9 484.3h.01M141.2 483.2h.01M141.2 482.2h.01M140.3 481.2h.01M142.1 485.1h.01M138.5 482.7h.01M139.6 481h.01M141.5 484.2h.01M136.6 482.9h.01M135.4 485.8h.01M142 486.3h.01M139.3 483.9h.01M139.3 484.7h.01M137.7 483.5h.01M137.5 481.5h.01M139.7 482.8h.01M141 487h.01M146.5 485.5h.01M141.5 482.4h.01M142.3 484.4h.01M142 492.2h.01M140.3 491.2h.01M140.1 492.3h.01M143.8 491.1h.01M140.1 489.8h.01M143.6 490.2h.01M147.1 488.3h.01M145.2 489.8h.01M139.7 495.4h.01M144.4 489h.01M140.8 491.3h.01M145.1 490.5h.01M140.6 492.6h.01M141.8 492.2h.01M142.3 488.3h.01M144.4 490.4h.01M142.1 490.3h.01M140.6 494.2h.01M142.4 488.1h.01M143.1 494.5h.01M141.5 491.4h.01M139.5 491.3h.01M142.2 494.1h.01M141.1 491.3h.01M136.1 496.2h.01M140.8 495.3h.01M137.8 491.5h.01M137.7 492.7h.01M139.4 491.6h.01M138.5 494.6h.01M138.4 490.8h.01M138.8 495.5h.01M140 492.5h.01M141.8 494.8h.01M135.6 494.5h.01M139.1 491.3h.01M136 490.4h.01M138.9 491.2h.01M137.9 491.5h.01M143.1 498.8h.01M140.4 492.8h.01M139.7 493.7h.01M139.6 491.8h.01M138.1 491.9h.01M140.6 492.5h.01M136.9 490.1h.01M137.4 492.4h.01M140.5 491.4h.01M142.2 494.8h.01M140.3 491.5h.01M144.5 474.7h.01M145.9 477h.01M142.8 474.7h.01M145.3 476.2h.01M145.6 477.6h.01M147 474h.01M145.2 475.2h.01M147.3 477.3h.01M145.7 475.7h.01M143.5 477.2h.01M145 476.3h.01M149.2 479.6h.01M145.7 475.9h.01M145.6 478.9h.01M143.9 476.2h.01M145.5 475.2h.01M144 476.6h.01M143.4 475.2h.01M146.8 476.1h.01M147.4 474.7h.01M147.4 476.3h.01M147.4 474.1h.01M144.4 475.4h.01M143.2 485.2h.01M143.8 485h.01M144.5 487.7h.01M142.6 488.1h.01M143.1 484.6h.01M145 491.2h.01M143.7 480.2h.01M144.2 483.3h.01M143 484.3h.01M143.4 488.5h.01M142.9 488.8h.01M142.1 482.3h.01M141.2 486.5h.01M143.8 488.4h.01M144.7 488.2h.01M144.1 490.1h.01M143.6 485.4h.01M145.9 487.7h.01M141.1 485.3h.01M142.3 485.4h.01M142.6 483.7h.01M143.1 485.2h.01M145.2 490.9h.01M142.2 486h.01M143.9 486.1h.01M144.7 486h.01M143.9 486.5h.01M145.5 490.7h.01M143.5 490.9h.01M144.3 483h.01M143.5 487.7h.01M145.1 488.8h.01M144.9 482.6h.01M142.7 488.9h.01M149.6 489.1h.01M144.4 487.7h.01M137.2 486.3h.01M143.5 489.4h.01M143 489.9h.01M144.2 490.5h.01M146.9 488.8h.01M139.4 487.8h.01M140.5 488.6h.01M141.6 489h.01M144.8 489.1h.01M144.1 492.2h.01M141.2 490.6h.01M141.6 487.5h.01M141.2 488.7h.01M142.6 489.5h.01M141.3 488.7h.01M141.2 488.8h.01M143.4 488.3h.01M143.6 487.8h.01M142.7 490.7h.01M139.4 487.9h.01M142.3 489.2h.01M141.9 491.1h.01M147.7 490h.01M143.1 488.1h.01M141.6 488.9h.01M145.4 486.5h.01M144.1 491.9h.01M142.7 489.6h.01M143.8 489.7h.01M140.8 489.8h.01M141.5 491h.01M143.5 487.7h.01M144.2 489.1h.01M145.7 490.7h.01M136 479h.01M139.7 477.2h.01M134.2 478.2h.01M132.9 476.1h.01M136.9 476.6h.01M138.8 478.4h.01M132.6 475.8h.01M133.7 477.2h.01M134.2 477.9h.01M134.7 479.1h.01M136.8 478.2h.01M132.6 475.7h.01M141.5 482.8h.01M136.3 484h.01M142.2 480.2h.01M137.4 482.7h.01M138.7 486.6h.01M137.2 485.1h.01M142.9 481.3h.01M136.8 484h.01M137.4 482.9h.01M141.5 482.7h.01M144.1 482.4h.01M141.9 483h.01M141 483.2h.01M138 483.4h.01M141.5 482.9h.01M136 482h.01M138.6 483h.01M140.5 480.9h.01M142.3 483h.01M138.8 482.1h.01M140.6 481.8h.01M138.1 482.5h.01M139.6 481.1h.01M142.5 479.5h.01M141 481.8h.01M137.2 491.7h.01M136.9 492h.01M135.4 491.8h.01M138.7 493.7h.01M138.5 490.8h.01M140.2 494.1h.01M143 491.2h.01M137.3 487.3h.01M134.2 489.5h.01M140.2 491.1h.01M139.3 493h.01M139.8 492.5h.01M137.7 491h.01M139.4 491.7h.01M140.4 492.2h.01M140 491.3h.01M136.8 489.8h.01M137.8 488.2h.01M137.3 487.6h.01M139.6 491h.01M136 488.6h.01M140.3 491.5h.01M137.8 493.6h.01M139.9 490.7h.01M139.9 491.4h.01M138.4 491.3h.01M133.9 490.4h.01M136.6 490.6h.01M136.4 474.4h.01M136.6 472.4h.01M133.8 472.9h.01M136 473.8h.01M140.2 476.1h.01M135.2 477.1h.01M132.9 471.7h.01M135.6 473.2h.01M137.3 472h.01M136.9 476.4h.01M137.8 478.1h.01M137.8 473.1h.01M135 471.2h.01M135.1 476.4h.01M137.4 476.1h.01M138.6 473h.01M138.3 475.3h.01M136.8 471.1h.01M138.4 471h.01M136.2 474.6h.01M137.3 474.1h.01M136.1 473.7h.01M136.4 472.3h.01M133.7 475.2h.01M135.5 477.2h.01M138.5 474h.01M135 473.5h.01M139 474.3h.01M136.3 472.8h.01M135.2 476.3h.01M136.3 471h.01M144.8 489.8h.01M145 484.3h.01M147.2 486.2h.01M143.1 487.8h.01M144.7 483.9h.01M143.1 488.7h.01M146.2 486.1h.01M144.3 489.5h.01M146 483.2h.01M143.2 488.2h.01M148 487.5h.01M140.4 489.4h.01M144.8 489.1h.01M143.2 490.1h.01M144.8 488.9h.01M145.4 488h.01M145.4 482.2h.01M144.2 486h.01M142.7 487.8h.01M141.3 486.7h.01M144 488.5h.01M143.6 488.6h.01M144.7 486.1h.01M144.9 487.4h.01M144.1 483.5h.01M145.9 488.5h.01M146.4 488.1h.01M143.7 486.3h.01M148.2 485.2h.01M143.4 484h.01M145.1 487.7h.01M145 485.8h.01M145.9 486.3h.01M137.4 465.8h.01M134.5 470.4h.01M134.2 472.7h.01M135.7 470.7h.01M135 471.5h.01M135.4 474.9h.01M135.7 470.6h.01M137.2 469.3h.01M134.1 471.2h.01M135.5 471.6h.01M134.5 473.7h.01M136.6 470.1h.01M136.4 471.8h.01M136 471.3h.01M138 470.1h.01M135.2 468.7h.01M134.5 468.8h.01M134 473.2h.01M134.6 469.3h.01M138.2 468.6h.01M134.8 472.4h.01M137.4 473.6h.01M135.5 473.5h.01M135 473.3h.01M136.9 477.4h.01M135.9 472.7h.01M136.2 468.8h.01M135.8 471.4h.01M136.2 468.2h.01M131.6 470.9h.01M137.8 473.3h.01M137.8 501h.01M136.3 501.8h.01M136.2 501h.01M141.6 500.7h.01M130.9 504.3h.01M138.5 500.8h.01M136.6 501.8h.01M138.8 500.3h.01M135 502.9h.01M136.7 499.6h.01M138.1 500.2h.01M136.8 501h.01M142.5 500.2h.01M130.6 504.2h.01M131.9 501.9h.01M138.5 500.8h.01M139.2 499.4h.01M139 498.3h.01M142 499h.01M135.6 500.1h.01M134.4 501h.01M137.6 500.6h.01M135.7 503.5h.01M136.6 500h.01M134.9 501.2h.01M144.8 498.1h.01M134.3 501.2h.01M139.7 500.9h.01M134.3 499.9h.01M138 502.4h.01M137.8 500.6h.01M135.5 502.1h.01M135.2 501.7h.01M137.7 501.1h.01M140.5 499.5h.01M138.5 501.1h.01M134.5 501.7h.01M133.4 500.7h.01M137.3 500.7h.01M140.7 500.9h.01M138.8 499.1h.01M139.3 500.2h.01M134.8 500h.01M139.1 498.9h.01M137.8 501.2h.01M134.6 500.2h.01M144.7 492.4h.01M141.3 491.9h.01M143.9 492h.01M145.2 494.1h.01M143.4 491.1h.01M141.9 492h.01M142.3 492.2h.01M145 492.2h.01M139.8 492.6h.01M141 490.6h.01M141.4 491.4h.01M140.6 494.5h.01M145.1 492.5h.01M141.8 494.3h.01M140.1 493.4h.01M138.7 488.5h.01M139.9 490.4h.01M143.4 492.9h.01M140.4 492.9h.01M143.1 491.2h.01M143.7 492.8h.01M137.5 490.7h.01M145.6 494.6h.01M141.3 492.7h.01M140.9 493.9h.01M141.8 488.4h.01M138.8 494.9h.01M141.7 492.2h.01M142.7 490.6h.01M145.5 491.1h.01M139.2 492.6h.01M141.4 491.1h.01M141.9 488.7h.01M141.9 493.9h.01M131.8 498.1h.01M130.3 496.6h.01M129.1 495.5h.01M125.8 497.5h.01M130.9 498.6h.01M129.8 498.9h.01M129.8 497.8h.01M132.5 495.6h.01M129.1 496.8h.01M127.8 498.9h.01M127.1 499.1h.01M129.7 497.7h.01M131.3 500.7h.01M126.7 498.4h.01M128.8 499.2h.01M129.5 499.6h.01M134.9 496.3h.01M133 497.9h.01M127.6 498.3h.01M130.9 495.3h.01M127.8 498.4h.01M131.3 499.9h.01M133 497.6h.01M124.5 498.6h.01M130.8 496.8h.01M131.3 497.1h.01M131.3 498.3h.01M129.8 498.3h.01M132.8 496.1h.01M128.8 500.2h.01M132.2 498.1h.01M124.5 499h.01M136.2 498.3h.01M131.9 494.1h.01M130.2 500.7h.01M125.8 500.2h.01M128.2 496.9h.01M132.3 498.8h.01M144.2 497.9h.01M143.3 497.1h.01M141.8 499.3h.01M139.5 500.5h.01M142.5 498.7h.01M141.7 499.5h.01M140.1 499.9h.01M141.5 501.9h.01M140.6 502.2h.01M138.7 505.8h.01M140.5 501.1h.01M144.3 493.8h.01M142.3 497.3h.01M143.3 493.6h.01M140.2 497.9h.01M138.7 505.3h.01M141 499h.01M137.6 501.9h.01M140.2 500.6h.01M143 499.8h.01M141.6 499.9h.01M143 496h.01M141.5 494.9h.01M142 500.8h.01M142.6 497.7h.01M136.2 513.7h.01M134.1 515.1h.01M135 515.2h.01M132 514.1h.01M137.1 513h.01M134 515.2h.01M132.6 514.4h.01M135.9 513.4h.01M136.8 516.1h.01M138.2 513.2h.01M133.4 515.2h.01M135.4 513.6h.01M135 514.3h.01M130.2 516.7h.01M132.1 513.5h.01M138.4 515.1h.01M136 514.3h.01M135.5 516.1h.01M136.5 516h.01M133.5 513.4h.01M132.7 514.2h.01M136.8 514.7h.01M135.9 514.4h.01M137.3 512.9h.01M135.5 515.1h.01M134.4 513h.01M137 515.7h.01M145.7 502.5h.01M148.7 504.1h.01M146.9 500h.01M145.7 497.1h.01M144.4 498.5h.01M146.4 504.8h.01M147.2 500.7h.01M147.5 503.3h.01M148.1 504.6h.01M143.6 498.9h.01M146.6 502.6h.01M145.4 504.1h.01M148.8 506.1h.01M146.2 496.9h.01M146.2 505.8h.01M143.3 485.5h.01M143.5 484.5h.01M141.9 484.9h.01M141 486.4h.01M134.4 492.8h.01M143.4 483.2h.01M141.6 483h.01M143.3 486.5h.01M136.4 490.7h.01M139.2 488.4h.01M142.8 488.5h.01M141.6 487.1h.01M139.7 487.9h.01M141.1 487.3h.01M141.6 485.4h.01M139.8 486.5h.01M140.8 486.4h.01M141 486.6h.01M142.4 487.4h.01M140 487h.01M142.9 485.4h.01M140.4 486.4h.01M141.8 487.8h.01M135.8 491.1h.01M144.6 484h.01M135.9 490h.01M141.7 486.2h.01M139.2 491h.01M140.8 497.2h.01M135.8 501.2h.01M135.2 495.6h.01M135.4 497.9h.01M134.8 497.2h.01M134.5 498.5h.01M137.7 499.5h.01M137 497.8h.01M135.1 500.2h.01M133.5 497.9h.01M136.5 499.4h.01M136.5 498.2h.01M136.6 500.5h.01M134.2 497.3h.01M135.6 498.2h.01M134.5 495.9h.01M138.5 499.2h.01M137.1 499.2h.01M131.5 498h.01M133.3 498.7h.01M132.6 502.1h.01M133.9 501h.01M129.8 500h.01M131.4 499h.01M129.9 498.7h.01M133.5 500.2h.01M129.1 501.6h.01M133.9 499.6h.01M129 504.8h.01M131.1 500.6h.01M133 503.5h.01M129.3 501.2h.01M131.6 502.5h.01M134.6 500.3h.01M134.4 500.2h.01M134.2 501.8h.01M132 502.5h.01M134.4 502.3h.01M133.8 501.7h.01M135.2 503.1h.01M133.6 502.4h.01M135.9 501.3h.01M135.2 501.5h.01M134.7 505h.01M134.9 499.2h.01M136.5 502.5h.01M135.2 501.2h.01M137 501.5h.01M135.5 502h.01M131.4 499.2h.01M135.7 503h.01M135.3 503.6h.01M136.6 503.6h.01M134.4 500h.01M142.3 486.9h.01M139.7 487.3h.01M141.2 488.8h.01M141.5 493.7h.01M139.3 488.5h.01M141.3 490.9h.01M140.1 485.7h.01M139.6 488.7h.01M140.4 485.5h.01M137.7 486.5h.01M140.1 486.5h.01M142.3 492.6h.01M140.1 489.9h.01M140.2 492.8h.01M138.8 486.2h.01M137.7 484.2h.01M140.6 488.9h.01M140.9 488h.01M141.2 491.1h.01M142.3 490.7h.01M142.5 492.8h.01M142.2 489.2h.01M140.1 489h.01M139.4 487h.01M142 484.7h.01M140.3 492.6h.01M141.1 491.5h.01M138.7 489.6h.01M141.9 492h.01M132.2 480.1h.01M128.4 482h.01M133.3 481.4h.01M130.3 484.8h.01M129.1 485.1h.01M134.3 483.1h.01M134.2 482.4h.01M135 480.5h.01M129.9 482h.01M133.7 480.7h.01M134.4 482.2h.01M131.6 483.9h.01M132 483.3h.01M131.9 481h.01M132.7 484.1h.01M132.8 480.7h.01M133.3 481.6h.01M131 482.4h.01M130.4 485.4h.01M131.7 482h.01M131.7 484.3h.01M131.1 480.8h.01M130.2 481.6h.01M133.1 482.7h.01M132 482.1h.01M129.9 481.5h.01M130.9 480h.01M130.5 484.6h.01M128.9 480.1h.01M133.9 480.4h.01M129.5 480.7h.01M130.7 483.9h.01M130.4 484h.01M131.6 481.7h.01M131.3 484.1h.01M130 479.5h.01M132 484.7h.01M133.8 483.3h.01M133.7 484.4h.01M132.1 480.5h.01M133.2 484h.01M131.8 477.8h.01M129.7 480.1h.01M133.2 480.8h.01M132.3 484.9h.01M131.9 483.4h.01M133.9 481.6h.01M129.6 481.5h.01M131 481.2h.01M129.1 483.7h.01M128.7 482.5h.01M129.8 480.4h.01M129 481.8h.01M132.3 482.7h.01M129.3 484h.01M125.6 481.1h.01M130.9 482.6h.01M140.1 499.4h.01M138.9 497.6h.01M136 498.4h.01M140.1 498.5h.01M139.7 500.5h.01M136.3 498h.01M137.3 499.9h.01M134.6 500.2h.01M139 499h.01M137.8 501.9h.01M136.9 502.4h.01M136.3 504.8h.01M138.5 498.7h.01M136.4 499.3h.01M137 500.9h.01M138.7 499.7h.01M137.3 501h.01M141.8 498.5h.01M137.5 499.3h.01M134.6 501.3h.01M139.4 501.2h.01M138.8 503h.01M141.7 491.5h.01M141.5 491.1h.01M140.3 491.3h.01M140.8 491.7h.01M144.8 490.5h.01M140.7 492.2h.01M139.4 491.4h.01M143.3 487.2h.01M140.6 489.5h.01M142.8 489.5h.01M141.5 492h.01M138.8 490.2h.01M142.5 493.7h.01M140.4 489.9h.01M143.3 486.5h.01M140.5 488.3h.01M140.2 492.6h.01M142.7 489.8h.01M141.4 491.7h.01M138.8 491.3h.01M142.2 489.1h.01M139.8 490.3h.01M140.1 490.9h.01M141.4 490.7h.01M141.8 487.7h.01M137.5 492.3h.01M139.7 489.6h.01M138.8 492h.01M138.7 490.1h.01M137.6 487.2h.01M141.6 491.2h.01M141.7 490h.01M137.5 492.5h.01M143.1 489.5h.01M142.8 490.3h.01M138.5 492.1h.01M138.3 491.5h.01M143.3 487.9h.01M138.5 488.6h.01M141.2 492h.01M139.8 499h.01M142.6 498.4h.01M141.5 498.9h.01M146 496.4h.01M141.9 500.7h.01M142.2 501.5h.01M139.2 500.8h.01M143 498.9h.01M142.6 502.5h.01M142.5 502.6h.01M146.7 500.8h.01M145.5 499.1h.01M143.4 502.2h.01M143.1 500.5h.01M136.3 502.5h.01M145.7 500h.01M138.6 500.7h.01M141.1 500.2h.01M144.2 499.2h.01M141.4 501.7h.01M143.2 500.7h.01M144.8 499.6h.01M141.5 499.7h.01M144.5 499.9h.01M142.8 504.8h.01M142.7 499.7h.01M141.7 499.7h.01M142.8 497.5h.01M140.4 500.2h.01M146.3 499.9h.01M144.3 499h.01M146.1 499.4h.01M144.7 499.5h.01M142.3 501.8h.01M144.4 498.1h.01M147.5 494.9h.01M142.8 499.2h.01M144 502.6h.01M140.9 497.9h.01M147.2 498.7h.01M142.4 499h.01M145.9 498.7h.01M142.9 503.9h.01M147.1 497.6h.01M142.5 499.5h.01M142.1 500.1h.01M143.3 502.1h.01M142.9 502h.01M148.9 492.5h.01M151.5 494.3h.01M149.1 493.9h.01M147.2 489.4h.01M149.8 489h.01M149.2 491.6h.01M150.5 494h.01M149.4 490.1h.01M146.6 486.8h.01M148.7 492.7h.01M150 492.7h.01M146.4 488h.01M150 493.6h.01M146.9 488.9h.01M150.3 492.1h.01M148.1 491.5h.01M146.9 490.3h.01M149.9 489.4h.01M148.9 490.4h.01M149.6 491.2h.01M149.3 487.6h.01M148.2 491.5h.01M147.5 490.8h.01M148.8 488.4h.01M147.3 491.1h.01M144.5 486.8h.01M148.5 488.2h.01M146.7 487.2h.01M150.8 487.5h.01M147.1 487.2h.01M148.4 489.9h.01M150.5 491.7h.01M146.8 490.3h.01M147.6 488.1h.01M149.6 494h.01M148.9 488h.01M129.3 488.1h.01M131.3 493.6h.01M128.6 490.8h.01M128.6 495.1h.01M128.4 487.8h.01M126.1 489.4h.01M126.7 489.8h.01M126.9 487.5h.01M127.4 492.7h.01M125.5 491h.01M129.3 493.1h.01M127.8 488.2h.01M126.6 486.2h.01M129.2 489.1h.01M130.6 497.9h.01M130.5 493.6h.01M128 490.6h.01M130.6 487.6h.01M128.8 488.8h.01M128.1 488.8h.01M129.2 493.4h.01M129.3 490.2h.01M129.3 490.6h.01M128.3 492.3h.01M142 499.7h.01M139.2 500.7h.01M142.6 499.8h.01M144.7 500.2h.01M141.2 499.2h.01M142.6 498.6h.01M143.4 500.2h.01M141.8 501.1h.01M143.5 501.1h.01M140.2 501.8h.01M142.8 501.4h.01M142.5 497.6h.01M142.3 502.1h.01M138 501.4h.01M144 498.4h.01M140 502.4h.01M142.1 499h.01M136.9 498.7h.01M140.6 503.3h.01M140.5 500.7h.01M140.9 497.8h.01M140 499.7h.01M139.8 499.4h.01M131 496.3h.01M136.9 497h.01M140.1 494.7h.01M131.9 496.7h.01M137.1 494.6h.01M139.9 494.8h.01M134 497.4h.01M136.1 496.5h.01M143.1 497.8h.01M136.1 494.7h.01M136.7 498.9h.01M137.4 495.6h.01M139.6 494.6h.01M137 496.6h.01M136.4 496.9h.01M136.2 496.3h.01M137.5 496.4h.01M135.1 497.4h.01M136.2 498.2h.01M136.9 494.7h.01M137.2 497.1h.01M132.1 497.3h.01M129.1 501.4h.01M136.6 504.7h.01M138.3 507.3h.01M136.2 506.3h.01M136.8 504.5h.01M133.9 506h.01M133.6 504.4h.01M134.3 503.7h.01M135.6 505.4h.01M137.4 502.9h.01M139.2 504.6h.01M136.8 508.5h.01M135.4 505.7h.01M135.4 504.3h.01M132.3 504.5h.01M133.4 502.6h.01M132.6 506h.01M137.8 506.3h.01M135.6 506.8h.01M131.3 505.1h.01M134.5 505.7h.01M135.6 507.2h.01M134.9 505h.01M132.4 506.1h.01M138.4 503.2h.01M134.7 505.4h.01M134 506.8h.01M135.7 505.1h.01M136.6 505.6h.01M143.3 489.1h.01M141.9 490.2h.01M141.9 489.7h.01M139.8 488.1h.01M142 487.2h.01M138.5 486.4h.01M146.1 487.5h.01M142.9 485.6h.01M144.1 489.8h.01M141.5 489.1h.01M142.2 488.1h.01M141.5 487.6h.01M142.8 488.3h.01M142.1 487.7h.01M143.9 488.6h.01M144 490.8h.01M136.7 500.8h.01M140 504.1h.01M137.9 501.9h.01M136.2 501.6h.01M139.8 502.4h.01M135.8 502.8h.01M136.4 505.5h.01M141.1 502.5h.01M139.2 503.7h.01M138.1 506.9h.01M136.1 502.5h.01M134.1 506.4h.01M136.5 506.1h.01M138 504h.01M138.7 504h.01M137.7 500h.01M136.8 506.9h.01M137.3 503.6h.01M137.6 504.2h.01M138.4 501.3h.01M136.5 504.1h.01M139.3 504.4h.01M140.5 504.1h.01M138.3 506.9h.01M139.9 493.2h.01M132.6 493.7h.01M135.7 495.7h.01M134.3 494.6h.01M134.9 493.6h.01M134.6 491.7h.01M132.9 495.2h.01M132.7 496.7h.01M134 493.8h.01M132.3 495.2h.01M134.8 493.8h.01M131.9 491.6h.01M134.5 495.2h.01M135 496.6h.01M134.1 495.8h.01M134.9 496.6h.01M134.2 495.8h.01M133.1 495.4h.01M135 494h.01M133.9 495.2h.01M133.4 498.1h.01M135.9 497.3h.01M136.6 497.5h.01M134.1 500.1h.01M133.4 496.5h.01M130.6 495.5h.01M132.2 493.6h.01M140.5 496.9h.01M136.3 496.2h.01M140.1 501.2h.01M139.5 503.2h.01M139.6 496.3h.01M138.9 493.8h.01M138.5 495.1h.01M137.9 496.7h.01M137.1 500h.01M138.8 500.6h.01M139.4 500.4h.01M134.4 497.1h.01M139.8 501.3h.01M138.4 498h.01M138.8 499.8h.01M139.4 503.6h.01M139.8 499.6h.01M139.1 495.8h.01M135.6 501h.01M141 499.1h.01M140.9 495.6h.01M138.9 499.9h.01M141.5 497.9h.01M139.6 502.9h.01M137 500.9h.01M138.7 498.1h.01M138.8 496.7h.01M132.2 493.9h.01M131.6 494.7h.01M130.1 496.9h.01M131.8 495.8h.01M130.6 496.1h.01M130 497.2h.01M129.2 496.9h.01M128.5 498.8h.01M129.9 496.1h.01M128.8 498.1h.01M130.2 497.6h.01M130.4 495.3h.01M131.4 495.6h.01M135.1 492.7h.01M134.9 505.1h.01M134.7 505h.01M135.5 506.2h.01M134.2 504.7h.01M136.8 502.9h.01M136.4 504h.01M132.5 507.6h.01M136.4 507.4h.01M137.5 502.9h.01M134.2 505.9h.01M134.7 506.4h.01M137.2 507.4h.01M133.1 503.9h.01M132.9 508.6h.01M135.5 508.4h.01M135 505.6h.01M135.6 504.5h.01M135.3 506.9h.01M137.1 504.2h.01M136.2 504.1h.01M131.5 506.7h.01M137.6 503.5h.01M137.1 505.6h.01M137.1 504.6h.01M136 505.4h.01M131.5 506.2h.01M136.8 505.7h.01M134.6 504.6h.01M128.4 503.2h.01M132.3 501.9h.01M127.1 503.7h.01M134.5 505.6h.01M134.2 503.8h.01M131 503.8h.01M131.7 504.1h.01M133.1 503.8h.01M131.6 505.4h.01M132.9 503h.01M129.7 504h.01M133.8 502h.01M133 502h.01M130.3 503.3h.01M126.7 503.1h.01M130.5 503.8h.01M131.5 502.9h.01M129.1 506.7h.01M131.3 502.7h.01M133.6 504.7h.01M125 505.1h.01M118.3 507.7h.01M115.8 508.3h.01M127.3 506.9h.01M124.3 508.2h.01M124.4 506h.01M125.7 507.9h.01M121.6 506.5h.01M111.8 512.2h.01M109.6 511.7h.01M113.2 512.4h.01M113.3 514h.01M110.9 512.9h.01M113.2 511.8h.01M111.2 514.6h.01M113.5 516.9h.01M109.4 512h.01M114.5 514.8h.01M114.8 514.3h.01M109.5 510.6h.01M112.1 514.9h.01M110.2 512.9h.01M110.5 512.2h.01M115.5 510h.01M113.8 511.7h.01M111.6 510.6h.01M112.6 509.9h.01M109.7 513.2h.01M110.1 509.9h.01M112.6 508.2h.01M112.3 513.9h.01M113.1 510.2h.01M112.7 511.2h.01M109.2 511.5h.01M108.1 511h.01M113.3 510.7h.01M108.2 512.3h.01M112.6 513.1h.01M113.2 511.4h.01M114.3 513.9h.01M112.4 513.7h.01M121.4 507h.01M121.1 510.2h.01M119.2 508.1h.01M121.5 511.2h.01M119.1 506.5h.01M117.6 511.8h.01M119.1 506.9h.01M115.2 520.5h.01M117.7 523.5h.01M118.6 521.5h.01M117 521h.01M121.4 521.2h.01M116.4 522.8h.01M117.5 520.6h.01M118.3 520.3h.01M116.8 520.2h.01M115.5 520.3h.01M116.3 523.1h.01M118.5 521.8h.01M121.5 521.3h.01M112.8 523.8h.01M114.8 519.4h.01M120 522.2h.01M113.6 523.3h.01M114.7 522.7h.01M118.4 521.5h.01M109.8 521.5h.01M113.3 522.3h.01M119.1 523.5h.01M116.7 520.4h.01M125.3 519.2h.01M131.9 521.1h.01M121.4 516.3h.01M122.2 522.1h.01M121.7 518.1h.01M120.1 517.3h.01M127.8 522h.01M124.4 518.3h.01M129.6 521.1h.01M127.2 521.6h.01M123.3 520.7h.01M128.4 517.4h.01M122.9 519.8h.01M123.9 520.1h.01M123.5 518.7h.01M126.7 520.3h.01M128.6 519.2h.01M128.1 517.9h.01M123.6 517.4h.01M122 519.8h.01M129.3 523.7h.01M128 522.9h.01M130.4 526.4h.01M129.3 523.3h.01M129.8 521.9h.01M128.7 521.1h.01M129.1 521.7h.01M130.3 525.5h.01M129.7 522h.01M131.7 524h.01M127.9 529.6h.01M129.3 523.6h.01M127.6 521.9h.01M131.3 524.4h.01M132 527.7h.01M129.1 525h.01M129.3 522.6h.01M131.8 522.4h.01M130.2 523h.01M132.1 524.6h.01M127.9 526.4h.01M131 522.7h.01M132.3 525.3h.01M131.3 524.8h.01M121.8 507.7h.01M126.2 519h.01M124.1 511.4h.01M122.2 508.5h.01M123 511.9h.01M126.5 512.6h.01M120.2 503.8h.01M123.1 513.2h.01M123.8 514.5h.01M124.3 513.9h.01M125 512.6h.01M120.3 508.2h.01M119 504h.01M124.6 511h.01M122.4 507h.01M122.4 507h.01M124.8 512.5h.01M125.1 511.9h.01M125.9 511.7h.01M123.4 511.5h.01M126.4 518.3h.01M125.5 515.4h.01M127.1 515.1h.01M128.8 513.2h.01M125.5 509.7h.01M124.2 510.1h.01M130.5 511.6h.01M126.7 510.9h.01M127 508.5h.01M126 509.2h.01M124.1 511.6h.01M125.9 509.2h.01M128.1 509.9h.01M130.1 513.8h.01M129.2 510.9h.01M125.1 508.7h.01M127.3 509.8h.01M131.2 516.5h.01M128.7 512.2h.01M129.5 512.2h.01M124.8 510.2h.01M128.1 514.7h.01M127.4 509.5h.01M127.5 511.3h.01M127 512.3h.01M129.6 510.6h.01M125.6 512h.01M134.6 508.4h.01M135.1 508.4h.01M132.3 509h.01M130.1 508.9h.01M132.4 511.1h.01M131.6 508.5h.01M135.6 510.3h.01M133 511.2h.01M133.6 509.4h.01M133.8 512.3h.01M133.7 513.1h.01M134.2 510.2h.01M134.4 508.9h.01M130.9 508.4h.01M131.1 511.2h.01M132.2 510.5h.01M133.7 510.1h.01M134 509.8h.01M136.2 509.2h.01M134.2 511h.01M132.4 510.4h.01M134.2 511.6h.01M132.4 513.5h.01M132.3 512.3h.01M135.9 510h.01M116.5 508.5h.01M121.6 506.6h.01M123.8 509.4h.01M117.1 509.7h.01M124.6 509.4h.01M117.4 505.9h.01M120.5 507.6h.01M119.8 509h.01M123.6 512.5h.01M121.8 507.8h.01M118.7 511.3h.01M120.9 507.4h.01M121.6 509.7h.01M116.6 506.4h.01M119.8 512.9h.01M123 509.6h.01M119.8 508h.01M118.7 510.9h.01M119.2 508.4h.01M122.4 510.8h.01M120.3 512.8h.01M121.1 508.9h.01M120.3 511.1h.01M122 508.1h.01M119.6 508.7h.01M127.5 518.4h.01M124.5 516.5h.01M126.6 517h.01M126.8 521.8h.01M124.8 517.7h.01M126.2 511.6h.01M123.9 518.3h.01M125.4 516h.01M125.5 517.4h.01M126.4 523.8h.01M124.2 522.9h.01M124.1 519.4h.01M127.3 512.2h.01M126.8 513.9h.01M126.9 519h.01M129.8 518.7h.01M127.4 520h.01M127.2 523.2h.01M127.9 520.9h.01M126.1 515.9h.01M126.6 515.8h.01M125.9 518.9h.01M125 513.8h.01M127.8 520.6h.01M125.6 519.9h.01M126.8 517.5h.01M136.7 497.4h.01M133.8 501.9h.01M133.5 499.2h.01M131.7 500.7h.01M129.9 505.3h.01M131.8 499.1h.01M129.2 498.3h.01M136.4 497.6h.01M132 502.6h.01M134.7 501.2h.01M129.6 498.5h.01M129.9 499h.01M132.5 497.2h.01M132 500.2h.01M131.9 500.3h.01M132 502.8h.01M131.6 503.6h.01M131.6 500.1h.01M133.9 501.2h.01M131.6 496.7h.01M133.8 502.1h.01M130.7 500.1h.01M131.7 501.4h.01M121.5 519.1h.01M120.8 521.6h.01M123.5 520.9h.01M123.1 515.7h.01M122.1 518.6h.01M124.6 520.2h.01M126.2 517h.01M123.4 518.4h.01M124.9 516.7h.01M122.3 516.5h.01M122.2 516.4h.01M127.4 520.1h.01M125.8 519.7h.01M122.1 521h.01M123.1 522.3h.01M122.5 518.2h.01M122 519.6h.01M122.8 521.1h.01M125.4 519h.01M122.7 517.6h.01M122.4 520.6h.01M120.1 519.6h.01M122.4 520.8h.01M120.4 516.2h.01M126 468h.01M124.2 470.3h.01M123.3 468.9h.01M123.5 467.9h.01M127 468.6h.01M126.6 463.7h.01M123.9 465.8h.01M126.2 466.5h.01M120.1 466.7h.01M122.9 467.5h.01M125.4 469.7h.01M121.6 466.3h.01M123 464.4h.01M120.9 465.7h.01M125.3 466.4h.01M128.2 464.8h.01M126.7 467.3h.01M121.6 466.8h.01M123.4 468.6h.01M125.3 464.4h.01M126.4 466.2h.01M124.9 469.2h.01M125.9 465.5h.01M122.5 467.8h.01M125.9 465.9h.01M139.3 469.1h.01M137.4 470.5h.01M139.4 467.1h.01M136 474.9h.01M139.7 473.8h.01M137.6 470.5h.01M138.1 470.7h.01M137.3 471.1h.01M137.8 472.9h.01M140.9 470.8h.01M138.2 471.3h.01M139.7 474.1h.01M134.8 470.2h.01M139.5 470.6h.01M139.6 468h.01M138.2 472.6h.01M141.5 470h.01M140 471h.01M140 470.2h.01M136 474.9h.01M138.6 475.5h.01M136.9 469.7h.01M140.7 473.9h.01M138.2 468.8h.01M137.7 469.5h.01M135.3 474.7h.01M137.1 473.9h.01M137.7 469h.01M138.9 474.9h.01M140.6 469h.01M139.4 468.7h.01M139.2 467.2h.01M137.5 469.9h.01M136.8 475.8h.01M135 477.4h.01M137.3 471.5h.01M137.6 473h.01M136.5 470.5h.01M137.3 473.9h.01M140 472.1h.01M131.7 460.3h.01M133.9 463.1h.01M132 461h.01M135.3 460h.01M131.8 462.7h.01M136 459.5h.01M132.2 458.1h.01M133.5 459.9h.01M128.1 462.1h.01M132.8 462.5h.01M130.6 462.4h.01M131.7 463.3h.01M131.9 457.8h.01M128.9 463.1h.01M133.4 465h.01M132.3 460.5h.01M131.9 463.9h.01M130.7 459.4h.01M130.5 459.2h.01M128.9 462.7h.01M133.7 459h.01M135.3 457.3h.01M134.7 460.1h.01M133 461.7h.01M134.3 464.3h.01M132.2 460.4h.01M132.2 461.5h.01M139.7 471.4h.01M144.3 477.1h.01M136.7 470.2h.01M139.8 471.4h.01M136.9 469.7h.01M139.8 468.3h.01M137.5 472h.01M140 469.2h.01M140.2 474.6h.01M141.5 475.9h.01M138.7 471.3h.01M138.5 472.9h.01M141.5 474.1h.01M143.6 475.9h.01M143.6 476.2h.01M139.4 469h.01M140.5 469.1h.01M130.8 471.4h.01M129.2 477.9h.01M126.7 476.4h.01M130.7 475.9h.01M130.8 469.8h.01M124.5 470.7h.01M130.4 472.5h.01M130.2 477.7h.01M129.1 472.7h.01M129.7 471.4h.01M133.8 472.5h.01M127.1 471.8h.01M129.4 472.5h.01M130.8 468.5h.01M129.2 473.2h.01M132.5 473.8h.01M130.2 472.9h.01M127.6 470.7h.01M131.9 472.3h.01M130.9 472.5h.01M127.3 473.7h.01M130.3 472.2h.01M131.2 469.2h.01M131.3 469.7h.01M129.7 468.2h.01M127.4 473.1h.01M129.7 475.8h.01M130.6 470.3h.01M131.6 471.1h.01M130.7 476.5h.01M129.4 476.6h.01M129.3 471.2h.01M126.5 476.4h.01M130.5 473.9h.01M128.7 474.1h.01M134.5 464h.01M135.2 466h.01M139 469.8h.01M140.4 466.8h.01M135.6 465h.01M134.2 466h.01M140.3 465.6h.01M134.5 463.1h.01M134.1 464.2h.01M135.3 465.5h.01M135.5 464.6h.01M128.1 472.1h.01M129.4 473.4h.01M131.5 471.9h.01M130.1 472.3h.01M125.8 474.7h.01M129.4 471h.01M128.2 473.2h.01M127.9 475.1h.01M128 472.3h.01M130.8 469.6h.01M127 469.3h.01M128.7 470.5h.01M129.9 472.5h.01M130.3 470.2h.01M132.3 467.4h.01M127.8 478.7h.01M128.9 475.1h.01M128.7 474.5h.01M128.8 471.9h.01M127.8 472.7h.01M130.1 474.1h.01M127.5 471.7h.01M127.7 471.8h.01M128.7 467.2h.01M129.7 467.2h.01M130.3 469.4h.01M131.5 472.5h.01M126.6 472.7h.01M127.5 473.5h.01M129.6 468.6h.01M129.5 474.2h.01M129.5 470.3h.01M129.1 471.8h.01M134.9 473.3h.01M133.8 475h.01M132.9 477.5h.01M133.2 475.1h.01M131.6 478.3h.01M135.3 476.1h.01M127.5 477.9h.01M129.2 477.9h.01M133.6 477h.01M134.7 472.9h.01M133.3 477.3h.01M133.2 475.2h.01M137.4 473.5h.01M134.1 475.4h.01M135.2 474.6h.01M129.5 473.5h.01M133.9 476.6h.01M134.4 476.5h.01M132.8 478.2h.01M135.3 475.6h.01M132.2 475.7h.01M132.8 477h.01M133.2 474.2h.01M136.2 474.5h.01M137.9 473.7h.01M134.5 473.5h.01M132.6 475.5h.01M143 467.5h.01M143.6 468.7h.01M143.1 466.6h.01M144.7 470.7h.01M143.5 466.7h.01M140.4 467.1h.01M143.8 465.8h.01M145.9 468.2h.01M143 467.9h.01M142.4 470.2h.01M141.3 461.1h.01M143.4 467.9h.01M141.7 466.2h.01M141.5 466.9h.01M141.2 469h.01M145.4 467.9h.01M140.4 465.6h.01M143.7 464.2h.01M140.7 467.9h.01M142.4 463.9h.01M141.4 463.8h.01M142.7 471h.01M139.4 460.7h.01M132.9 475.7h.01M134.7 474.3h.01M132.8 475.2h.01M135 476.5h.01M133.8 474.3h.01M139.6 460h.01M138.3 465h.01M138.2 466h.01M138.7 462.1h.01M140.1 462h.01M139.4 463.1h.01M138.4 465h.01M141.8 463.7h.01M140.8 463.1h.01M139 463h.01M135.7 464.3h.01M136.6 463.9h.01M138.8 460.1h.01M140.7 463.8h.01M135.1 461.9h.01M143.4 466.3h.01M139.7 462.8h.01M136.4 464.4h.01M138.6 463.4h.01M123.6 465h.01M121.1 466.3h.01M124.3 470.2h.01M119.8 465.4h.01M124.6 463.2h.01M122.7 469.5h.01M123.1 467.7h.01M121 467.7h.01M123.4 466.2h.01M121.1 465.7h.01M123.3 467.7h.01M125.6 461.9h.01M122.7 462.9h.01M121.2 463.9h.01M121.9 467.7h.01M122.2 465.5h.01M123.2 467.4h.01M123.4 465.4h.01M122.4 468.6h.01M122.4 469.5h.01M121.8 464.9h.01M121.8 466.8h.01M123.4 466.4h.01M124.5 465.2h.01M130.2 465.6h.01M128.5 469.4h.01M128.3 470.2h.01M127.3 467h.01M128.8 468.4h.01M126.5 467.2h.01M128.1 465.8h.01M127 469h.01M124.3 468.8h.01M122.4 471.2h.01M125.6 468.9h.01M124.8 466.5h.01M125.7 468.8h.01M122.7 469h.01M126.7 465.1h.01M132.4 465.2h.01M122.5 467.1h.01M126.3 468.9h.01M117.6 474h.01M129 467.1h.01M127.6 470.9h.01M129.4 467.6h.01M123.3 469.1h.01M122.6 469h.01M129.6 465.7h.01M125 468h.01M129.5 467.1h.01M124 467h.01M124.3 464.6h.01M122.4 465.6h.01M128 469.8h.01M122.2 467.2h.01M123.1 464.4h.01M123.4 464.8h.01M123.3 466.1h.01M121.5 466.2h.01M123 466.9h.01M125.3 467.5h.01M119 465.4h.01M118 465.7h.01M124.6 463.4h.01M122.9 466.1h.01M121.3 463.5h.01M122.3 468.1h.01M121.1 466.4h.01M123.2 462.3h.01M122.7 468.2h.01M122 463.1h.01M121.1 465.4h.01M120.8 464.9h.01M117.8 461.9h.01M123.9 467h.01M121.2 463.6h.01M121.6 464.7h.01M123 462.8h.01M119.6 466.6h.01M121.1 465.6h.01M121.5 469.3h.01M123.1 466.2h.01M119.7 465.3h.01M123 465h.01M118.6 470.2h.01M115.1 466.9h.01M114.4 469.4h.01M114.4 467.6h.01M114.8 468.7h.01M113 470.2h.01M111.9 468.7h.01M114.9 471.7h.01M119.7 470.7h.01M117.9 473.2h.01M111.6 469.1h.01M115.6 471.4h.01M114.7 470.5h.01M110.1 467.4h.01M113.3 469.4h.01M110.5 467.1h.01M114.3 470.2h.01M135.4 469.7h.01M135.6 470.2h.01M133.2 474.3h.01M130.8 473.8h.01M132.7 471.4h.01M136.7 470.1h.01M134.9 472.2h.01M134 475.6h.01M130.5 479.1h.01M133.8 472.4h.01M135.7 472.5h.01M133.1 469.1h.01M134 473.9h.01M132 473.1h.01M135.5 470.1h.01M134.1 469.4h.01M134.8 473.8h.01M129.4 465.5h.01M127.1 464.8h.01M126.7 462.2h.01M131 467.6h.01M126.5 463h.01M128 462.4h.01M128 463.6h.01M130.4 462.3h.01M129.6 462h.01M132 469.8h.01M129 463.4h.01M124.6 460.4h.01M127.8 465.2h.01M127.9 463.5h.01M126.1 465.1h.01M129.4 464.4h.01M127.9 462.7h.01M128.4 464.3h.01M127.7 465h.01M127.4 461.9h.01M129.6 464h.01M129.5 465.7h.01M131.3 463.1h.01M128.1 463.8h.01M129.2 466h.01M128.3 461h.01M127.9 460.5h.01M124.3 463.4h.01M126.8 462.1h.01M132.6 465.6h.01M128.3 465.7h.01M128.5 462.7h.01M144.1 466.2h.01M144.4 470.2h.01M137.9 467.5h.01M145.1 468.4h.01M143.4 466.8h.01M143.1 470.2h.01M146.1 468.7h.01M141.3 468.6h.01M139.9 466.5h.01M145.1 469.9h.01M137.8 465.5h.01M144.7 466.4h.01M141.5 465.3h.01M143.3 467.8h.01M141.3 464.3h.01M144.5 465.8h.01M141.4 465.3h.01M144.8 468.9h.01M141 468.3h.01M138.7 466.6h.01M141.8 466h.01M144.5 469.2h.01M141.9 467.2h.01M145.6 466.8h.01M141.9 466h.01M141.7 469.2h.01M143.5 466.8h.01M146.8 469h.01M142.4 468.4h.01M143.7 466.4h.01M141.9 464.1h.01M143.5 468.8h.01M143.5 467.5h.01M142.6 463h.01M139.4 464.7h.01M140.4 466.3h.01M145.2 470.7h.01M141 468.8h.01M144.8 469.7h.01M146.4 470.7h.01M141.1 468.6h.01M143.7 465.5h.01M130.2 469h.01M130.5 470.4h.01M135.6 470.6h.01M136.3 466h.01M133.3 470.6h.01M131.5 469.3h.01M131.3 474.7h.01M134.3 468.6h.01M132.3 475.6h.01M135.2 470.5h.01M132.5 470.2h.01M134.5 466.2h.01M135.6 468.5h.01M137.4 468h.01M132.8 466.5h.01M135.4 472.2h.01M130 474.1h.01M133.8 469.8h.01M134.5 466.9h.01M135.3 468h.01M133.4 466.8h.01M133.7 468.9h.01M135.5 467.6h.01M132.1 470.6h.01M133.9 469.2h.01M134 468.8h.01M133.7 469.6h.01M135.5 468.1h.01M137.5 468.2h.01M131.2 470.8h.01M133.4 469.6h.01M131.4 468.1h.01M133.1 469.6h.01M133.9 467.7h.01M134.8 468.6h.01M130.5 465.3h.01M136.1 470.6h.01M132.5 466h.01M133.4 469.3h.01M134.1 471h.01M131.6 469.7h.01M129 472.6h.01M133.7 467.7h.01M135.4 470.8h.01M134.1 470.2h.01M137.2 468.3h.01M134.5 469h.01M133.3 470.2h.01M137.4 467.6h.01M136.6 468.6h.01M138.3 464.4h.01M136.1 468.8h.01M129 472.2h.01M127.9 469.2h.01M124 463.8h.01M124.1 468.2h.01M120.9 460.6h.01M128.8 470.1h.01M125 468h.01M128.9 473.2h.01M121.3 461.7h.01M123.9 463.3h.01M124.5 464.9h.01M124.1 465.7h.01M124.8 461.1h.01M127 468.2h.01M124.5 464h.01M122.3 460.3h.01M129.7 472.2h.01M125 468.6h.01M127.2 471.3h.01M127.8 467.5h.01M122.6 465.2h.01M126.3 468.9h.01M125.4 462.7h.01M122.6 463.4h.01M127.6 468.6h.01M130 458.7h.01M133.3 459.2h.01M133.5 458.8h.01M136.6 459.5h.01M134.4 459.3h.01M131.7 459.2h.01M137.1 460.5h.01M133.3 454.1h.01M133.1 457.3h.01M131.2 456.9h.01M131.8 461h.01M129.9 458.9h.01M133.1 457.5h.01M132 460.3h.01M131.4 457.2h.01M134.8 457.6h.01M134.9 457.3h.01M131.1 457.6h.01M134.4 459.4h.01M133.5 460.5h.01M135.6 457.4h.01M130.4 457h.01M135.7 464.1h.01M135.1 460.1h.01M130.4 458.5h.01M125.7 454.6h.01M128.5 453.9h.01M126 454.5h.01M126.1 452.8h.01M130.7 454.5h.01M128.4 453.3h.01M127.5 450.6h.01M128.4 455.4h.01M128.5 453.9h.01M125.9 454.5h.01M124.5 455.7h.01M123.9 453.9h.01M125.6 451.8h.01M121.3 454.2h.01M127.2 453.8h.01M121.8 454.6h.01M126.4 457.6h.01M123.1 455.1h.01M122.8 456.8h.01M122.5 454.7h.01M129.3 455.7h.01M122.7 454.6h.01M121.1 456.7h.01M124.2 456.7h.01M122.8 453.2h.01M128.6 456.9h.01M126.1 475.3h.01M122.7 474.5h.01M123.4 470.7h.01M125.1 474.3h.01M125.9 474.3h.01M121.6 473.4h.01M122.8 470.8h.01M127.7 476.9h.01M122.3 475.1h.01M124.1 473.6h.01M127.2 476.7h.01M121.4 473.5h.01M125.3 475.8h.01M123.6 473.6h.01M123.2 475.7h.01M123.9 473.8h.01M122.4 473.9h.01M126.1 474.3h.01M125.3 476.6h.01M125.6 474.2h.01M124 475.6h.01M124.1 477.4h.01M122.1 474.8h.01M126 474.1h.01M120.4 473.9h.01M125.2 472.5h.01M122.5 472.1h.01M124 475.3h.01M122.5 471.1h.01M128.2 474.5h.01M124.7 473.5h.01M124 473.3h.01M124.8 476.3h.01M116 471.2h.01M115.7 477.3h.01M115.8 470.1h.01M112.6 474.6h.01M115.1 473.3h.01M113.1 474.1h.01M116.1 473h.01M116.1 474.7h.01M112.4 471.8h.01M117.7 471.5h.01M117.2 475.3h.01M112.6 471.3h.01M113.3 477.5h.01M114.7 473.1h.01M116.9 472h.01M116.8 469.8h.01M115.2 475.7h.01M113.6 473.4h.01M118.6 471.4h.01M116.9 474.5h.01M119.5 472.3h.01M114.2 472.4h.01M116.2 474.1h.01M113.1 472.5h.01M115.4 472.5h.01M119.4 470.5h.01M116.1 475.5h.01M117.4 477.5h.01M116.4 472.9h.01M115.9 477h.01M117.5 466.8h.01M122.1 465.8h.01M117.2 466.5h.01M118.8 468.6h.01M121.4 468.7h.01M119.6 469.6h.01M117.2 462.7h.01M124.3 470.1h.01M119.2 467.4h.01M122.3 469.1h.01M117 464.7h.01M118.9 466.3h.01M119.8 468.2h.01M118.9 465.8h.01M118.9 467.8h.01M120.9 465.7h.01M118 466.4h.01M121.8 466.3h.01M122.4 467.2h.01M122.6 470.5h.01M119.2 464.1h.01M123.5 469.8h.01M120.7 469h.01M121.9 469.8h.01M130.4 473.1h.01M131.9 475.4h.01M134.1 473.6h.01M137.4 473.1h.01M133.5 473.4h.01M133.8 474.1h.01M137.9 468.7h.01M131.4 475.4h.01M133.2 472.9h.01M137.1 471.4h.01M134.2 475.1h.01M135 472.1h.01M139.5 470.7h.01M137.1 471.3h.01M114.2 463.1h.01M116.8 460.8h.01M118.2 463h.01M118.9 464.8h.01M117.5 462.1h.01M119.6 463.3h.01M118.3 463.9h.01M121 460.3h.01M117.1 462.6h.01M118.9 463.5h.01M118.1 464.8h.01M115.8 462.9h.01M119.4 462.6h.01M117.5 462.6h.01M116.8 462.2h.01M115.1 460h.01M121.7 464h.01M118.5 464h.01M110.8 462.1h.01M119.7 462.2h.01M118.4 463.7h.01M125 472.5h.01M122.5 472.7h.01M125.5 473.4h.01M124.9 473.6h.01M124.3 471.9h.01M123.9 473.2h.01M126.7 470.3h.01M122.5 471.7h.01M126.2 473.2h.01M125.1 472.1h.01M124.6 474.6h.01M124.5 474.4h.01M124.8 470.9h.01M124.4 470h.01M126.3 467.9h.01M122.1 470.8h.01M124.9 471.4h.01M121.8 471.5h.01M124.8 471.3h.01M122.7 472.7h.01M114.3 469.2h.01M114.6 467.7h.01M111.5 472.8h.01M114.8 465.2h.01M113.3 466.8h.01M115.2 466.2h.01M112.7 465.5h.01M115.3 463.2h.01M114.1 467.3h.01M112.8 471.8h.01M117.8 463.9h.01M116.9 465.5h.01M117.1 464.4h.01M114.3 469.3h.01M112.4 469.6h.01M114.6 464.2h.01M113.4 465.4h.01M115.1 463.6h.01M114.2 460.3h.01M113.6 466.3h.01M114.8 463.5h.01M114.5 468h.01M113.9 468.1h.01M113.1 469h.01M116.2 467.4h.01M111.5 470h.01M117.9 465.1h.01M113.2 469.9h.01M112.1 468.4h.01M115.3 465.7h.01M114.1 464h.01M111.2 470.8h.01M135.9 477.5h.01M131.2 474.4h.01M134.5 473.3h.01M134 476h.01M136.7 470.4h.01M135.7 475.4h.01M132.4 476.6h.01M134.6 471.4h.01M134.6 475.1h.01M135.6 475.9h.01M135.2 478.7h.01M135.9 474.3h.01M135 476h.01M132.3 479.8h.01M135.4 475.2h.01M135.5 472.6h.01M134.2 476.6h.01M133.5 476.1h.01M137.2 475.8h.01M136 482.5h.01M133.9 470.6h.01M136.8 471.2h.01M132.9 474.5h.01M134.9 475.9h.01M126.5 470h.01M122.2 471.5h.01M126.9 469.6h.01M122.3 471.8h.01M125.2 470.9h.01M123.4 471.7h.01M118.3 474.3h.01M124.3 471.3h.01M120.4 473.2h.01M123 473.1h.01M122.9 472h.01M123.6 471.3h.01M122.5 474h.01M122.6 472.3h.01M119.5 471.5h.01M122.2 469.2h.01M126.2 473.6h.01M154.4 492.4h.01M154 486.9h.01M155.5 490.4h.01M160.3 476.7h.01M164.3 478.3h.01M155 480.9h.01M161.9 479h.01M160.1 480h.01M161.8 476.2h.01M160.9 478.4h.01M159.3 479.6h.01M161.4 477.4h.01M156.4 478.3h.01M158.4 481h.01M158.6 479.9h.01M157.8 473.5h.01M157.4 478.7h.01M158.3 476.6h.01M157.4 474.7h.01M160.7 477.1h.01M159 475.7h.01M159.7 473h.01M158.1 474.7h.01M155.2 474.2h.01M158 473.3h.01M156.3 474.6h.01M155.5 477h.01M154.7 475.6h.01M157.6 473.6h.01M156.4 478.4h.01M157.5 475.3h.01M160.1 473.7h.01M155.6 475.2h.01M155.8 476.7h.01M157.8 473.4h.01M156.2 478.6h.01M158.8 475.8h.01M153.8 477.4h.01M157.6 474.7h.01M153.6 477.9h.01M155.2 475.9h.01M154.1 475.8h.01M153.9 476.8h.01M156.5 476.5h.01M157.1 477.6h.01M156.9 475h.01M156.8 480.9h.01M158.7 477.8h.01M159.7 476.5h.01M155.2 475.2h.01M158.7 474.9h.01M154.5 476.8h.01M156.3 478.8h.01M156.9 476.9h.01M156.9 477.8h.01M156.7 471.8h.01M159.1 476.5h.01M157 475.7h.01M158.7 475.2h.01M152.1 474.7h.01M159.7 475.5h.01M156.7 472.7h.01M154.1 473.8h.01M153.7 463.3h.01M155.8 466.3h.01M155.7 465.7h.01M156.3 467.1h.01M151.8 466.5h.01M155.4 466.8h.01M146.6 465.7h.01M151.2 465.3h.01M154.9 466.3h.01M154.6 466.2h.01M154.7 465.5h.01M154.1 466.2h.01M149.6 464.1h.01M150.6 464.4h.01M151.9 466.1h.01M153.8 466h.01M152.1 465.2h.01M152.3 466.1h.01M151.1 467.5h.01M150.9 466.8h.01M152.1 464.7h.01M149.6 466.6h.01M152.9 467.4h.01M147.6 463.7h.01M153.9 464.1h.01M154.3 464.4h.01M154.9 467.6h.01M155 464.8h.01M153.3 464.8h.01M154.7 464.7h.01M155.2 464.6h.01M161.7 479h.01M165.5 478.5h.01M159 479.1h.01M164.5 475.7h.01M158.8 479.2h.01M159 478.8h.01M158.4 481.2h.01M163.6 476.1h.01M159.1 477.7h.01M158.9 478.4h.01M161.1 479.1h.01M158.5 478h.01M156.6 481.7h.01M157.2 478.5h.01M165.4 478.4h.01M155.6 479.9h.01M162 478h.01M161.1 481.7h.01M157.5 478.1h.01M161.9 479.1h.01M160.6 479.9h.01M161.2 478.5h.01M160.1 478.2h.01M156.2 480.1h.01M161.8 477.6h.01M160.8 479.5h.01M157.4 482.7h.01M168.4 478.8h.01M154.9 479.4h.01M162.8 478.5h.01M161.2 477.9h.01M156.2 483.4h.01M162.4 479.8h.01M163.7 474.2h.01M162.7 470.8h.01M166.3 473h.01M166.1 473.6h.01M163.6 476h.01M163 474.5h.01M163.5 474.7h.01M164.4 476.5h.01M162.2 474.8h.01M164.7 471.5h.01M164.8 473.9h.01M165.4 475.9h.01M164.1 476.2h.01M163.6 476h.01M162.4 472.5h.01M162.5 473.5h.01M162.5 476.9h.01M164.3 469.4h.01M161.8 473.9h.01M161.8 474.2h.01M166.3 474.1h.01M166.5 473.6h.01M165.3 476.1h.01M163.5 477.8h.01M163.7 477.1h.01M163.5 477.1h.01M163.6 469.7h.01M163.2 474.2h.01M162.8 478h.01M161.2 476.8h.01M164.8 474.4h.01M164.3 474.5h.01M162 477.6h.01M166.1 477h.01M166.5 474.8h.01M165.6 472.8h.01M165.9 470.3h.01M159.8 478.2h.01M158.7 478.7h.01M160.9 473.9h.01M159.4 472.6h.01M160.4 475.8h.01M160 480.3h.01M161.1 476.5h.01M160.5 475.3h.01M161.5 478.2h.01M158.2 479.3h.01M159.5 473.1h.01M161.8 476.7h.01M162.5 474.4h.01M159.8 477.3h.01M156.2 478.3h.01M157.6 477.2h.01M159.5 472.5h.01M156.7 477.9h.01M156.5 476.6h.01M158.2 476.8h.01M158.7 474.7h.01M158.8 479h.01M160.1 480.1h.01M161.6 473.8h.01M158.4 475.3h.01M155.9 476.7h.01M157.5 476.6h.01M157.7 476.2h.01M159.7 471.5h.01M157.9 476h.01M158.7 474h.01M154.9 476.5h.01M158.7 475.1h.01M160.8 469h.01M157 484.1h.01M156.7 484.4h.01M153.5 485.3h.01M156 488.2h.01M154.5 486.6h.01M152.7 486.2h.01M154 484h.01M155.1 488.6h.01M156.8 488.5h.01M154 485.8h.01M155 485.2h.01M155.5 486.1h.01M151.6 487.6h.01M153.7 486.5h.01M153.5 487.4h.01M153.3 484.8h.01M155.2 485h.01M153.8 486.4h.01M155.4 482.6h.01M150.9 485.8h.01M153.9 483.4h.01M155.4 484.4h.01M154.1 485.8h.01M155.1 485.1h.01M153.7 486.5h.01M154 488.5h.01M157.4 486.5h.01M153.4 486.4h.01M151.7 479.5h.01M153.8 485h.01M152.9 480.3h.01M154.3 484.5h.01M152 482.5h.01M152.8 478.2h.01M153.1 482.9h.01M153.4 479.8h.01M151.4 479.9h.01M152.9 481h.01M153.2 483.9h.01M156.9 485.3h.01M152.9 482.3h.01M155.9 484.7h.01M152.2 481.8h.01M153.6 484.2h.01M151 481.3h.01M153.8 481.9h.01M152.3 482.1h.01M154.2 487.9h.01M152.5 484.4h.01M149.8 479.8h.01M151.5 481.5h.01M153 481.2h.01M150.8 478.3h.01M154.2 486h.01M151.4 483.7h.01M156.3 486.8h.01M152.3 480.2h.01M150.6 480.8h.01M156.4 486.7h.01M152.6 484.2h.01M151 479.7h.01M154.6 485h.01M151.5 480.3h.01M153.3 482.4h.01M153.9 482.3h.01M155.2 483.6h.01M153.8 482.2h.01M153.1 483.9h.01M153.4 483.9h.01M155.2 486.5h.01M153 485.8h.01M151.7 482.4h.01M153.3 483.5h.01M153.3 481.6h.01M150.4 480.5h.01M152 483h.01M154.1 481.9h.01M155.2 487.4h.01M153.6 487.5h.01M153.8 483.8h.01M150.3 481.3h.01M149.5 492.8h.01M150.4 489.9h.01M150 489.5h.01M153.1 492.8h.01M150.9 489.5h.01M151.8 494h.01M149.7 491.4h.01M149.5 491.5h.01M154.4 489h.01M153.6 489.1h.01M152.2 491.5h.01M152.8 488.6h.01M154.1 490.8h.01M152.1 491.1h.01M154.3 489.1h.01M150.9 491h.01M150.1 490.5h.01M151.2 490.2h.01M148.7 490.3h.01M152.6 489.5h.01M153 492.8h.01M151.6 491.9h.01M152.4 490.4h.01M152.6 486.4h.01M152.5 492.7h.01M153.7 489.3h.01M152.4 493.9h.01M150.2 490.5h.01M154.8 488.4h.01M151.7 490.5h.01M152.1 493.9h.01M147.7 486.1h.01M150.7 489.4h.01M151.7 492.1h.01M149 490.6h.01M152.8 492.6h.01M149.3 489.6h.01M152.9 490.6h.01M148.7 491.1h.01M152 490.3h.01M152.2 488.1h.01M166.6 477h.01M163.2 477.3h.01M161.2 478.9h.01M165 478.1h.01M166 479.5h.01M164.8 479.7h.01M162.6 479.6h.01M165.9 481.7h.01M165.5 477.9h.01M168.6 477.8h.01M165.8 479.2h.01M161.7 481h.01M163.5 477.8h.01M160.7 479.3h.01M164.4 479.2h.01M166.2 477.9h.01M167.3 477h.01M166.2 477.2h.01M168.3 476.3h.01M163.6 478.6h.01M160 479.3h.01M168.3 477.7h.01M164.3 479.3h.01M161.8 480.3h.01M162.7 479.1h.01M163 479.5h.01M164.9 481.1h.01M158.2 480.2h.01M163.3 478.7h.01M166.9 479.9h.01M162.2 478.9h.01M164.2 479.1h.01M163.3 476.9h.01M166.1 477.6h.01M164.9 479.9h.01M161.9 478.5h.01M162.6 479.9h.01M164.8 480.1h.01M166.3 478h.01M170.1 477.6h.01M161.1 479.4h.01M166.7 476.9h.01M157.4 481h.01M159.5 479.8h.01M154.9 479h.01M158.3 482.1h.01M159.1 480.8h.01M157.6 478h.01M154.6 480.4h.01M156.5 480.2h.01M155.5 479.6h.01M160.2 481.7h.01M159.2 480.7h.01M158.7 480.4h.01M158.7 480.6h.01M155.6 479.9h.01M157.1 478.4h.01M156 480.3h.01M158.9 479.6h.01M156.3 479.8h.01M156.1 479.2h.01M157.5 482h.01M158 479h.01M155.5 482.1h.01M156.9 480.3h.01M159.4 480.3h.01M158 481.4h.01M159.3 479.2h.01M156.6 481.7h.01M158.7 483.7h.01M157.5 479.9h.01M157.3 478.2h.01M156.8 479.9h.01M156.5 482.7h.01M159.1 480.9h.01M158.9 480.6h.01M156.8 481.4h.01M159.8 478.2h.01M156.1 482.7h.01M160.1 482.7h.01M158.1 482.5h.01M157.8 479.3h.01M158.4 480.9h.01M158 480.6h.01M159.7 481.8h.01M158.8 481.4h.01M156 480.6h.01M157.2 480.5h.01M160.5 479.1h.01M159.3 481.1h.01M155.8 480.2h.01M158.3 481.4h.01M155.5 478.1h.01M158.7 483.2h.01M159.5 480h.01M159.3 479.6h.01M156.6 479.2h.01M157.1 483.8h.01M158.7 488.4h.01M159.7 486.6h.01M156 484.5h.01M156.4 484.5h.01M159.1 484h.01M156.4 486.4h.01M155.1 487.2h.01M156.8 487.2h.01M155.6 485.6h.01M159.7 491.5h.01M152.7 487.3h.01M158 486h.01M160.1 488.2h.01M160.5 484.9h.01M154.4 486.7h.01M157.3 485.4h.01M155.7 485.9h.01M158.2 484.9h.01M157.3 486.2h.01M156.6 486.4h.01M154.1 487.1h.01M156 488.4h.01M154.8 489h.01M156.4 488.2h.01M152.4 488.5h.01M156 487.8h.01M150.9 463.7h.01M148.7 467.6h.01M152.6 462.4h.01M149.8 469.4h.01M151.2 464.3h.01M150.6 465h.01M150.1 468.9h.01M146.8 466.4h.01M147.8 464.8h.01M150.8 463.1h.01M149.6 467.3h.01M148.6 467.5h.01M153.1 466h.01M148.5 464.2h.01M148.2 466.1h.01M148.8 462.7h.01M147.7 465.9h.01M152.8 468.4h.01M152.4 469.4h.01M147.8 468h.01M148.5 466h.01M151.5 466.7h.01M148.8 465.2h.01M151.4 466.1h.01M148.4 468.8h.01M148.7 464.1h.01M148.8 465.1h.01M147.5 465.3h.01M144.2 476.5h.01M149.1 474.6h.01M152.2 473.9h.01M148.1 475.2h.01M145.5 477.1h.01M150.4 476.8h.01M147.5 476.3h.01M146.6 475.2h.01M151.6 474.9h.01M143.4 477.1h.01M146.5 474.3h.01M145.7 475.6h.01M147.6 476.3h.01M148 475.3h.01M141.8 476.5h.01M148.2 475.9h.01M147.8 476.5h.01M148.3 475.7h.01M143.9 474.8h.01M151.9 474.2h.01M148.1 475h.01M148 475.6h.01M149.6 477.3h.01M147.1 474.7h.01M142.6 474.6h.01M149.6 475.6h.01M141 475.4h.01M146.9 475.7h.01M146.1 475.5h.01M147.9 476.7h.01M144.3 475.7h.01M146.5 475.2h.01M145.8 475.2h.01M146.2 475.1h.01M148.1 475.7h.01M151.3 454.1h.01M151.9 452.6h.01M150.4 453.7h.01M153.4 453h.01M152.9 456.2h.01M155.5 459.9h.01M149.6 452.4h.01M151.8 452.9h.01M155.1 454.3h.01M149.8 452.5h.01M148.2 452.8h.01M149.6 453.4h.01M156.5 453.4h.01M150.3 453.6h.01M154.3 456.7h.01M153.6 453.4h.01M156.4 457.4h.01M154.9 454.3h.01M153.6 456.7h.01M152.1 453.8h.01M149.7 451.7h.01M152.2 452.8h.01M155.7 457.8h.01M149.6 453.3h.01M147.6 453h.01M154 455.9h.01M151.6 456h.01M151.4 455.1h.01M151.7 455.1h.01M154.1 456.9h.01M152.6 456.2h.01M153.6 453.5h.01M153.1 454.3h.01M149.4 455.3h.01M152.3 454.9h.01M153.9 453.8h.01M155 455.9h.01M150.6 451.9h.01M151.2 451h.01M153.5 453.6h.01M153.8 452.6h.01M148.6 450.5h.01M145.8 469.7h.01M147.8 471.4h.01M141.3 469.1h.01M147.1 465.5h.01M147.8 472h.01M146.2 474h.01M143.2 472.2h.01M146.4 465.1h.01M144.9 468.8h.01M143.8 469.8h.01M145.7 471.8h.01M145 469.4h.01M143.8 468.5h.01M143.8 465.6h.01M145.4 470.9h.01M148.5 467.3h.01M143.9 467.7h.01M144.8 467.7h.01M144.2 471.5h.01M144.2 469h.01M144.2 467.1h.01M146.5 470.2h.01M145.3 471.7h.01M146.2 466.4h.01M147.2 468h.01M146.7 466.5h.01M144.7 468.2h.01M145.7 466.1h.01M144.8 472h.01M144.1 469.7h.01M146.3 471.2h.01M144.2 472.7h.01M144 468.4h.01M143.2 468.4h.01M147.9 471.7h.01M143.9 469.8h.01M144.9 468.1h.01M148 457.2h.01M143.1 458.8h.01M141.4 460.3h.01M147.7 456.9h.01M143.7 459h.01M143.4 459.3h.01M146.3 456.7h.01M147.4 456.6h.01M143 460.7h.01M141 461.2h.01M145.9 468.4h.01M145.7 464.7h.01M145.7 467.3h.01M144.8 465.6h.01M146.3 468.3h.01M144.7 469.1h.01M144.4 462h.01M145 465.9h.01M146.1 468.9h.01M146.1 465.3h.01M146.6 467.5h.01M146.5 468.3h.01M144.1 466h.01M145.5 466.1h.01M145.5 471h.01M144.1 462.3h.01M144.2 468.9h.01M145.6 470.9h.01M146 468.9h.01M145.5 470.7h.01M146.2 467.9h.01M146.1 464h.01M147 466.6h.01M154.8 454h.01M154.4 454.6h.01M155 451.1h.01M157.6 452.1h.01M156.4 457.3h.01M152.3 451h.01M152.9 452.9h.01M153.1 457.7h.01M156.2 449.9h.01M155.1 452.1h.01M154.2 452h.01M152.6 452.4h.01M153.2 453.2h.01M153.8 449.7h.01M156.5 463.6h.01M158.5 458.8h.01M157.8 460.5h.01M156.6 459.3h.01M158.4 462.4h.01M154.9 461.1h.01M153.6 464.2h.01M161.7 461.9h.01M149.9 477.8h.01M151.9 478.2h.01M150.8 476.7h.01M151.3 476.9h.01M150.4 476.2h.01M149.2 476.4h.01M150.1 475.7h.01M149.4 477.8h.01M151.6 474.9h.01M147.7 479.1h.01M150.9 473.1h.01M152.4 475.9h.01M151 475.8h.01M150.2 478.6h.01M151.1 472.7h.01M150.5 479.3h.01M150.1 470.4h.01M150.8 476.7h.01M150.5 476.6h.01M150.6 474.2h.01M149.1 474h.01M150 473.5h.01M150 471.7h.01M148.3 476.5h.01M154 471.6h.01M148.5 475.5h.01M150.8 473.1h.01M152.4 460.1h.01M152.8 461h.01M151 461.9h.01M153.9 462.8h.01M150.1 461.2h.01M150.2 459.2h.01M149.9 460.9h.01M150.4 457.7h.01M151.1 459.5h.01M154.2 458.9h.01M153.1 464.9h.01M150 458.3h.01M151 459.5h.01M149.1 462.3h.01M150.2 459.4h.01M153.2 459h.01M153.5 462.3h.01M151.3 462.5h.01M150.4 459.4h.01M100.9 491.1h.01M100.9 493.3h.01M103.9 493.4h.01M105.2 491.1h.01M99.4 496.4h.01M102.1 493.9h.01M102.8 491.2h.01M100.1 493h.01M98.7 496.8h.01M101 492.9h.01M101.2 496.6h.01M102.3 491.5h.01M100.8 494h.01M101.5 492.2h.01M100.7 493.1h.01M102.6 496.1h.01M100.7 494.6h.01M100.1 490.4h.01M104 493h.01M115.4 491h.01M112.5 490.4h.01M114.4 492.7h.01M113.5 487.2h.01M114 493.1h.01M114.2 490.2h.01M114.1 492.7h.01M111.7 487.8h.01M113.3 488.9h.01M111.8 490.8h.01M111.9 491.4h.01M115.8 489.5h.01M114.4 490.9h.01M111.4 489.6h.01M116.8 491.7h.01M118.7 496.7h.01M110.9 485.6h.01M115.1 490.3h.01M116.2 491.4h.01M112 490.7h.01M116.9 494.2h.01M115.9 493.7h.01M114 491.5h.01M112.7 491h.01M114.7 491.2h.01M112.4 493.3h.01M109.9 494.2h.01M109.3 497.5h.01M103.8 498.8h.01M112.4 495h.01M112.4 494.2h.01M105.9 495.3h.01M106.4 497.7h.01M111.4 491.1h.01M104.4 494.1h.01M105.5 496.5h.01M105.4 495.3h.01M108.3 495.2h.01M109.3 499.3h.01M109.4 494.5h.01M107.9 499h.01M109.1 496.6h.01M107.7 496h.01M114.7 494h.01M107.4 496.6h.01M107.2 495.2h.01M107.9 496.5h.01M107.1 496.3h.01M110.6 493.5h.01M108.8 496.7h.01M109.4 496.6h.01M107.5 498.9h.01M104.7 492.6h.01M111 496.6h.01M108.4 494.6h.01M116 498h.01M108.7 497.1h.01M113 499.3h.01M110.7 497.9h.01M113.2 502.4h.01M110.9 497h.01M107.9 496.8h.01M115.2 498.3h.01M113.2 498.3h.01M109.8 499.2h.01M112 497.3h.01M105.5 492.9h.01M107.8 497.2h.01M106.1 494.4h.01M106.9 499.3h.01M106 495.4h.01M106.8 496.5h.01M105.4 495.5h.01M107.2 498.4h.01M104.2 493.4h.01M105.4 497.2h.01M106.7 494.8h.01M116.4 493.5h.01M110.5 492.2h.01M111 493.9h.01M117.1 494.6h.01M97.1 496.4h.01M97.9 496.8h.01M100.8 495.9h.01M101.9 495h.01M101.5 496.7h.01M103.9 496.7h.01M100.7 497.6h.01M103.3 495.1h.01M102.9 496.5h.01M108.5 497.6h.01M100.3 498.1h.01M100.8 494.6h.01M102.1 495.8h.01M104.2 495.6h.01M103.4 495.4h.01M100.9 498.5h.01M104.6 494.4h.01M103.9 494.2h.01M105.7 495.3h.01M99.7 494.5h.01M103.3 496.1h.01M105.2 490.1h.01M101.5 495.7h.01M102.1 490.2h.01M98.5 492.4h.01M100.9 495.3h.01M103.3 492.4h.01M103.9 492.2h.01M101.2 490.4h.01M99.1 494.1h.01M104.9 494.7h.01M104.2 493.4h.01M100.4 493.1h.01M104.4 494.2h.01M101.8 491.3h.01M107.1 490.8h.01M108.1 496.6h.01M109.3 489.1h.01M111.5 496.2h.01M111 491.3h.01M110.1 493.2h.01M107.9 496.1h.01M108.2 496.3h.01M111.6 496.5h.01M110 496.2h.01M108.4 492.8h.01M108.6 491.8h.01M108.5 491.2h.01M113.5 495.3h.01M106.2 489h.01M106.8 489.9h.01M108.2 490.9h.01M119.1 489.6h.01M115.2 490.3h.01M111.6 493.6h.01M121.8 489.6h.01M118.7 492.2h.01M127.6 487.4h.01M122.5 488.2h.01M115.3 493.3h.01M120.3 489.8h.01M115.8 491.1h.01M118.2 489h.01M124.8 489.5h.01M115.8 490.5h.01M122.8 486.2h.01M124.6 486.5h.01M118.3 492.2h.01M117.9 491h.01M122.8 489.6h.01M120 489.6h.01M112.3 492.6h.01M121.9 489.4h.01M120.9 491.6h.01M114.4 492h.01M118.6 488.7h.01M121.3 488.5h.01M116 489.5h.01M113 492.2h.01M119.4 488.5h.01M114.8 489.5h.01M115.4 491.9h.01M96.2 490.5h.01M92.8 489.4h.01M96.1 487.9h.01M91.6 489.7h.01M91.5 493h.01M90 491.1h.01M96.9 490.9h.01M94.9 486.1h.01M92.1 492h.01M92.8 493.3h.01M91.1 492.8h.01M97 486.7h.01M91.2 488.6h.01M91.3 491.4h.01M100.5 483.2h.01M103.9 503h.01M108.3 501.4h.01M109.5 500.3h.01M106.2 505.6h.01M111.2 502.7h.01M105.2 500.5h.01M107.2 499.1h.01M106.6 500.1h.01M109.7 503.1h.01M104.9 505h.01M106.7 500.6h.01M105.3 502.6h.01M106.9 506.2h.01M107.5 502h.01M98.4 497h.01M95.8 494h.01M96.2 496.1h.01M96 496.4h.01M96.5 498.4h.01M95.9 493.1h.01M94.9 493.2h.01M95.2 491.8h.01M95.3 497h.01M97.6 495.4h.01M96.8 495.5h.01M97.4 496.4h.01M95.1 496.4h.01M99.5 495.2h.01M94.1 497.2h.01M94.4 492.1h.01M97.3 492.2h.01M98.4 497.3h.01M97.3 496.4h.01M97.6 498.1h.01M94.2 495.3h.01M98.9 495.2h.01M95.7 495.8h.01M96.7 497.4h.01M93.1 496.3h.01M97.2 494.5h.01M97.9 494.9h.01M96.1 496.2h.01M99.3 499.6h.01M97.8 499.9h.01M97.4 493.6h.01M101 502.6h.01M95.9 494.9h.01M99.7 499h.01M97.7 499.5h.01M98.1 495.3h.01M96.1 500.3h.01M96.8 501.6h.01M98.9 497.7h.01M98.5 502.6h.01M98.7 496.9h.01M93.9 499.3h.01M96.3 498.9h.01M94.6 500.4h.01M95.9 500.2h.01M97.5 497.1h.01M96 500.8h.01M98.1 497.6h.01M102.5 499.1h.01M96.8 497.2h.01M98.2 495.3h.01M97 499.3h.01M95.4 496.4h.01M98.7 497.9h.01M100.1 494.2h.01M96.7 495.1h.01M96.5 494.6h.01M99.6 499.2h.01M94.2 496.2h.01M95.3 499.3h.01M97 497h.01M97.8 499.6h.01M96.2 497.6h.01M96.5 492.2h.01M93.3 493.7h.01M94.8 493.9h.01M96.7 489.8h.01M93.7 497.1h.01M96.4 492h.01M97.2 491.1h.01M95 491.6h.01M96.9 490.4h.01M96.8 490.5h.01M91.3 492.3h.01M97 494.8h.01M94.8 486.8h.01M93.7 495.3h.01M94.2 492.6h.01M93.9 497.4h.01M98.7 489.6h.01M96.1 489.6h.01M94.8 494.8h.01M95.6 496.8h.01M93.9 491.6h.01M94.5 493.7h.01M95.3 493.1h.01M94.7 493.8h.01M94.3 489.8h.01M97.7 493h.01M97.3 490.5h.01M98 492.1h.01M98.9 488.8h.01M96 492h.01M96.1 487h.01M93.6 490.7h.01M97.5 499h.01M96 503.7h.01M94.4 499.2h.01M98 504.7h.01M96 500.6h.01M98.8 501.3h.01M91 497.9h.01M96.1 500h.01M101.1 502.4h.01M98.1 499.8h.01M99.4 503.1h.01M90 490.2h.01M91.6 488.3h.01M92.2 490.5h.01M89 489.7h.01M89.9 490.4h.01M92.8 491.5h.01M90.4 490h.01M93.1 488.4h.01M94.1 487.8h.01M89.6 488.8h.01M89.3 492.8h.01M92.9 491.1h.01M92.4 491.5h.01M90 491.1h.01M92 489.3h.01M89.9 492.3h.01M90.4 494h.01M91.7 489.3h.01M87.9 489.8h.01M89.4 487.5h.01M91.6 489.6h.01M90 489.7h.01M89.9 490.7h.01M94.9 484.5h.01M90.7 490.3h.01M92 490.3h.01M89.8 488.4h.01M89.4 489.2h.01M92.2 484.7h.01M93.1 494.3h.01M91.8 491.2h.01M93.3 490h.01M89.7 491.6h.01M90 491.6h.01M93.6 489.5h.01M96.6 504.7h.01M96.3 504.9h.01M94.3 508.5h.01M100.4 507.7h.01M93.8 508.2h.01M95.2 506.7h.01M96.6 507.3h.01M99.3 505.7h.01M97.7 504.7h.01M101.8 506.4h.01M92.8 506.7h.01M95.5 505.5h.01M94.7 507.7h.01M96.7 505.9h.01M98.1 508.3h.01M97.1 505.9h.01M97.4 505.2h.01M95.7 509.5h.01M94.9 507.7h.01M94.6 509.3h.01M96 506.6h.01M97.4 506.2h.01M101.8 501.7h.01M100 501.6h.01M98.6 507h.01M99.9 502.5h.01M103.5 502.2h.01M102.1 503.8h.01M101.1 503.4h.01M102.2 506h.01M105.2 500.9h.01M100 504.2h.01M104.2 501.9h.01M101.9 501.6h.01M100.4 506.4h.01M98.8 503.1h.01M102.8 503.8h.01M104.2 500.8h.01M101.3 502.2h.01M97.1 499.1h.01M98.3 500.7h.01M97.7 502.5h.01M94.9 497.4h.01M96.4 500.4h.01M91.7 503.3h.01M95.6 503.1h.01M99.1 502.2h.01M96.8 500.3h.01M94.4 500.4h.01M96.2 501.8h.01M94 502.2h.01M92.8 503.9h.01M97.3 503.3h.01M95.9 499.6h.01M96.2 502.2h.01M96.9 498.2h.01M99.1 502.3h.01M99.8 500h.01M99.1 500.3h.01M97.5 503.4h.01M93.7 505.8h.01M96.5 508.9h.01M96.5 503.1h.01M92.5 506.9h.01M98.3 504.8h.01M95.2 501.4h.01M95.2 505h.01M93.7 502.2h.01M93.8 506.6h.01M92.9 505.4h.01M95.5 505.3h.01M94.8 502.3h.01M94 506h.01M94.4 504.8h.01M95.5 503h.01M96.9 502.4h.01M95.2 503.1h.01M98.1 507.7h.01M92.6 502.5h.01M96.7 502.2h.01M91 505.5h.01M95.8 504.4h.01M95.7 503.1h.01M96.2 504.7h.01M95.4 494h.01M97.4 501.2h.01M100.2 498.1h.01M100.8 497.6h.01M95.8 499.3h.01M98.9 501.2h.01M101.1 497h.01M96 498h.01M98.6 500h.01M96.8 498.8h.01M101.8 499h.01M98.2 496.9h.01M98.5 498.8h.01M94.2 497.3h.01M94.4 496.7h.01M97.1 499.8h.01M98.9 500.9h.01M99.2 496.3h.01M97.6 496.7h.01M95.4 499.3h.01M95.7 497.3h.01M87.3 503.9h.01M90.3 504.8h.01M83.8 507.1h.01M86 506.2h.01M84.7 506.4h.01M86.5 505.6h.01M82.8 507h.01M88.9 507.4h.01M84.7 504.1h.01M84.2 505.1h.01M86 504.8h.01M84.6 505.8h.01M87.8 508h.01M88.5 505.9h.01M87.7 506.8h.01M85.1 508.5h.01M87.1 506.3h.01M86.8 502.9h.01M86.1 504h.01M88.2 505.1h.01M87.2 505.8h.01M86.5 504.5h.01M85.7 505.8h.01M85.1 505.3h.01M81.6 505.7h.01M84.7 506h.01M85.3 506.1h.01M86.9 505.2h.01M87.4 505.4h.01M87.6 506h.01M86.3 506.1h.01M88.4 506.2h.01M88.9 504.5h.01M89.2 506.1h.01M90.3 502.4h.01M89.6 508.9h.01M88.7 506.9h.01M85.5 509.5h.01M89.1 506.2h.01M87.5 506.2h.01M89.2 503.5h.01M88.3 505.9h.01M91.4 502.4h.01M87.9 508.7h.01M89.9 506.1h.01M89 505.5h.01M89.9 506.5h.01M89.6 505.6h.01M87.5 507h.01M87.2 509h.01M90.1 502.7h.01M87.2 508.6h.01M90.3 504.3h.01M87.3 508.3h.01M92.3 502.3h.01M88.9 509h.01M88 508.3h.01M89.2 505.2h.01M92.8 500.8h.01M92.5 500.3h.01M94.2 500.4h.01M92.5 504.7h.01M92.5 505.8h.01M93.2 504.6h.01M92.5 504.3h.01M90.4 506.7h.01M94.2 505.8h.01M90.7 505.5h.01M93 500.1h.01M93.3 503.4h.01M93.2 502.9h.01M92.1 505.2h.01M95 507h.01M91.7 504.7h.01M92 505.9h.01M92.3 504.6h.01M93.7 503h.01M91.7 507.2h.01M93.8 503.6h.01M93.2 504.2h.01M94.7 505.6h.01M93.1 505.1h.01M91.6 507h.01M91.3 501.8h.01M93.3 502.6h.01M93.5 502.9h.01M91.8 504.4h.01M93.2 508.2h.01M93.3 504.1h.01M93 504.2h.01M93.9 504.8h.01M93.9 505.1h.01M94.5 503.7h.01M93.7 504.5h.01M93.9 506.5h.01M93.1 502.4h.01M91.8 506.8h.01M94.9 501.3h.01M92.1 508.8h.01M92 505.3h.01M91.7 501.2h.01M94.3 503.9h.01M96.5 504.9h.01M91.7 501.9h.01M94.6 504.3h.01M90.9 502.6h.01M93.9 504.3h.01M91.4 505.5h.01M97.1 503.6h.01M91.7 504.7h.01M96.9 504.5h.01M92.7 505h.01M97.3 507.4h.01M93.6 506.5h.01M98.3 503.4h.01M98.4 507.4h.01M92.2 502.9h.01M91.9 502.6h.01M93.6 504.3h.01M91.7 503.5h.01M91.2 503.3h.01M94.2 504h.01M91.5 504.5h.01M92.2 504.8h.01M95.2 505.5h.01M92.1 503.3h.01M94.2 503.1h.01M93.7 505.7h.01M92.6 504.8h.01M93.8 511.1h.01M91.6 509.8h.01M90.3 509.5h.01M91.6 514.9h.01M93.1 511.8h.01M91.7 512h.01M90.4 510.2h.01M91.7 512.6h.01M93.2 512.7h.01M90.2 511.9h.01M89 510.9h.01M89.1 508.6h.01M92.1 511.6h.01M89.9 510.4h.01M89.1 511.7h.01M90.7 511.4h.01M90 511.6h.01M90 513.6h.01M90.8 510.5h.01M91.2 513.5h.01M89.6 511h.01M90.3 513.7h.01M90 511.4h.01M93.9 516.5h.01M92.7 513.1h.01M89.6 510.3h.01M92.4 512h.01M90 510.9h.01M89.6 513.6h.01M87.9 507.9h.01M93.4 513.3h.01M91.5 511.6h.01M91.3 515.3h.01M90.3 512.1h.01M91 512.3h.01M92.8 512.3h.01M91.2 512.3h.01M91.8 513.2h.01M93.7 485h.01M95 482.9h.01M98.8 481.9h.01M100.1 480.6h.01M96.6 482h.01M99.8 476.2h.01M95.5 482h.01M98.3 481.7h.01M99.2 479.2h.01M101.1 477.5h.01M96.9 483.9h.01M91.1 472.7h.01M96.4 474.1h.01M107.8 486.2h.01M102.7 489.6h.01M107.5 486.2h.01M103.4 495.5h.01M105.6 486.8h.01M105.8 487.3h.01M103.9 488.8h.01M103.9 488.4h.01M106.4 490.1h.01M107.6 487.7h.01M104.4 492.7h.01M108.8 486.3h.01M109.1 486.7h.01M107.1 488.5h.01M99.2 491.8h.01M101.5 490.6h.01M100.5 494.3h.01M99.7 490h.01M100.6 493.8h.01M102.6 490.4h.01M103.4 492.9h.01M99.8 493.8h.01M97.1 495.3h.01M100 491.3h.01M104.8 494.8h.01M99.8 491.3h.01M100.8 487.9h.01M104.5 494.4h.01M93.7 477.9h.01M93.2 480.1h.01M95.3 478.4h.01M89.7 478.5h.01M88.2 480.7h.01M92.5 477.2h.01M97.9 477.1h.01M98.4 479.1h.01M91.3 478h.01M91.4 480.2h.01M90.6 478.2h.01M97.9 477.4h.01M89.7 479.1h.01M94.5 480.7h.01M93.7 479.4h.01M115 483.1h.01M111.3 481.7h.01M117.3 482h.01M116.3 478.7h.01M111.3 482.8h.01M116.9 483.7h.01M112.4 480.2h.01M111.7 477.9h.01M113.5 481.1h.01M115.2 480.6h.01M115.1 482.3h.01M114.5 481h.01M114.4 484.1h.01M112.3 480.8h.01M114.6 476.1h.01M115.6 479.5h.01M114.8 480.2h.01M114.9 481.9h.01M115.3 476.6h.01M114.6 484.8h.01M114.9 480.6h.01M113.3 477.5h.01M115.1 480.9h.01M101.7 486.5h.01M105.1 485h.01M102 487.5h.01M104.5 482.2h.01M109.7 488.1h.01M101.9 482.6h.01M106 481.4h.01M107.8 483.5h.01M106.5 484.9h.01M102.9 486.5h.01M101.2 485.7h.01M100.6 484.8h.01M103 484.9h.01M88.6 498.8h.01M86.1 501.2h.01M85.5 499.8h.01M85.5 497.3h.01M87.2 500.5h.01M83.6 501h.01M82.1 503.1h.01M85.7 498.5h.01M83.3 504.1h.01M81.5 501.8h.01M85.8 496.5h.01M84.7 498.3h.01M82.6 502.3h.01M85.4 499.7h.01M105 504.1h.01M102.8 496.9h.01M106.2 501.2h.01M101.8 502.5h.01M111.9 499.8h.01M103 498.9h.01M105.1 499.1h.01M106.7 500.9h.01M101.9 504.2h.01M105.6 505.1h.01M105.7 503.6h.01M104.3 503.4h.01M106.4 506.9h.01M102.3 501.5h.01M106.8 502.7h.01M105.8 499.2h.01M107.2 506.6h.01M82.7 484.9h.01M79.9 486.2h.01M76.8 494.1h.01M84.9 486.6h.01M79.2 493.8h.01M78.9 489.3h.01M81.5 487.3h.01M81.4 489.9h.01M76.4 485.5h.01M77 486.9h.01M75.1 484.2h.01M77.6 487.9h.01M78.8 488.2h.01M80.6 483.4h.01M75.4 483.2h.01M77.8 488.3h.01M72.2 482.2h.01M79.4 488.3h.01M72.7 483.3h.01M85.3 496.2h.01M86.8 501.3h.01M87.9 497.9h.01M84.7 496.9h.01M87.5 501.9h.01M81.7 497.8h.01M86.5 496.1h.01M84.4 497.9h.01M84.2 498.4h.01M86.4 498.9h.01M86.4 498.5h.01M90.5 499.8h.01M85.5 499.6h.01M86.3 497.9h.01M87.2 496.2h.01M83.1 499.1h.01M75.3 502.5h.01M77.4 504.7h.01M76.2 502.6h.01M77 499.7h.01M75.3 499.3h.01M80.5 502.9h.01M82.2 502h.01M75.5 504.9h.01M78.2 503h.01M76.5 505.2h.01M78 502.8h.01M72.6 501.3h.01M76.8 504.9h.01M78.7 505.4h.01M76.2 500.3h.01M77 501.3h.01M76.6 502h.01M113.6 543h.01M112.5 541.9h.01M111.1 540.4h.01M113.1 540.7h.01M113.7 541.6h.01M111.4 544h.01M111.3 541.6h.01M112.1 543.7h.01M114.8 541.5h.01M110.9 542.6h.01M111.5 541.6h.01M112.9 541.6h.01M112.8 541.2h.01M112.1 545.5h.01M111.6 544.9h.01M115.3 544.1h.01M112.7 541.6h.01M113.7 543.4h.01M114.1 546.7h.01M111.3 542.5h.01M114.4 540.6h.01M108.3 544.8h.01M110.7 542.2h.01M113.1 543.2h.01M112.2 542.5h.01M112.6 543.5h.01M115.6 546.4h.01M110.6 543.5h.01M112.7 545.3h.01M112.7 539.1h.01M112.5 544.2h.01M111.6 546.5h.01M110.7 542.1h.01M111.4 543.3h.01M113.2 542.1h.01M114.8 542h.01M115.1 540.2h.01M110.8 539.3h.01M110.8 541h.01M111.6 544.3h.01M113.8 543.2h.01M106.6 547.2h.01M106.4 549.3h.01M108.2 546.1h.01M110.6 548.8h.01M105.3 543.4h.01M109.5 545.1h.01M110.3 548.6h.01M104.9 545.7h.01M100.2 546.5h.01M108.8 547.2h.01M107 547.7h.01M104.1 544.9h.01M108.6 548.6h.01M107.2 549.2h.01M110.1 546.7h.01M107.1 547h.01M111.1 547.2h.01M105.6 547.9h.01M107.1 545.1h.01M106.8 546.7h.01M106.8 546.8h.01M111.1 547.8h.01M108 542.2h.01M111.2 542.3h.01M110.6 544.9h.01M114 542.3h.01M111.8 542.8h.01M109 544.3h.01M106 541.2h.01M116.2 544.5h.01M106.5 541.9h.01M111.3 541.1h.01M112.6 545.1h.01M113.3 545.8h.01M111.8 543.4h.01M112.8 544.4h.01M111 542h.01M113.9 541.9h.01M110.6 542.3h.01M111 543.4h.01M109.4 544.6h.01M108 542.6h.01M107.6 542.5h.01M112.1 542.6h.01M107.5 543.8h.01M109.1 543.8h.01M115.3 542.4h.01M111 542.8h.01M113.5 541h.01M116.5 541.1h.01M110.1 540h.01M112.3 544.4h.01M99.4 542.6h.01M98.9 538.8h.01M97.2 538.5h.01M99.2 543.8h.01M97.5 543.4h.01M97.7 542.1h.01M97.4 539.2h.01M99.3 535.7h.01M97.1 543.9h.01M96.9 542.6h.01M99 537.5h.01M98.2 540.5h.01M99.7 543.1h.01M97.5 537.3h.01M100.1 538.2h.01M99.6 542.9h.01M100.5 544.6h.01M98.2 540.5h.01M97.7 542.1h.01M98.6 539.7h.01M98 542.7h.01M99.3 539.7h.01M97.7 538.3h.01M101.4 540.9h.01M99.2 541.2h.01M97.9 542h.01M96.3 542.4h.01M100.9 540.9h.01M99.4 542.2h.01M112.2 538.2h.01M109.7 539.4h.01M111.2 542.5h.01M117.4 537.9h.01M111.9 538.5h.01M110.7 538.8h.01M115.7 534.8h.01M112.3 543.4h.01M115.1 538.7h.01M112.6 538.3h.01M110.9 541.9h.01M115.4 536.5h.01M111.1 541.2h.01M111.5 542.1h.01M114.6 538.8h.01M113.3 538.2h.01M111 540.7h.01M109.4 538.2h.01M113.2 540.1h.01M111.7 540.4h.01M113.2 539.2h.01M116.2 535.1h.01M108.2 541.1h.01M107.6 540.6h.01M107.1 544.2h.01M110.7 546.2h.01M108.3 539.5h.01M107.5 544.1h.01M106 542.9h.01M109.6 543.3h.01M107.2 545.3h.01M107.5 546.5h.01M107.3 544.8h.01M106.7 541.1h.01M107.5 540.9h.01M108.4 541.3h.01M107 541.6h.01M109.1 544h.01M109.8 545.4h.01M106.8 538.7h.01M111.1 541.2h.01M108.9 544.4h.01M106.9 542.4h.01M104.2 542.9h.01M106 540.3h.01M108.4 542.3h.01M107.3 538.5h.01M105.2 544h.01M104.8 542h.01M107.1 543.1h.01M108.9 547.2h.01M109.8 547.7h.01M109.1 550h.01M109.5 552.6h.01M108.1 548.5h.01M107.2 548.9h.01M107.6 549.9h.01M108 549.9h.01M108.7 548.2h.01M109.6 547.7h.01M107 548.3h.01M106.9 549h.01M110 546.3h.01M108 548.8h.01M108.8 548.2h.01M111 547.3h.01M109.3 545h.01M112.3 547.2h.01M106.8 546h.01M105.4 546.4h.01M108.3 547.3h.01M107.1 549.2h.01M111.6 549.3h.01M107.5 550h.01M105.6 546.5h.01M106 549.9h.01M111.3 548.3h.01M106.6 552.2h.01M104.9 549.7h.01M106.2 548.5h.01M109 549.2h.01M108.4 549.6h.01M106.8 547.1h.01M110.1 547.2h.01M105 547.5h.01M107.3 547.2h.01M107 547.4h.01M108.8 543.4h.01M107.7 546.8h.01M107.6 548.8h.01M108.4 546.8h.01M110 551.1h.01M105.7 547h.01M111.4 549.5h.01M109.7 550.5h.01M108.4 547.5h.01M105.6 549.9h.01M109.8 549.7h.01M107.1 544.9h.01M106.2 545.2h.01M108.4 546.8h.01M109.5 550.9h.01M109.1 550.6h.01M106.1 546.2h.01M105.7 545.6h.01M109.9 549.2h.01M105.9 548.6h.01M110.7 551h.01M104.9 547.1h.01M107.5 549.6h.01M105.4 549.9h.01M107.7 546.1h.01M108 546.7h.01M104.8 546.8h.01M113.3 547.5h.01M104.3 541.9h.01M107.1 542.7h.01M107 542.9h.01M103.7 541.4h.01M107.7 543.5h.01M107.1 544.7h.01M111.4 545.3h.01M110.5 545.2h.01M107.5 542.4h.01M108.8 543.7h.01M108.4 546.3h.01M107.6 544.6h.01M109 547.1h.01M107.3 546.3h.01M107.9 548h.01M110.1 549.2h.01M107.3 547.7h.01M108.4 545.7h.01M109.7 544.7h.01M110.9 545.4h.01M107.4 547.8h.01M105.5 549.7h.01M106.7 547.1h.01M110.2 545h.01M109.7 546.5h.01M104.6 549.4h.01M107 544.9h.01M109.3 544.1h.01M112.1 546h.01M103.4 549.2h.01M107.4 547.1h.01M103.8 549.4h.01M111.9 543.2h.01M109.1 547.7h.01M108.7 547.4h.01M106.7 548.9h.01M106.2 549.9h.01M104 556.4h.01M107.8 549.7h.01M107.2 554.2h.01M107 548.1h.01M108.1 552h.01M104.2 549h.01M105.1 547.6h.01M106.7 552h.01M107.5 552h.01M106.6 553.1h.01M111.1 546.5h.01M109.9 551.2h.01M107 551.3h.01M106.7 549.4h.01M107.1 551.5h.01M107.2 546.5h.01M106.5 546.1h.01M108.6 551.6h.01M105.1 551.4h.01M107.4 548h.01M107.6 549.7h.01M106.3 549.1h.01M107.7 549.3h.01M108.2 549h.01M106.2 550.3h.01M105.9 550.3h.01M106.1 551.7h.01M106.6 548.3h.01M106 546.7h.01M101.8 548.2h.01M105.2 547.3h.01M106 549.3h.01M103.6 548.9h.01M105.3 546.3h.01M105.2 547.2h.01M104.6 548h.01M105.1 546.2h.01M103.7 546.4h.01M102.8 547.4h.01M105.3 547.9h.01M104.9 547.9h.01M107 547.1h.01M103.8 549h.01M105.3 549.3h.01M101.4 547h.01M103.1 544.7h.01M104 548.3h.01M101.6 546.4h.01M113 538.7h.01M110.6 535.4h.01M114.4 536.6h.01M113.2 535.6h.01M112.9 536.4h.01M110.9 538.1h.01M113 534.8h.01M110.6 537h.01M114.3 536.3h.01M113.2 538.6h.01M112.2 536h.01M110.5 537.8h.01M115.8 538.8h.01M113.3 535.7h.01M112.6 536.1h.01M111.7 535.5h.01M112 536.4h.01M114.6 537.5h.01M109.3 535.5h.01M114.3 535.5h.01M114 537.2h.01M110.3 537.2h.01M117.4 538.6h.01M109.6 535.4h.01M110.2 536.9h.01M109.1 537.1h.01M111.8 530.5h.01M107.5 535.9h.01M112 530h.01M109 535.3h.01M109.1 534.4h.01M111.4 536.6h.01M108.3 533.1h.01M113.3 533.3h.01M111.2 534.9h.01M108.5 536.1h.01M108.7 535.2h.01M110.2 535.8h.01M108.9 538.2h.01M114.4 535.4h.01M108.3 538.2h.01M107.1 532.4h.01M106.4 533.2h.01M111.1 533.5h.01M109.5 534.3h.01M112.1 536.5h.01M111.4 534.6h.01M108.5 531.4h.01M110.1 539.1h.01M117.1 540.7h.01M112.2 536.7h.01M114.2 538.9h.01M116.2 540.2h.01M114.5 541h.01M119.1 539.8h.01M111.6 538h.01M114.8 541.8h.01M117.4 540.2h.01M111.6 538.4h.01M113.6 538.4h.01M115 541.2h.01M110.2 536.4h.01M115.2 537.2h.01M114.7 536.6h.01M112.5 538h.01M116.4 538.6h.01M118.5 540.6h.01M115.4 538.7h.01M116 538.8h.01M117.2 540.3h.01M116 541.2h.01M117.8 538.6h.01M112 537h.01M115.4 539.3h.01M113.3 536.9h.01M113.6 539.2h.01M112.7 539.6h.01M117.1 540h.01M112.6 536.2h.01M111.2 548.6h.01M112.3 541.4h.01M111.3 544.2h.01M115 543h.01M115.5 546.3h.01M110.6 545.8h.01M113.3 543.2h.01M116.2 545.5h.01M111.3 540.5h.01M114.6 545.6h.01M110.6 544.9h.01M112.4 546.1h.01M113 543.6h.01M113.7 544.4h.01M111.5 545.8h.01M115 544.2h.01M113.1 543.3h.01M114.5 542.2h.01M112 545.2h.01M115.2 541.9h.01M113.1 544h.01M110.9 541.2h.01M116.4 545.5h.01M114.2 541.6h.01M110.6 541.8h.01M112.2 542.9h.01M112.8 544h.01M114.9 546.9h.01M112.2 544.1h.01M112.9 541.2h.01M112.5 546.5h.01M132.3 559.4h.01M134.5 558.5h.01M136.6 550.2h.01M136.6 559.3h.01M136.6 557.2h.01M134.1 558.6h.01M137.5 554.7h.01M134.5 555.1h.01M134.1 555h.01M136.5 551h.01M135.1 557.2h.01M135.1 555.2h.01M125.8 551.1h.01M128.4 541.7h.01M126.9 546.6h.01M131.4 546.8h.01M126.5 547.3h.01M129.8 550.2h.01M129.7 543.6h.01M126 547.5h.01M128.9 549.5h.01M127.7 547.1h.01M129 548.9h.01M126 548.3h.01M125.9 550.3h.01M129 546.6h.01M129.6 545.5h.01M129.8 541.9h.01M130.2 545.3h.01M125.1 549.9h.01M129.6 546.4h.01M113.3 541.8h.01M107.3 539.1h.01M113.8 544h.01M111 540.2h.01M107.9 538.8h.01M110.8 538.6h.01M113.3 544h.01M112.8 541.3h.01M114.3 543.7h.01M109.7 540.2h.01M111.7 539.5h.01M113 543.1h.01M110.1 538.5h.01M110.4 541h.01M109 539.9h.01M114.8 542.1h.01M112.8 543.6h.01M112 542.7h.01M112.1 540.5h.01M109.9 541.2h.01M111.5 541.6h.01M109.1 542.4h.01M108.6 537.2h.01M115.3 543.7h.01M110.1 540.5h.01M111.5 539.4h.01M110.4 538.2h.01M108.7 537.4h.01M110.3 539.3h.01M110.1 537.5h.01M110.6 540.8h.01M108.1 534.7h.01M111.1 541.3h.01M111.2 538.9h.01M108 541.5h.01M120.2 548.8h.01M117.9 548.3h.01M118.2 547.6h.01M118 550h.01M116.9 550.5h.01M121.3 547.4h.01M119.9 547.1h.01M118.6 549.8h.01M120.2 546.6h.01M120.3 545h.01M118.9 547.9h.01M118 550.7h.01M117.3 550.1h.01M118.9 548.7h.01M117.8 549.6h.01M120.1 545.7h.01M117.4 549.2h.01M120.8 544.6h.01M121.6 545.9h.01M119.5 547.2h.01M137.9 550.1h.01M134.5 550.7h.01M134.3 552.1h.01M135.8 551h.01M136.5 543.1h.01M136.9 546.7h.01M137.2 545.1h.01M139 550.1h.01M138.2 548.4h.01M139 544.7h.01M138.4 543.4h.01M140.7 545.6h.01M138.5 544.8h.01M136.1 551h.01M138 545.2h.01M136.4 549.3h.01M137.8 549.6h.01M125.2 539.9h.01M129.6 541.3h.01M128.4 541.8h.01M124.4 539.2h.01M125.2 535.8h.01M128.8 542h.01M129.7 538.3h.01M129.4 542.1h.01M127.6 538.5h.01M127 537.9h.01M127.1 537.8h.01M129.4 538.3h.01M127.6 537.8h.01M128.8 538.5h.01M128.6 542.8h.01M129.4 543.6h.01M125 538.1h.01M129.8 542.8h.01M132 543.3h.01M126.6 541.1h.01M134.6 545.2h.01M128.5 541.1h.01M128.8 538.4h.01M128 539.4h.01M125.3 539.9h.01M125 537.6h.01M122 542.7h.01M123.7 539.3h.01M119.1 541.8h.01M126.8 538.7h.01M126 537.9h.01M124.7 542.4h.01M124 536.6h.01M124.6 538.7h.01M121.3 539.4h.01M122.5 541.5h.01M122.7 538.4h.01M128.1 537h.01M124 540h.01M120 541.7h.01M123.8 537.3h.01M122.6 539.2h.01M124.8 540.5h.01M122.4 539.7h.01M124.4 539.8h.01M154.7 542.5h.01M153.6 543.1h.01M152.1 540.7h.01M155.9 545h.01M155.2 544h.01M154.7 542.9h.01M154.5 542.1h.01M151.7 543.1h.01M155.3 540.6h.01M157.4 543.4h.01M153.8 540.9h.01M157.8 546.2h.01M151.5 540.9h.01M154.7 542.4h.01M151.6 540.3h.01M155 539.3h.01M154.8 544.6h.01M157 545h.01M156.6 542.9h.01M153.2 542.9h.01M150 541.9h.01M156.9 544.4h.01M157.5 545h.01M138.8 548.4h.01M139.2 544.4h.01M138.3 547.9h.01M140.7 546.7h.01M140.2 547.7h.01M138.2 545.6h.01M139.8 546h.01M137.7 545h.01M137.5 547.5h.01M139.5 545.8h.01M139.3 550.3h.01M139.2 549h.01M138.2 549.1h.01M137.8 543.4h.01M139.8 547.5h.01M137.8 542.6h.01M138.8 547.5h.01M140.5 543.3h.01M138.1 544.7h.01M140 545.9h.01M139 548.2h.01M146.1 543.3h.01M146.6 541.9h.01M145.2 541.4h.01M147.3 542.4h.01M147.8 545.3h.01M144.7 540.5h.01M145.8 541.9h.01M145.2 542.9h.01M148.5 544.1h.01M144.5 538.1h.01M143.3 538.4h.01M143.7 541.2h.01M143.9 539.6h.01M144 541.4h.01M144.7 540.8h.01M143.8 540.6h.01M145.4 539.7h.01M146.8 540.5h.01M143.5 539.9h.01M146.6 541.3h.01M144.6 541h.01M154.4 539.6h.01M157.9 543.3h.01M155.3 542.8h.01M156 539.8h.01M155.3 542.9h.01M156 538.6h.01M155.7 541.5h.01M151.9 539.6h.01M151.7 542h.01M158.4 540.1h.01M151.3 541.1h.01M153.8 540.3h.01M154.3 539.5h.01M155.7 541.9h.01M152.3 540.8h.01M155.6 542h.01M155.7 542.8h.01M146.1 552.7h.01M149.4 549.6h.01M147 550.2h.01M147.7 551.5h.01M149.3 552.3h.01M146.2 551.8h.01M147.2 548.3h.01M147.8 549.1h.01M148.7 551h.01M145.5 549.8h.01M147.8 547.5h.01M145.4 545.8h.01M145.3 545.4h.01M150.2 548.4h.01M146.7 548.7h.01M145.9 549.2h.01M149.2 550.4h.01M147.3 549.4h.01M148.2 548.8h.01M143.8 546.9h.01M151.2 554.2h.01M148.8 548.6h.01M142.9 545.9h.01M146.8 548.4h.01M146 546.8h.01M149.7 549.9h.01M146.8 550.6h.01M150.4 549.8h.01M147.8 547.4h.01M150.2 550.9h.01M149.6 552.2h.01M144.1 550.4h.01M143.8 549.1h.01M144.2 550.4h.01M146.2 547.2h.01M142.8 555.9h.01M145 552.2h.01M143.6 551.5h.01M145.5 551.9h.01M143.8 550.2h.01M145 551h.01M143.7 550.3h.01M141.9 551.4h.01M144.1 552.9h.01M151 532.9h.01M152.5 533h.01M153.1 533.9h.01M153.5 534.2h.01M148.5 533.9h.01M152.6 532.2h.01M151 536.2h.01M149 538.2h.01M153.2 532h.01M150.2 535.2h.01M150.7 534.4h.01M150.7 537h.01M150.7 538.2h.01M148.6 536.5h.01M151.2 536.2h.01M149.8 536.1h.01M150.3 533.7h.01M155 533.7h.01M146.4 547.5h.01M144.7 545.1h.01M142.7 544.1h.01M146.9 549.2h.01M140.2 541.4h.01M143.7 549.5h.01M144.2 544.5h.01M144.9 545.7h.01M141.9 548h.01M142.8 548.4h.01M144.6 546.2h.01M143.4 548.7h.01M147.7 548.6h.01M145.4 555h.01M145.3 553.9h.01M145.1 551.6h.01M138.9 553.7h.01M143.4 552.4h.01M146.9 553.6h.01M146 553.1h.01M144.3 552.8h.01M141.2 556.1h.01M144.3 550.2h.01M139.3 558.2h.01M144.4 551.3h.01M145.8 552.6h.01M140.1 554.4h.01M143.5 552.8h.01M148.6 542.7h.01M150.1 544.4h.01M148.5 539.9h.01M148.3 540.5h.01M149.9 536.3h.01M148.6 544.4h.01M149.4 542.1h.01M150.5 540.4h.01M148.7 542.4h.01M150.2 540.8h.01M148 542.4h.01M146 537.7h.01M146.2 539.2h.01M146.4 539.1h.01M146.8 536.1h.01M150.8 537.1h.01M147.1 537.2h.01M146.5 537.3h.01M152.5 540.6h.01M144.2 539.6h.01M147.4 539.5h.01M146.1 537.8h.01M147.8 537h.01M149 537.2h.01M148.9 542.4h.01M151.2 538.4h.01M146.9 539h.01M148.2 540.9h.01M149.8 539.3h.01M148 538.4h.01M146.9 538.1h.01M146.4 537.5h.01M150.6 539.6h.01M146.7 537.2h.01M144.6 539.3h.01M147.9 538.6h.01M148.8 539h.01M150.4 539.2h.01M147 537.5h.01M144.7 539.2h.01M149.8 537.8h.01M153.2 537.8h.01M144.9 537.8h.01M147.2 540.2h.01M148 549.2h.01M146.5 546h.01M149.2 549.1h.01M143.7 546.2h.01M148.9 549.5h.01M150.7 548.6h.01M148.8 547.8h.01M149.1 550.2h.01M148 550.3h.01M149.9 551.1h.01M142.6 547.8h.01M149.7 547.4h.01M153.4 551.7h.01M148.2 546.2h.01M148.5 546.2h.01M149.6 550.6h.01M149.1 550.7h.01M150.4 547.9h.01M150.7 549.1h.01M145 546.3h.01M149.3 552.3h.01M153.9 548.4h.01M150.9 550.3h.01M151 549.4h.01M145.3 546.3h.01M149.6 549.5h.01M148.3 550.2h.01M148.5 547.3h.01M150.2 548.1h.01M146.6 546.5h.01M148.2 552.3h.01M147.9 549.1h.01M147.1 549.3h.01M146.5 549.5h.01M147.8 548.1h.01M149.5 552.1h.01M146.4 550.5h.01M149.6 548.4h.01M156.8 547.2h.01M151.6 540.4h.01M155.3 549.4h.01M156.6 548.2h.01M155.4 546.3h.01M154.4 548h.01M156.7 549.2h.01M154.4 550.6h.01M158.1 550.5h.01M153.7 546.5h.01M155.1 546.8h.01M157.7 546.8h.01M155.9 546.6h.01M153.7 550.1h.01M157.3 549.6h.01M158.3 551.2h.01M155.9 550.3h.01M156.9 545.2h.01M154.1 547.5h.01M153.5 547.3h.01M155.4 549.4h.01M156.3 547.9h.01M155.1 547.3h.01M156.3 548.9h.01M157.7 549.3h.01M153.1 545.4h.01M156.3 550.4h.01M159.9 550.4h.01M155 549.7h.01M155 547.5h.01M154.2 546.7h.01M155.3 550h.01M155.4 547.8h.01M157.3 550.1h.01M175.3 549.3h.01M170.5 548.7h.01M170.2 549.6h.01M171.5 549.7h.01M173.4 552.8h.01M168.1 551.6h.01M167.8 548.9h.01M174.5 552h.01M169.4 548.9h.01M171.5 553.5h.01M175.6 553.2h.01M175.6 552.1h.01M173.2 551.4h.01M171.2 549.8h.01M170.6 550h.01M171.4 550.5h.01M173.2 551.1h.01M173.9 548.3h.01M171.2 554.4h.01M167.6 550.3h.01M177 548.8h.01M170.5 549.9h.01M166.5 549.6h.01M172.4 550.1h.01M172.9 548.8h.01M171.3 550.4h.01M174.7 548.6h.01M172.2 547.1h.01M170.1 549.3h.01M168.6 550.8h.01M172.2 551.9h.01M171.1 549.4h.01M174.7 550.5h.01M172.2 550.3h.01M167.5 549h.01M170.6 549.6h.01M171.6 548.6h.01M171.2 551.9h.01M172.5 550.4h.01M171.3 550.7h.01M170.5 550.1h.01M147.2 538.7h.01M146.6 541.2h.01M146.8 544.8h.01M148.3 537h.01M148.7 534.6h.01M148.8 541.5h.01M150.4 542.2h.01M148.3 540.1h.01M147.5 540.4h.01M146.2 536h.01M148.5 537.2h.01M148 539.6h.01M148.3 539.1h.01M149.9 540.6h.01M146.1 531.9h.01M146.8 539.7h.01M147.7 540.2h.01M148 536.5h.01M146.5 542.4h.01M149.1 538.3h.01M147.5 538.8h.01M148.5 539.1h.01M146.5 539.8h.01M147.6 535.5h.01M151.2 540.4h.01M146.1 539.6h.01M159.8 551.3h.01M158.8 552.9h.01M159.1 555.6h.01M161.8 554h.01M159.2 550.7h.01M155.9 550.5h.01M160.2 551.7h.01M162.3 551.1h.01M161.7 552.5h.01M164 551.7h.01M161.7 554.1h.01M164.2 550.2h.01M165.1 553.4h.01M161 553h.01M162.1 551.5h.01M157.8 558.3h.01M159 558h.01M157 560.2h.01M152.2 558.2h.01M154.2 559.8h.01M158.5 550.3h.01M158.1 553.2h.01M157.8 553h.01M158.5 551.6h.01M159.1 554h.01M159.4 550.6h.01M158.5 551.5h.01M161.2 550.8h.01M157.6 554.1h.01M159.8 549.4h.01M158.5 557.6h.01M162.2 549.2h.01M160 552.6h.01M163.4 545.4h.01M156.9 554.6h.01M160.3 549.5h.01M158.2 553.5h.01M159.7 551.9h.01M160.9 550.1h.01M158.1 553h.01M158.7 553.9h.01M160.1 550h.01M160.7 547.5h.01M165.1 546.3h.01M164.3 545.9h.01M160.7 548.5h.01M160.6 544h.01M165.3 548.7h.01M162.1 548.4h.01M161.9 547.5h.01M162.5 548.5h.01M164.1 548.5h.01M163.8 549.1h.01M162.3 550.9h.01M162.8 544.7h.01M163.7 545.9h.01M163.2 550.3h.01M163.9 546.7h.01M164.2 543.9h.01M163.8 550.4h.01M164.8 548h.01M163.8 549h.01M162.9 546.8h.01M164.3 544.7h.01M160.8 551.5h.01M163.5 545h.01M161.8 549.7h.01M164.9 547.5h.01M164.1 546.6h.01M164 548.6h.01M166.4 547.4h.01M164.6 549.5h.01M162.9 545.3h.01M165 546.8h.01M163.2 547.6h.01M162.3 547.3h.01M163.5 546h.01M160.7 544.1h.01M165.4 550.5h.01M165.9 545h.01M162.6 544.6h.01M163.2 543.7h.01M161.8 550h.01M161.6 548.1h.01M164.9 546.5h.01M162.7 547.8h.01M163.2 548.7h.01M152.3 544.9h.01M152.7 548.5h.01M156.6 544.5h.01M154.9 548.5h.01M150.9 546.2h.01M154.3 549.1h.01M157.6 545.5h.01M158.1 543.6h.01M157.1 543.4h.01M154.9 547.3h.01M154.8 542.7h.01M155.6 544.1h.01M153.4 546.6h.01M156.6 543.4h.01M156.8 545.8h.01M158.9 545.6h.01M157.6 546.1h.01M153.2 544h.01M152.3 546.2h.01M155.8 544.1h.01M156.9 546.5h.01M152.7 547.3h.01M154.1 548.9h.01M155.4 544.2h.01M157.5 543.2h.01M151.8 545.7h.01M154.5 547.1h.01M152.8 546.5h.01M155.3 543.5h.01M151.5 547.4h.01M156.9 543.9h.01M154.4 544.3h.01M157.6 547h.01M154.8 544.7h.01M154.8 545.6h.01M156.7 544.9h.01M160.3 542h.01M158.1 539.6h.01M158.9 543.4h.01M160.1 541.7h.01M157.2 541.9h.01M156.4 542.4h.01M160.6 545.5h.01M154.6 540.9h.01M157.2 537.3h.01M158.1 543.3h.01M159.5 541.4h.01M156.5 540h.01M162.7 543.6h.01M158.1 546h.01M157.2 541.9h.01M159.5 541.1h.01M158.8 543h.01M160.3 541.4h.01M158.5 542.6h.01M157.9 541.8h.01M157 545.1h.01M167.3 551.9h.01M158.9 553.5h.01M158.6 552.9h.01M162.9 552.6h.01M161.9 553.7h.01M161.3 552.9h.01M162.3 550.7h.01M166.5 551.7h.01M160.4 549.7h.01M161.1 553.9h.01M159.8 554.7h.01M161.8 553.4h.01M161.8 552.5h.01M168.2 555.1h.01M170.8 556.1h.01M169.8 552.5h.01M171 552.7h.01M168.5 554.3h.01M166.6 557.4h.01M166.5 551.9h.01M168.4 555.1h.01M168 554.1h.01M165.9 553.8h.01M164.7 553.4h.01M166.1 552.7h.01M168 556h.01M167.7 552.8h.01M167.7 554.9h.01M164.4 557.4h.01M171.9 555.9h.01M168.3 553h.01M168.4 554.9h.01M168.7 557.5h.01M168.2 554.6h.01M168 552.2h.01M168.3 556.3h.01M169.2 555.1h.01M164.3 561.1h.01M167 556.6h.01M168.5 552.3h.01M167.1 555.7h.01M167.5 553.5h.01M166.7 555.3h.01M169 554.4h.01M170.6 554.2h.01M167.7 554.2h.01M165.7 554h.01M164.2 552.4h.01M163.4 552.8h.01M161.5 556.1h.01M160.8 555.6h.01M165.1 553.3h.01M160.8 556.2h.01M162.3 553.2h.01M166 552.3h.01M160.7 556.9h.01M164.9 556.9h.01M163.7 553.9h.01M163.9 554.3h.01M158.7 550.3h.01M159.4 545.5h.01M161.7 542.4h.01M161 544.7h.01M161.5 549.8h.01M161.2 548h.01M160.1 546h.01M161.1 549h.01M162.4 545.2h.01M160.3 544.7h.01M160.7 548.9h.01M161.9 546.1h.01M160 542.1h.01M160.5 549h.01M159.2 549.8h.01M158.3 549h.01M160.1 547.4h.01M159.3 552.9h.01M161.4 543.7h.01M159.8 546.4h.01M160.6 547.5h.01M158.9 549.6h.01M150.3 530.2h.01M152.9 534.4h.01M152.7 529.1h.01M151.2 535.7h.01M151.5 530h.01M149.4 531.2h.01M149.3 532.4h.01M152.3 536h.01M151.3 536.2h.01M150.1 535.5h.01M149.6 533h.01M150.8 530.7h.01M149.1 531.3h.01M149.8 534.4h.01M149.6 536.2h.01M151.4 530.5h.01M151.3 532.7h.01M147.5 533.2h.01M148.7 530.4h.01M151.6 530.8h.01M150.7 533.3h.01M148.3 536.1h.01M149.5 535h.01M148.4 536.5h.01M146.4 531.8h.01M148.3 534h.01M147.4 531.6h.01M149 530.3h.01M148.9 538.1h.01M148.1 531.2h.01M145.5 531h.01M148.1 534.2h.01M148.4 538h.01M147.2 532h.01M150.4 540.5h.01M148.2 536.2h.01M147.2 534.8h.01M150.2 538.7h.01M149.1 540.5h.01M149.8 537.2h.01M148.7 537.2h.01M149.3 537.1h.01M148.6 539.6h.01M147.2 531.4h.01M148.3 534.2h.01M146.2 530.8h.01M149.2 534.5h.01M147.6 535.4h.01M149 532.3h.01M148.6 533.7h.01M145.5 530.1h.01M151.4 539h.01M139.2 538.8h.01M138.5 538h.01M137.9 537.3h.01M139.7 536.8h.01M135.5 539.5h.01M139.1 536.9h.01M139.4 537.8h.01M137.8 535.1h.01M139.9 537.5h.01M136.8 537.8h.01M137.7 538.2h.01M139.6 539.8h.01M134.6 540h.01M136.6 538.9h.01M141.6 533.9h.01M138.6 539.4h.01M138.7 537.7h.01M137.9 539.9h.01M137.9 538.5h.01M137.2 540.1h.01M137 542.5h.01M141.3 538.2h.01M136.1 544.2h.01M137.8 540.5h.01M137.3 539.4h.01M139.5 539.4h.01M123.3 540.7h.01M123 537.9h.01M121.4 536.7h.01M123.2 535.5h.01M126.1 539.1h.01M122.6 538.2h.01M125.5 536.9h.01M122.9 537.2h.01M121.7 536.1h.01M123.7 535.7h.01M123.7 536.3h.01M124.7 538.7h.01M123.8 536.9h.01M124.4 537.6h.01M124.4 540.5h.01M123.3 537.9h.01M124.8 538h.01M124.5 542.2h.01M140.5 533.5h.01M137.9 529.3h.01M136.8 528.6h.01M134.6 531.3h.01M142.4 531.5h.01M141.2 531.6h.01M139 530.7h.01M137.9 531.4h.01M140.1 531.7h.01M138.8 531.6h.01M138.9 532.7h.01M137.4 530.1h.01M140.6 532.3h.01M136.7 528.3h.01M140.5 528.1h.01M137.4 530.5h.01M135.3 530.5h.01M138.9 531h.01M138.7 532.8h.01M140.3 528.8h.01M142.7 529h.01M143.1 526h.01M145.8 529.2h.01M143.7 530.5h.01M145.5 526.5h.01M147 529.2h.01M144.9 524.6h.01M145 529.1h.01M141.9 526.3h.01M145.1 527.7h.01M144.9 528.1h.01M144.2 532.8h.01M145.3 528.3h.01M140.9 532.5h.01M143 532h.01M141.5 529.7h.01M142.6 532.7h.01M145 533h.01M143.9 533.6h.01M141.6 532.7h.01M144.3 530.1h.01M139.7 530.8h.01M140.7 529.4h.01M143.4 532.4h.01M146.4 532.7h.01M145.9 532.2h.01M140.7 532.8h.01M143.9 532.1h.01M144 529.8h.01M145.4 531.8h.01M142 530.2h.01M144.2 530.8h.01M142.9 530.2h.01M143.1 529.5h.01M146 533.5h.01M145.4 529.3h.01M140.8 530.7h.01M141.6 531.5h.01M140 529h.01M143.9 528.8h.01M142 528.3h.01M146.4 537.2h.01M144.8 537.3h.01M147.1 537.6h.01M147 533.3h.01M145.5 534.4h.01M147.2 536.5h.01M144.1 533.9h.01M146.3 538.2h.01M147.6 535.2h.01M142.6 536.8h.01M145.2 538.6h.01M142.5 533.1h.01M145.1 536.1h.01M143 535.7h.01M146.5 536.2h.01M145.3 536h.01M145.9 535.2h.01M145.2 534h.01M146.2 538.4h.01M146.2 535.1h.01M148.5 537.7h.01M145.5 536.8h.01M143.9 534.8h.01M150.7 534.5h.01M145.6 540h.01M145.7 537.3h.01M146.7 536h.01M146.3 534.5h.01M144.3 533h.01M150.3 533.7h.01M145.1 533.3h.01M144.4 534.1h.01M143.7 533h.01M143.9 535.2h.01M146.2 536.2h.01M136.5 538.5h.01M138.4 539.6h.01M136.1 541.3h.01M137.8 537.9h.01M136.4 543.4h.01M136.9 541.6h.01M139.3 537.1h.01M140 538.9h.01M136 541.2h.01M136.6 538.2h.01M141.8 540h.01M137.8 540.9h.01M138.6 538h.01M135.1 540.8h.01M138.5 539.8h.01M138.6 538.1h.01M137.8 538.7h.01M140.7 538.4h.01M133.5 541h.01M138.2 539.4h.01M137.7 541.3h.01M137.2 539.4h.01M131.9 533.6h.01M135.5 537.8h.01M135.3 537.2h.01M132.8 539.7h.01M134.5 535.8h.01M131.5 534.3h.01M134.7 539.2h.01M131.6 535.5h.01M133.7 534.4h.01M135.1 537.6h.01M135.8 536.3h.01M135.7 538.3h.01M134 538h.01M134.1 536.8h.01M134.1 537.8h.01M132.7 535.1h.01M136.7 535h.01M133.2 536.1h.01M132.3 534.9h.01M136.2 535.1h.01M134.8 534.9h.01M135.2 538.1h.01M129 569.5h.01M127.3 568.9h.01M127.1 570.8h.01M127.3 569.7h.01M128.5 569.4h.01M126.9 570.4h.01M128.5 569.2h.01M128.3 569.5h.01M129.4 568h.01M125.1 571.8h.01M126.1 568.8h.01M125.6 569.4h.01M129.3 567.8h.01M125.8 570.1h.01M126.3 571.7h.01M127.5 569.5h.01M129.1 568.1h.01M129.2 573.5h.01M124.4 569.2h.01M126.7 569.6h.01M127.9 570.3h.01M124.3 570.8h.01M126.2 571.9h.01M127.6 569.5h.01M126.9 567.9h.01M128.3 569.2h.01M126.8 567.9h.01M128.3 570.4h.01M130.5 566.7h.01M128.9 569.4h.01M129.2 569.9h.01M129 566.8h.01M129.6 567.7h.01M124.4 571.1h.01M126.3 569.8h.01M127.6 568.6h.01M126.9 570.6h.01M127.4 569.4h.01M125.3 568.5h.01M124.9 568.9h.01M124.5 569.6h.01M125.9 567.9h.01M124.7 567.7h.01M123.2 570.7h.01M126 568.4h.01M121.9 569.6h.01M121.2 567.6h.01M124.2 570.2h.01M124.8 565.7h.01M124.6 568h.01M130.4 575.5h.01M133.7 569.1h.01M135.6 566.8h.01M131.9 568.8h.01M135.9 568.2h.01M133.9 568.8h.01M133 571.4h.01M132.2 570.8h.01M132 569.7h.01M133.6 569.3h.01M135.6 567.5h.01M131.5 575.1h.01M131.3 571.9h.01M134.4 572.6h.01M134.9 568.3h.01M130.6 574.2h.01M135.4 570.4h.01M132.5 569.9h.01M123.2 565.4h.01M121.4 563.2h.01M120.5 564.1h.01M123.2 563.8h.01M123.2 564.8h.01M123.9 563h.01M120.5 563.4h.01M121.1 563.6h.01M121.6 563.5h.01M120.7 562.6h.01M121.3 562.2h.01M121.4 564.6h.01M121.4 564.8h.01M120.9 564.1h.01M122.1 564.2h.01M119.4 565.8h.01M119 568.2h.01M124.1 562h.01M121.7 564.1h.01M123.3 564.4h.01M122.1 564.5h.01M118.7 566.3h.01M122.8 563h.01M120.4 564.4h.01M120.6 564h.01M124.1 562.8h.01M121.3 564.2h.01M121.7 564.2h.01M120.8 565.7h.01M120.7 565.4h.01M120.7 568.5h.01M118.5 568.1h.01M116.4 567.2h.01M119.6 569.8h.01M119.8 566.6h.01M118.6 567.6h.01M119.2 570.1h.01M119.3 570.2h.01M121 568.5h.01M120.4 565.9h.01M118.9 571.6h.01M119.4 570.3h.01M120 568.6h.01M122.9 567.7h.01M119.9 569.8h.01M119.2 566.4h.01M120.2 569.2h.01M118.1 569.2h.01M119.5 568.6h.01M119.9 570.5h.01M119.8 571h.01M120.5 564.7h.01M118.4 569.3h.01M123.7 568.1h.01M119.7 566.6h.01M118.4 571.4h.01M119 571.3h.01M121.7 569.8h.01M119.1 568.3h.01M116.7 568.6h.01M120.3 567.4h.01M119 571.6h.01M122.3 567.1h.01M122.5 568.6h.01M121.2 570.8h.01M121.7 566.4h.01M117.8 571.7h.01M119 569.3h.01M120.4 569.8h.01M121.4 569.3h.01M118.3 567.7h.01M119.6 570.6h.01M119.4 566.8h.01M121.2 569.1h.01M120.5 566.8h.01M119.6 570.2h.01M120.2 567.4h.01M118.7 570.6h.01M120.8 571.4h.01M118.5 570.4h.01M118.4 569.7h.01M121.8 566.4h.01M118.6 569.8h.01M118.9 571.3h.01M121 566.5h.01M119.5 568.3h.01M120.3 564.2h.01M116.4 572.8h.01M118.2 572.1h.01M119.3 568.6h.01M118.6 568.9h.01M122.8 566.5h.01M119.4 569.7h.01M120.5 568.8h.01M118.2 569.8h.01M118.2 569.2h.01M121 567.5h.01M119.8 568h.01M119 567.9h.01M118.8 572h.01M127.6 564.8h.01M128.2 568.1h.01M129.6 564.3h.01M126.6 564.3h.01M127.8 561.4h.01M127.7 568.1h.01M126.9 565.6h.01M126.9 564.7h.01M128.2 565.1h.01M126.2 566h.01M127.7 567.2h.01M127.6 566.3h.01M127.5 567.9h.01M127.6 565h.01M128.1 563h.01M128.3 564.6h.01M126 567.1h.01M127.4 566.4h.01M126.3 564.1h.01M126.7 568.4h.01M125.9 565.9h.01M128.8 565.4h.01M127.6 564.5h.01M127.5 566.7h.01M127.6 565.8h.01M127.5 563.4h.01M126.6 565.3h.01M128.4 566.5h.01M126.9 568.8h.01M126.7 567.9h.01M128.2 562.7h.01M127.5 566.8h.01M127.9 562.5h.01M126.8 567.1h.01M127 568.2h.01M127 565.5h.01M127.6 569.1h.01M127 562.5h.01M127.1 561.6h.01M128.8 567.8h.01M128.1 562.3h.01M127.3 566.1h.01M126.6 563.8h.01M128.7 568.2h.01M126.5 569.8h.01M125.8 569.1h.01M128.5 567.7h.01M127.1 567.8h.01M128.6 566.2h.01M131.5 567.9h.01M131.6 572.1h.01M133.4 570.2h.01M128 572h.01M129.6 571.2h.01M130.8 566.8h.01M131.1 572.7h.01M130.9 566.6h.01M129.9 568.9h.01M130.6 571.2h.01M130.9 571.8h.01M129.1 571.3h.01M128.7 569.9h.01M132.1 570.9h.01M128.6 568.9h.01M130.9 567.1h.01M133.6 567.6h.01M131.1 570.4h.01M132 568.2h.01M130.1 569.6h.01M131 569h.01M131.5 571h.01M132.3 571.6h.01M131.1 570h.01M132.8 569.6h.01M132.8 566.8h.01M130.7 570.9h.01M128.8 570.7h.01M131.5 569.6h.01M131.1 570.4h.01M128.2 571.1h.01M132.2 568.4h.01M132.3 567.3h.01M130.5 569.6h.01M130.2 570.1h.01M133.6 569.6h.01M133 568.6h.01M130.7 567.6h.01M130.2 568.4h.01M131.3 574.9h.01M131.7 571.1h.01M129.1 570.4h.01M132.6 567.9h.01M129.9 567.5h.01M129 570.3h.01M129.8 568.6h.01M132.4 570.5h.01M132.7 567.2h.01M130.3 572.4h.01M122.8 572.9h.01M125.9 572.1h.01M125.5 574.8h.01M124.4 573.6h.01M122.3 571.2h.01M124.6 570.2h.01M127.2 572.5h.01M130.2 572h.01M129.4 570.8h.01M125.5 572.7h.01M125.8 572.5h.01M127 572.1h.01M126.4 573.8h.01M126.4 570.7h.01M125.1 570.7h.01M127 575.2h.01M124 573h.01M122.8 573.2h.01M123.7 572.5h.01M124.9 572.3h.01M126.8 572.5h.01M123.4 574h.01M126.3 571.6h.01M124.2 573.6h.01M125.1 571h.01M126.3 573.2h.01M125.7 572.6h.01M127.2 572.5h.01M127.8 571h.01M123.6 570.5h.01M126.9 573.3h.01M125 572.4h.01M125.8 573.6h.01M123 571.1h.01M124.7 572.1h.01M129.7 576.1h.01M127.3 572.8h.01M127.8 573.1h.01M123.8 574h.01M124.5 572.9h.01M127 572.8h.01M127.3 573.3h.01M116.2 570.7h.01M116.2 570.5h.01M112.3 573.8h.01M116.8 569.8h.01M117.1 569.9h.01M116.5 568.5h.01M115.6 569.8h.01M117.9 571h.01M117.1 570.6h.01M114 571.3h.01M114.1 570.4h.01M116.2 570.7h.01M117.2 571.9h.01M114.6 569.1h.01M115.7 571.8h.01M116.3 570.5h.01M115.6 571h.01M117.7 570.3h.01M115.7 570.7h.01M113.9 572.1h.01M114.5 569.8h.01M116.5 569.3h.01M118.3 570.1h.01M116 571.5h.01M116.8 568h.01M115.8 570.7h.01M116.1 569.4h.01M113.2 571.5h.01M115.8 568.2h.01M115.9 569.9h.01M115.7 568h.01M118.6 572.5h.01M118.3 573.8h.01M114.2 568.3h.01M117.1 572h.01M114.4 568.3h.01M117.4 570.4h.01M128.5 571.9h.01M125.2 572.7h.01M127.6 573.9h.01M126.6 573.7h.01M126.7 572.9h.01M128.7 569.9h.01M126.8 576.7h.01M126.3 573.4h.01M127 575.9h.01M128.1 572.4h.01M129.2 571.8h.01M126.1 572.3h.01M127.9 574.1h.01M127.2 573.1h.01M127.5 572.7h.01M127.9 571.3h.01M127.7 574.5h.01M126.1 574.3h.01M124.3 574.7h.01M127.7 574h.01M128.2 571.7h.01M125.8 575.9h.01M122.5 578.3h.01M130.3 571.6h.01M127.5 574.5h.01M129.6 574.2h.01M126.3 574.1h.01M125.8 573.4h.01M125.4 574.1h.01M126.4 574.6h.01M127.7 573.6h.01M127.2 574h.01M126.4 573.4h.01M126.3 574h.01M125.6 575h.01M130.1 571.7h.01M127.3 575.1h.01M129.1 570.4h.01M127.3 565.7h.01M126 564.1h.01M123.1 561.3h.01M125.1 564.8h.01M123.7 561.8h.01M127.7 561.4h.01M123.5 561.7h.01M125.9 563h.01M127.6 565.3h.01M122.1 561.6h.01M122.5 560.5h.01M125.5 562.4h.01M127.4 561.6h.01M125.7 561.7h.01M125.6 560.7h.01M119.8 576.9h.01M126.4 579.1h.01M123.1 579.4h.01M122.9 578.7h.01M123.4 578.8h.01M125.4 580.4h.01M122 577.6h.01M120.6 577.9h.01M121.3 577.2h.01M124.4 578.8h.01M123.7 579.7h.01M124.1 579.4h.01M125 579.6h.01M124.4 576.9h.01M123.9 579.6h.01M125.6 580.9h.01M120.4 576.1h.01M120.7 577.5h.01M125 581.5h.01M121.3 577.5h.01M120.6 577.4h.01M125.3 580.2h.01M124.5 578.3h.01M126.4 580.7h.01M122.1 576.3h.01M123.7 577.8h.01M125.1 579.8h.01M119.5 577.7h.01M124.3 579.9h.01M123.2 580h.01M125.7 580.2h.01M125.7 577.4h.01M124 578h.01M123.1 578.6h.01M122 580.5h.01M126.8 578.6h.01M123.1 577.8h.01M123.9 578.8h.01M123.9 579.9h.01M124.8 580h.01M126.4 579.6h.01M124.9 578.3h.01M122 581h.01M121.9 577.9h.01M133.3 577.9h.01M136 576.9h.01M137.1 577h.01M134 577.8h.01M135.3 579.1h.01M133.8 576.8h.01M138.3 577.4h.01M131.8 571.9h.01M132.5 571.4h.01M133.7 568.5h.01M127.9 569h.01M129.9 566.7h.01M131.7 569.3h.01M132.3 568.6h.01M130.2 567h.01M127.6 567.5h.01M130.5 570.5h.01M131.2 569h.01M132.3 569.4h.01M133 573h.01M132.8 571.7h.01M133.2 571.2h.01M127.5 565.4h.01M129.9 569.6h.01M132.2 568.3h.01M132.6 569h.01M130.6 569h.01M129 569h.01M129.7 567.5h.01M128.9 582h.01M133.8 580.4h.01M134.7 579.8h.01M132.4 580.8h.01M130.6 579.9h.01M135.2 579.6h.01M132.6 580.7h.01M132.3 577.8h.01M130.9 580.1h.01M133.7 579.8h.01M131.1 581.8h.01M128.3 580.3h.01M130.8 579.9h.01M130.7 573.5h.01M131.9 573.6h.01M131.1 577h.01M129.1 577.4h.01M129.2 573.4h.01M130.3 575.8h.01M132 577.6h.01M133 573.4h.01M129.9 575.3h.01M130.8 573.2h.01M134.5 576h.01M134.1 574.9h.01M130.5 576.5h.01M129.9 577.2h.01M131.6 573h.01M131.1 576.3h.01M125.9 573h.01M133.8 578h.01M133.2 577.6h.01M131 575h.01M127.6 572.8h.01M129 575.4h.01M130.6 574.5h.01M132.9 576h.01M131.3 575.7h.01M134.5 575.5h.01M129.1 576.1h.01M133.7 574.8h.01M126.6 575.7h.01M131.5 574.1h.01M131 575.2h.01M125.1 575.8h.01M127.6 574.7h.01M129.8 574.7h.01M127.5 576.9h.01M127.7 576.1h.01M129.5 577.9h.01M126.2 575.5h.01M128.1 576.3h.01M127 575.8h.01M128.8 575.1h.01M128.2 576.2h.01M126.4 575.8h.01M127.5 574.3h.01M130.2 574.4h.01M128 574.5h.01M126.7 574.2h.01M129.8 575.7h.01M126.2 573.4h.01M133 572.6h.01M134.1 573.1h.01M132.5 571.4h.01M133.3 573.4h.01M114.6 553.5h.01M112.8 556.4h.01M113.7 554.7h.01M113.8 554.7h.01M113 554h.01M109.7 554.4h.01M117.4 559.4h.01M112.5 552.7h.01M112.4 551.6h.01M111 550.4h.01M114.5 559.6h.01M116.8 559.5h.01M112 551.9h.01M114.4 555.9h.01M113.2 557h.01M110 566.6h.01M110.4 570.4h.01M112.3 568.7h.01M111.1 567.7h.01M115.7 569.1h.01M112.5 569.3h.01M112.2 570h.01M108.1 570h.01M115 568.9h.01M111.1 566.4h.01M113.5 565.5h.01M120.7 553.7h.01M123.4 553.9h.01M123.9 550.8h.01M120.5 554.7h.01M118.6 552.6h.01M124.5 553.8h.01M123.1 553.7h.01M119.6 554.3h.01M121.7 554.2h.01M123 556.1h.01M120.7 552.4h.01M122.6 552.4h.01M122.8 552.7h.01M122.2 552.6h.01M120.7 552.8h.01M120 553.8h.01M117.1 551.4h.01M123.3 555.5h.01M121.8 553.7h.01M116.4 556.5h.01M123.4 551.6h.01M118.2 554.3h.01M119.6 551.3h.01M116.6 553.5h.01M118.6 554.5h.01M118.2 550.5h.01M117.8 554.7h.01M121.8 551.7h.01M122.1 553.6h.01M116.1 555.7h.01M118.6 555.3h.01M125.1 554h.01M119.6 552.7h.01M123.8 561.4h.01M119.8 564.1h.01M122.2 562.4h.01M118.4 556.9h.01M123.8 561.8h.01M119.9 564.9h.01M123.2 561.2h.01M121.9 561.9h.01M119.5 562h.01M124.3 558.2h.01M124.3 557.6h.01M125 561.1h.01M124.8 561.8h.01M122.2 558.8h.01M120.4 559.6h.01M127.2 558.7h.01M121 560.9h.01M122.7 559.6h.01M122.4 560.6h.01M117.8 560.7h.01M126 560.2h.01M121.8 563.4h.01M119.6 552.7h.01M117.6 553.7h.01M118.2 548.9h.01M117.8 552.2h.01M116.4 555.4h.01M121.2 551.9h.01M115.9 551.9h.01M115.6 554.8h.01M117.8 556.7h.01M117.9 554.8h.01M117.8 551h.01M116.8 553.4h.01M112.1 556.5h.01M116.4 554.2h.01M104.1 541.8h.01M103.1 542.4h.01M104.5 543.2h.01M103.6 545.6h.01M104.4 544.7h.01M102.1 544.1h.01M104.6 544.2h.01M102.6 546.3h.01M103.9 542.2h.01M100.1 544.5h.01M102.9 544.8h.01M101.8 545.7h.01M102.4 542.9h.01M97.6 541.7h.01M104 544.1h.01M102.2 546.6h.01M106.8 544.2h.01M103.7 545h.01M105.9 541h.01M101.1 545.3h.01M104.1 544.3h.01M98.9 543.1h.01M100.2 543.7h.01M99.6 543.4h.01M100.2 542.7h.01M98.3 537.3h.01M102.7 545.2h.01M96.7 536.1h.01M95.7 541.6h.01M101.2 548h.01M101.1 541.9h.01M98.5 539.9h.01M100.3 544.5h.01M101.3 545.6h.01M98.7 542.7h.01M102.3 547.9h.01M99 547h.01M96.1 533.5h.01M97.8 541.1h.01M99.2 540.7h.01M98.8 544.2h.01M85.8 532.5h.01M82.9 530.5h.01M89.5 530.7h.01M83.4 530.3h.01M87 529.8h.01M86.9 532.3h.01M86.8 532.4h.01M88 530.9h.01M86.3 524.3h.01M86.7 529.3h.01M87 530.3h.01M84.8 528.6h.01M91.9 523.5h.01M90.9 524.2h.01M87.2 530.3h.01M92 528.2h.01M90.9 530.3h.01M93.2 530.9h.01M89.4 530.8h.01M93.2 524.9h.01M87.9 530.6h.01M90.2 529.1h.01M90 532.8h.01M89.7 524.8h.01M90.1 524.8h.01M97 529.5h.01M95.5 534.3h.01M91.1 524.3h.01M91.1 528.1h.01M96.1 530.3h.01M94.7 530h.01M95.1 527.3h.01M95.2 529.7h.01M91.3 525.7h.01M93.3 533.8h.01M94.7 532.8h.01M89.7 525.7h.01M94.2 529.4h.01M92.6 528.3h.01M95.7 529.5h.01M84.3 536.7h.01M83.9 538.7h.01M89.6 535.6h.01M86.5 539.3h.01M87.9 539.8h.01M89.4 539.6h.01M87.4 538.5h.01M88.9 539.3h.01M89.6 533.6h.01M87.2 538.1h.01M86.6 536.7h.01M86.8 538.2h.01M83.3 539.6h.01M112.2 523.7h.01M111.3 526.6h.01M111.7 527.3h.01M111.4 524.3h.01M113.6 523.7h.01M113.3 522.1h.01M106.8 523.2h.01M109.4 524.7h.01M110.4 526.2h.01M113 526.5h.01M111.4 526.7h.01M111 524.1h.01M111.3 523.3h.01M106.3 528.8h.01M110.2 523.4h.01M111.6 530.1h.01M112.2 524.6h.01M112.8 522.5h.01M101.2 465.8h.01M119.5 454.5h.01M96.5 468.1h.01M92.6 470.7h.01M113.3 457.9h.01M116.2 456h.01M121.6 453.9h.01M136.9 445.1h.01M114.9 457.4h.01M97.3 467.3h.01M98.2 467h.01M92.5 470.7h.01M91.8 470.1h.01M120.9 452.6h.01M132.7 447.1h.01M94.8 468.5h.01M133.5 446.3h.01M131.1 447.3h.01M101.5 464.8h.01M108.7 461.3h.01M118.6 454.6h.01M114.2 457.4h.01M123.2 452.2h.01M118.7 455.2h.01M94.1 469.4h.01M134.4 446.2h.01M94 469.8h.01M120.8 453.9h.01M97.6 467.5h.01M133.4 445.9h.01M117 456.3h.01M97 467.5h.01M93.4 469.4h.01M107.1 461.3h.01M136.6 444.4h.01M117.9 455.6h.01M116 456.7h.01M120.1 454.3h.01M135.6 445.6h.01M130 448.5h.01M105.6 462.7h.01M123.4 452.1h.01M127.8 450.5h.01M126.6 451h.01M125.2 452.2h.01M123.1 453h.01M136.4 444.6h.01M129.5 448.9h.01M124.2 451.8h.01M89.3 471.9h.01M135.4 445.2h.01M120.8 453.8h.01M103.1 464.3h.01M133.2 447.1h.01M107.1 461.7h.01M133.7 446.2h.01M107.1 461.7h.01M127.2 450.9h.01M127.1 450.3h.01M99 466.4h.01M126.7 450.8h.01M98.5 467.5h.01M127.3 449.4h.01M123.6 452h.01M121 453.4h.01M135.5 445.6h.01M96 468.8h.01M127.4 450.2h.01M94.7 469.6h.01M134.3 446.5h.01M131.1 447.9h.01M120 454.6h.01M96.3 468.7h.01M119 455.1h.01M126.6 450.8h.01M135 445.5h.01M95.1 468.7h.01M134.6 445.7h.01M109.4 460.4h.01M95.2 468.5h.01M126.8 450.5h.01M109.3 460.3h.01M113.3 458h.01M110.1 459.7h.01M112.1 458.9h.01M133.1 447h.01M136.3 444.8h.01M120.5 454.6h.01M132.3 447.5h.01M120.8 453.4h.01M133.3 447.2h.01M92.6 469.8h.01M113.4 458.2h.01M89.6 472.2h.01M112 459.2h.01M107.4 461.9h.01M134.4 446.2h.01M107.9 461.7h.01M123.6 451.7h.01M120.6 454.4h.01M94.7 469.5h.01M105.8 462.5h.01M117.5 455.8h.01M101.7 464.6h.01M130.9 447.8h.01M98.7 466.9h.01M118.6 455.2h.01M131.5 448.5h.01M128.4 449.7h.01M97.9 467h.01M56.6 491.5h.01M56.9 491.1h.01M83.6 475.5h.01M65.3 486.1h.01M57.4 491.1h.01M70.4 483.1h.01M60.4 489.3h.01M71.8 481.9h.01M60.7 489.2h.01M68.4 484.1h.01M84.1 474.5h.01M85.9 474.2h.01M72 482.1h.01M71.8 481.9h.01M199.5 512.3h.01M161.1 444.7h.01M164.3 451.2h.01M170.4 461.2h.01M184.9 487.5h.01M203.8 520h.01M207.2 525.7h.01M174.8 470.8h.01M165.7 454.3h.01M190.8 497.2h.01M155.7 436.3h.01M203.2 519.2h.01M209.6 530.9h.01M177.6 474.1h.01M202.2 517.2h.01M174.1 468.8h.01M204 520.3h.01M155.9 436.3h.01M160.4 445.7h.01M186.7 490h.01M175.6 470.3h.01M155.9 437h.01M185.4 488.8h.01M198.3 510.9h.01M194.6 504h.01M184 485.6h.01M169.7 461.2h.01M182.6 483.3h.01M174 468.7h.01M183.9 485.5h.01M171.5 463.4h.01M173.8 468.4h.01M183.8 485.2h.01M157.5 439.8h.01M175.3 470.1h.01M164.2 451.1h.01M178.6 477.4h.01M204.6 522.2h.01M178.9 477h.01M204.6 522.6h.01M188.4 493h.01M184.8 487.9h.01M202 516.7h.01M193.1 502.3h.01M193.8 502.4h.01M168.2 458.7h.01M190.1 496.9h.01M196.1 507.4h.01M125.2 585.6h.01M122.1 586.9h.01M127.1 585.2h.01M121.3 588.1h.01M128.2 583.5h.01M129.4 583.5h.01M117.5 590h.01M125.6 585.2h.01M132.9 580.7h.01M133.3 580.9h.01M112.9 592.7h.01M112.3 593.3h.01M121.7 588.1h.01M132.1 581.7h.01M124.1 586.6h.01M131.5 581.8h.01M119.6 588.8h.01M126.7 585.3h.01M128 583.6h.01M116.2 590.8h.01M126.1 585.5h.01M130.8 582h.01M131.2 582.9h.01M126.5 585.6h.01M120.6 588.8h.01M134.9 580.5h.01M117.6 590.6h.01M124.4 586.3h.01M128.9 583.5h.01M117.8 590.2h.01M140.7 576.6h.01M155.7 568.5h.01M192.8 545.2h.01M177.4 555.2h.01M154.7 568h.01M163.6 562.4h.01M143 574.9h.01M198.9 541.7h.01M166 561.3h.01M156.8 567.1h.01M197.2 542.3h.01M156 567.2h.01M166.1 560.8h.01M204 538.3h.01M194.2 544.8h.01M154.8 568.9h.01M146.3 572.9h.01M160.8 563.8h.01M157 567.3h.01M166.7 561.5h.01M155.7 567.7h.01M205.1 538.3h.01M156.5 566.9h.01M170.7 557.9h.01M156 566.6h.01M178.9 553.8h.01M175.9 555h.01M142.5 575.2h.01M168.1 559.4h.01M158.8 564.9h.01M190.2 546.4h.01M199.9 540.9h.01M206.4 537.4h.01M207.4 536.4h.01M72.5 523.6h.01M112.8 592.7h.01M112.5 592.6h.01M99.5 570.1h.01M75.4 527.2h.01M87.5 549.6h.01M92.2 555h.01M112.5 592.6h.01M83.8 542.8h.01M80.6 537.1h.01M110.5 589.5h.01M106.6 582.9h.01M76.7 530.3h.01M82.7 540.3h.01M111.6 592.7h.01M87.1 548.7h.01M95.6 563.1h.01M73.7 524.5h.01M109.1 586.1h.01M106.3 583.2h.01M95.2 563.2h.01M110.2 588.1h.01M79.2 533.3h.01M107.8 586.5h.01M98.7 568.2h.01M86.5 545.4h.01M93.1 557.4h.01M74.7 525.9h.01M110.1 589.2h.01M82.8 540.9h.01M79.6 532.6h.01M91.8 556.8h.01M112.3 592.4h.01M109.9 587.8h.01M92.8 557.2h.01M111 590.8h.01M98.9 569.1h.01M102.5 575.1h.01M103.3 576.8h.01M106.4 582h.01M102.3 574.5h.01M90.6 555.1h.01M86.6 546.7h.01M106.4 583.6h.01M80 536.2h.01M73.3 522.1h.01M98.8 568.6h.01M79.4 534.3h.01M75.1 527h.01M105.1 578.7h.01M81.9 539h.01M101.8 574.2h.01M112.3 592.3h.01M76.8 530.3h.01M109.1 587.8h.01M77 530.6h.01M95.5 562.7h.01M99.6 571h.01M107 583.1h.01M101.2 573h.01M91.6 556.3h.01M89.6 552.6h.01M60.7 501.3h.01M67.2 512.5h.01M56.9 494.8h.01M66.4 510.6h.01M59 497.7h.01M63.5 505.5h.01M70.2 517.6h.01M68.2 515.3h.01M70.4 518.8h.01M59.3 498.9h.01M64.9 508.9h.01M63.8 505.9h.01M154.8 438.5h.01M155.6 438.5h.01M155 440.2h.01M154.8 436.8h.01M152.6 436.2h.01M154.8 437.7h.01M154.3 435.6h.01M153.7 437.8h.01M154.9 437.3h.01M153.7 436.5h.01M208.1 535.1h.01M208.5 536.1h.01M205 536.8h.01M205 537h.01M202.5 538h.01M202.9 538.4h.01M203.9 538.7h.01M204.9 536.7h.01M209.7 534.2h.01M203.8 537.7h.01M204.9 537h.01M204.6 538.3h.01M206.1 537h.01M207.6 534.8h.01M209.3 534.4h.01M204.1 537.2h.01M205.3 536.9h.01M201.4 539.1h.01" stroke="#000" stroke-width="1.0" stroke-linecap="square" fill="none"/>
<rect x="110.6" y="519.6" width="12.6" height="6.6" fill="#fff" opacity="0.9"/>
<rect x="110" y="530" width="6" height="5" fill="#fff" opacity="0.4"/>
<path d="M106.5 533.7h.01M90 519.8h.01M96.3 521.3h.01M91.9 532.6h.01M96.9 533.4h.01M85.3 523h.01M85.8 533.8h.01M85.6 531.9h.01M100.8 526.3h.01M100.4 519.6h.01M96 524.2h.01M84.2 535.1h.01M91.4 532.7h.01M82.5 521.2h.01M104.9 534.5h.01M93.8 530h.01M80.1 533.4h.01M95.9 523.8h.01M92 521.7h.01M105.9 534.9h.01M78 530.6h.01M106.6 533.3h.01M101.4 531.3h.01M102.4 520.3h.01M83.6 525.2h.01M78.1 519.6h.01M95.4 525.9h.01M85.7 520.7h.01M86.2 521.6h.01M84.7 532.4h.01M105.7 521.6h.01M94.6 522.7h.01M96.9 520.5h.01M86.4 535.6h.01M87.6 532.7h.01M97.3 523.8h.01M101.7 535.2h.01M93.8 522.6h.01M94.8 522.4h.01M89.7 530.2h.01M89.8 532.2h.01M94 530.8h.01M78.5 521h.01M102.2 525h.01M91.6 521h.01M98.7 522.3h.01M96.2 535.2h.01M98.7 534.9h.01M77.1 522.6h.01M84.2 525h.01M89.4 535.2h.01M88 533.1h.01M86.3 530.6h.01M92.2 523.2h.01M103.4 521.2h.01M102.1 532.4h.01M100.3 525.8h.01M82.3 520h.01M80 525.3h.01M97 532.6h.01M83.5 524.8h.01M85.1 531.1h.01M101.7 523.3h.01M78.6 525.8h.01M83.6 532.8h.01M107.2 533.3h.01M80.1 521.6h.01M84.8 535.7h.01M86.8 524.7h.01M108.5 521.3h.01M103.6 523.7h.01M77.4 534.1h.01M101.1 531.7h.01M89.9 524.2h.01M76.9 523.4h.01M83.2 522.9h.01M107.1 520.2h.01M109.7 533.9h.01M77.2 524.2h.01M91 533.4h.01M106.4 521.9h.01M109.2 536.3h.01M85.1 526.3h.01M85.2 531.6h.01M100.7 523.9h.01M104.9 521.8h.01M94.1 535.6h.01M95.4 519.9h.01M80.4 531.2h.01M79.1 522.3h.01M79 522.5h.01M86.3 523.3h.01M104 523.2h.01M83.3 525.8h.01M95.5 519.6h.01M85.4 521.3h.01M105.9 535.2h.01M103.9 531h.01M94.2 529.3h.01M83.4 532.1h.01M103 534.5h.01M82.6 532.6h.01M99.9 524.5h.01M82.5 526.3h.01M102.8 533h.01M107.6 530.8h.01M105 533.5h.01M97.8 524.9h.01M77.5 532.6h.01M85.3 535.7h.01M79.9 519.8h.01M95 531h.01M78 526.4h.01M102.1 530.8h.01M90.1 533.7h.01M94.4 526h.01M79.4 535.3h.01M103.7 525.6h.01M98.3 526.8h.01M106 524.9h.01M91.1 520.7h.01M82.2 520.3h.01M103.6 533h.01M91.5 533.5h.01M84.9 532.1h.01M109 521.1h.01M108.9 524.6h.01M85.4 520.5h.01M103.7 523.4h.01M91.3 533.3h.01M103.4 534h.01M101.7 525.2h.01M97.3 533.4h.01M86.4 532.2h.01M104.5 524.8h.01M104.9 529.1h.01M90.6 536.2h.01M107.7 526.3h.01M100 520.1h.01M108.5 526h.01M92.2 520.3h.01M98.5 521.2h.01M79.9 534.8h.01M96 534.4h.01M106.2 535.2h.01M97.2 534.3h.01M109.6 533.2h.01M96.6 520.7h.01M81.4 534.7h.01M109.1 524h.01M108 530.9h.01M83.7 531.7h.01M85.2 522.9h.01M81.4 525.6h.01M106.7 524.9h.01M92.7 521.2h.01M77.5 531.7h.01M83.3 532.8h.01M92.9 522.4h.01M102.9 520.6h.01M90.2 524.3h.01M107.1 522.7h.01M79.3 521.9h.01M92.8 534.5h.01M92.3 525.1h.01M95.2 521.8h.01M85.7 535.5h.01M91.8 520.7h.01M110 535h.01M95 535.6h.01M106.9 532.5h.01M105.8 536.9h.01M104.3 529.7h.01M94.9 518.6h.01M80.1 533.2h.01M90.2 524.4h.01M80.7 522.5h.01M104.5 534h.01M99 533.9h.01M105.3 525.6h.01M86.3 534.2h.01M105.8 533.7h.01M87.2 519.9h.01M97.8 533.9h.01M82.1 525.2h.01M102.8 524.9h.01M108.1 525.3h.01M77.1 525.5h.01M98.5 533.1h.01M85.6 522.1h.01M80.1 530h.01M88.4 533.4h.01M79.1 532.7h.01M106.6 530.6h.01M105.7 535.2h.01M106.5 530.2h.01M91.3 520.4h.01M84.6 535.5h.01M97.4 532.2h.01M100.8 531.9h.01M106.3 524.1h.01M98.6 523.3h.01M107.9 520.4h.01M101.1 533.3h.01M108.4 532.4h.01M84.9 530.9h.01M101.3 531.2h.01M91.2 532.7h.01M99.9 520.9h.01M77.5 531.5h.01M86 536.7h.01M85.2 520.8h.01M81.7 519.9h.01M91 524.7h.01M90.3 532h.01M90.1 533.4h.01M108.5 532.5h.01M100.5 530.8h.01M103.1 525.9h.01M76.8 520.5h.01M87.5 521.6h.01M88.3 524.7h.01M79.3 529.7h.01M99.7 524.1h.01M106.6 535.6h.01M83.1 522.2h.01M80.4 530h.01M85.4 529.6h.01M80.6 536h.01M104.7 523.9h.01M100.5 533.9h.01M106.2 521.3h.01M93.3 523h.01M89.2 533.9h.01M76.1 519.9h.01M98.3 535.5h.01M109.9 523.5h.01M89.9 522h.01M101.9 525.5h.01M88.3 533.5h.01M89.1 521.6h.01M81.6 523h.01M76.8 523h.01M90.9 518.9h.01M92.3 533.1h.01M77.3 529.7h.01M75.6 523h.01M83.1 534.4h.01M108.8 533.2h.01M85.4 520.6h.01M101.7 530.9h.01M88.5 530.6h.01M95.2 523.4h.01M79.9 530.1h.01M93.5 525.1h.01M108.8 519.7h.01M91.9 524.9h.01M97.5 534.8h.01M98.5 521.7h.01M83.3 523.6h.01M94.6 534.5h.01M95.4 524.7h.01M84.9 535h.01M95.3 521h.01M89.1 521.7h.01M84.3 529.7h.01M85 529.9h.01M107 533.4h.01M98.5 530.8h.01M86.7 529.5h.01M104.7 525.7h.01M85.7 535.2h.01M98.8 523.2h.01M95.9 532.2h.01M105.5 531.5h.01M81.5 535h.01M101 524.3h.01M92.7 532.6h.01M76.4 524.2h.01M108.1 532.5h.01M89.6 532.3h.01M93 534.1h.01M100.7 535.9h.01M98.6 520.7h.01M103.6 524.3h.01M79.9 535.5h.01M106.8 524h.01M105.3 525.4h.01M96.6 520.4h.01M93.6 532.4h.01M78.5 524.6h.01M90.5 533.7h.01M90.6 520.9h.01M93.6 519.6h.01M77.6 530.1h.01M85.9 520.2h.01M90.1 519.6h.01M105.2 531.4h.01M98.2 523.9h.01M97.3 528.6h.01M87.3 529.9h.01M103.8 530.5h.01M108.7 534.3h.01M104.1 521.4h.01M97.4 523.7h.01M106.4 535.8h.01M81 535.1h.01M94.9 530.8h.01M87.2 520h.01M84 532.6h.01M98.3 534.2h.01M81 534.7h.01M83.1 533.7h.01M94.8 533.1h.01M81.7 529.6h.01M108.2 525.2h.01M88.1 525.3h.01M83.5 529.6h.01M81 524.7h.01M93.5 525.5h.01M89.3 532.5h.01M92.7 531.2h.01M84.5 532h.01M103.2 520.8h.01M99.7 521.2h.01M83.2 521.8h.01M90.4 523.9h.01M98.5 523.2h.01M94.5 523.2h.01M78.2 524.8h.01M109.3 532.4h.01M108.6 520.9h.01M106.1 522.5h.01M81.8 532.7h.01M98.8 523.6h.01M96.2 533.6h.01M90.1 520.6h.01M88.2 525.5h.01M108 533.2h.01M102.9 521.4h.01M105.3 521.5h.01M106.2 520.3h.01M87.1 522.3h.01M97 532.1h.01M103.2 523.6h.01M106 530.9h.01M103.8 530.4h.01M106.3 523.5h.01M81.8 529.9h.01M97.6 534.4h.01M77 532.9h.01M84.6 524.8h.01M91.8 533.1h.01M98 533h.01M93.7 524.1h.01M93.2 529.8h.01M96.1 533.2h.01M93.7 528.6h.01M80.1 535h.01M97.3 519.7h.01M86.3 523.4h.01M78 535.8h.01M93.6 519.7h.01M99.6 533.9h.01M97.7 532.4h.01M103.2 521.8h.01M109 529.7h.01M91.8 520h.01M85.7 532.6h.01M91.5 533.3h.01M108.6 520.7h.01M109.1 523.6h.01M84.8 531.4h.01M83.5 526h.01M86.4 520.1h.01M106.8 534.2h.01M80.6 533.2h.01M77.3 535.6h.01M97 523.7h.01M98.2 534h.01M77.9 531.4h.01M81.6 525.3h.01M98.9 524.4h.01M76.5 523.2h.01M109.3 524h.01M86 522.4h.01M85.4 520.3h.01M109.8 524.9h.01M94 525.8h.01M77.2 522.7h.01M100.5 533.8h.01M98.4 536.2h.01M92.6 533.7h.01M96.5 519.8h.01M77.6 521.7h.01M78.8 531h.01M108.4 533h.01M107.4 532.3h.01M89.7 534h.01M96.3 520.5h.01M88.7 519.7h.01M95.9 529.8h.01M107.5 531.2h.01M87.3 534h.01M77 535.1h.01M82 520.7h.01M105.8 530.4h.01M75.5 535h.01M80.2 532.1h.01M76.3 530.7h.01M76.7 533.6h.01M106.5 534.4h.01M95.7 522.9h.01M94.8 520.7h.01M100.5 520.9h.01M78.1 521.4h.01M93.7 530.4h.01M91.7 530.9h.01M87.3 521.3h.01M82.3 530.5h.01M82.4 524h.01M86.7 535.9h.01M97.4 525.3h.01M103.1 534.4h.01M77.4 523.6h.01M76.2 520.1h.01M105.8 519.7h.01M97.1 535.2h.01M80.4 534.2h.01M83.7 524.3h.01M88.8 524.8h.01M86.7 535.7h.01M90.3 531.2h.01M100.9 528.9h.01M93.8 524h.01M106.2 526.2h.01M93.3 534.1h.01M96.5 531.2h.01M92.2 519h.01M110.2 532.6h.01M93 523h.01M85.7 530h.01M79.9 525h.01M77.6 524.6h.01M80.2 532.2h.01M92.5 524.5h.01M99.5 525h.01M85.7 533.5h.01M105.6 523.5h.01M93.6 522.7h.01M75.6 534.8h.01M84 531.7h.01M105.3 521.5h.01M83.8 521.5h.01M101 530h.01M100.3 528.9h.01M82.7 520.1h.01M86.4 519.8h.01M76.8 534.6h.01M85.6 529.7h.01M84.4 525.3h.01M91.8 521.2h.01M100.3 520.7h.01M81.2 525h.01M106.3 526.4h.01M87 528.8h.01M105.5 525.3h.01M79.2 524.1h.01M86.5 524.1h.01M99.4 524.7h.01M102.1 521.3h.01M106 521.5h.01M101.6 531.6h.01M103.6 521.9h.01M98.6 525.5h.01M94.5 530.8h.01M91.3 520.6h.01M95.6 520.6h.01M103.1 519.2h.01M91.7 535.3h.01M106.3 530.1h.01M77.5 521.7h.01M106.2 520.6h.01M98.4 528.8h.01M103.4 528.5h.01M89.1 520.5h.01M83.7 536.1h.01M88.6 534.5h.01M91.8 531.8h.01M111.1 534.5h.01M78.2 534.6h.01M79.4 521.6h.01M94.8 523.3h.01M77.5 531.7h.01M110.2 534.3h.01M89.9 531.4h.01M88.8 523.4h.01M79.9 530.2h.01M100.2 530.8h.01M78.8 521.9h.01M83 532.8h.01M96.7 520.4h.01M80.8 523.5h.01M84.1 536h.01M87.3 535.3h.01M91.6 534.5h.01M83.4 520.9h.01M81.7 525.7h.01M104.4 524.5h.01M88.4 524.2h.01M108.6 532.5h.01M100.6 524.4h.01M81.7 531.7h.01M103.5 524.1h.01M81.4 521.9h.01M105.2 526h.01M106 535.8h.01M78 525.5h.01M86 532.5h.01M86.5 530.1h.01M107.3 521.9h.01M100.1 523.3h.01M87.1 522.8h.01M86.7 524.5h.01M108.3 523.2h.01M96 529.7h.01M93.2 524.7h.01M83.9 534.8h.01M100.9 532.6h.01M79.2 533.6h.01M105.6 531.5h.01M106.6 532.2h.01M102.6 525.5h.01M103.1 530.4h.01M77.7 530.7h.01M102.7 534.8h.01M77.9 524.7h.01M108.6 521.6h.01M106.1 534.7h.01M86.6 519.5h.01M104.8 522.4h.01M102 535.5h.01M85.4 525h.01M94.9 532.1h.01M100.9 533h.01M106.1 531.4h.01M85.2 534.2h.01M76.1 531.7h.01M90.8 525.3h.01M95.9 532.1h.01M106.4 534.3h.01M92.2 525.7h.01M107.9 530.7h.01M94.6 533.1h.01M100.1 524h.01M85.5 530.8h.01M104.2 535.4h.01M108.6 534.2h.01M84.8 519.2h.01M86.2 531.9h.01M84.3 522.9h.01M86.9 535.9h.01M103.7 532.4h.01M79.6 524.8h.01M80.7 535h.01M102.4 531.1h.01M83.2 521.1h.01M108.9 530.4h.01M99.7 532.5h.01M95.5 526.4h.01M96.5 531h.01M103.1 530.3h.01M103.4 526.2h.01M98.5 534.7h.01M94.6 529.8h.01M107.8 530.6h.01M80.6 524.9h.01M75.9 535.3h.01M102.4 533.7h.01M101.4 531.5h.01M84.1 522.9h.01M96.2 522.4h.01M82.7 523.7h.01M85.9 523.1h.01M107.9 531.4h.01M102.7 525.3h.01M81.1 523.5h.01M101 522.8h.01M84.7 535.5h.01M81.6 523.3h.01M84.4 529.9h.01M79.6 525.5h.01M103.3 523.5h.01M107.6 529.5h.01M102.8 523.6h.01M90.1 531.7h.01M89.3 535.4h.01M104 531.3h.01M98.5 523.9h.01M107.2 532.7h.01M85.8 532.7h.01M90.4 524.7h.01M105.2 519.9h.01M84.7 531.4h.01M91.5 532.6h.01M78.1 520.9h.01M100.8 524.1h.01M102.3 525.8h.01M78.3 535.1h.01M102.5 521h.01M105.5 520.4h.01M80.9 524.8h.01M77.2 534.6h.01M103.4 533.5h.01M102.7 533.4h.01M80.3 522.9h.01M101.1 524.3h.01M98.4 524h.01M109.7 525.3h.01M77 522.6h.01M83.9 535.7h.01M108.7 524.5h.01M84.3 520.4h.01M79.6 525.3h.01M100.1 531.4h.01M79.6 535.5h.01M104.3 520.5h.01M102.2 530.8h.01M108.7 533.9h.01M95.3 524.1h.01M96.1 524.1h.01M84.1 522.1h.01M90.9 521.6h.01M87.4 534.6h.01M101.8 529.9h.01M108 526.4h.01M107.3 524.4h.01M79.3 519.4h.01M88 526.5h.01M77.1 521.4h.01M122.2 533.3h.01M113.3 535.7h.01M122.7 535.2h.01M118.9 532.4h.01M116.1 526.3h.01M117.9 535.3h.01M116.8 523.3h.01M112.8 520.5h.01M116.8 523h.01M116.9 535h.01M115.9 529.9h.01M113.8 521.2h.01M109.9 532.9h.01M114.4 532.4h.01M121 522.7h.01M118.4 523.5h.01M114.5 532.1h.01M120.5 524.7h.01M115.1 533.6h.01M117.2 535.2h.01M118.4 523.5h.01M117.4 521.1h.01M112.3 526.4h.01M122.5 520.1h.01M111.1 524.1h.01M114 522.7h.01M109.7 524.3h.01M117.9 523.3h.01M117.9 524.7h.01M117.7 524.9h.01M115.3 534.3h.01M119 533.7h.01M111.9 535.1h.01M115.5 532.4h.01M117.1 531h.01M109.4 536.6h.01M117.7 530.4h.01M113.2 534.1h.01M117.7 535.8h.01M110.7 533.1h.01M110.5 531.1h.01M122.2 531h.01M117.1 531.7h.01M109.7 529.8h.01M123.7 533.2h.01M112.1 535.3h.01M120.5 529.7h.01M111.4 533.9h.01M123 536.4h.01M113.6 534.1h.01M119.5 531.2h.01M121.8 531.2h.01M123.1 534.7h.01M113.3 529.9h.01M116.1 534.3h.01M114.9 534.7h.01M123.2 532.2h.01M110.5 534.9h.01M110.8 534.8h.01M109.3 531.1h.01M118.7 529.5h.01M117.9 533.5h.01M122.5 532.3h.01M121.5 535.5h.01M117.6 533.3h.01M110 534.7h.01M121.3 531.4h.01M121.5 532.3h.01M121.6 535.5h.01M124.8 532.9h.01M114.3 534.3h.01M119.5 530h.01M112.4 534.2h.01M114.7 536h.01M114.9 529.7h.01M112.3 529.2h.01M111.9 533.7h.01M118.3 530.6h.01M119.4 532.2h.01M120.7 535.2h.01M118.7 533h.01M121.8 529.9h.01M120.4 535.9h.01M117.6 529.8h.01M123.1 531.7h.01M123 530.6h.01M124.2 533.7h.01M118.5 532.9h.01M122.2 534h.01M108.3 531.9h.01M111.2 532.8h.01M120.4 530.4h.01M118.8 531h.01M115.8 535.8h.01M121.7 534h.01M111 530.4h.01M112.1 531.3h.01M112.3 531.3h.01M123.3 534.6h.01M108.4 534.8h.01M111.7 534.4h.01M113.7 534.2h.01M110.2 531.2h.01M122.7 533.4h.01M117.3 533h.01M117.4 534h.01M110.2 534.2h.01M116.1 532.2h.01M114.8 531.3h.01M119.3 535.6h.01M120.6 531.2h.01M109.8 531.6h.01M110.7 530.7h.01M115.2 534.6h.01M115.6 534.2h.01M125 534.3h.01M117.9 529.9h.01M122.6 534.5h.01M122.2 534h.01M116.7 530.4h.01M137.9 521.9h.01M136.4 524.5h.01M128.9 533.4h.01M143.7 522.8h.01M126.2 531.2h.01M133.9 534.7h.01M147.4 532.8h.01M148.5 531.9h.01M129.6 535.3h.01M139.2 522.8h.01M131.9 522.6h.01M142.5 523.6h.01M146.3 535.6h.01M129.5 533.3h.01M143.2 533.8h.01M138.9 521.5h.01M135.3 531.6h.01M132.4 521.8h.01M128.8 532.7h.01M135.4 529.7h.01M128.5 526.1h.01M125.4 526.2h.01M135.9 523.5h.01M128.7 533.8h.01M143.4 524.1h.01M133.7 523.2h.01M150.6 533.7h.01M139.5 519.9h.01M146.4 535.9h.01M128.7 534.7h.01M148.5 535.1h.01M143.6 521.8h.01M129.7 524.2h.01M134.1 526.3h.01M126.1 519.3h.01M150.2 529.1h.01M146.5 536.2h.01M132.8 532.8h.01M143.4 531.7h.01M123 523.2h.01M149.9 526.5h.01M150.3 522.9h.01M128.5 533.2h.01M142.8 531.5h.01M133.8 521.7h.01M145 534.4h.01M139.8 519.3h.01M147.7 532h.01M150.2 530.6h.01M130 533.9h.01M130.1 520.6h.01M130.4 523.7h.01M144.4 518.9h.01M126 523.7h.01M133.9 533.7h.01M145.3 520.6h.01M149.8 533.3h.01M141.9 531.3h.01M125.4 530.7h.01M122.9 533.4h.01M126 522.9h.01M139.2 534.7h.01M143.8 525.6h.01M141.6 525.3h.01M126.2 535.5h.01M138.6 532h.01M132.7 522.8h.01M122.6 533.5h.01M145.1 523.6h.01M124.3 535.7h.01M127.9 531.7h.01M126.7 522.3h.01M135.6 532.3h.01M135.8 532.8h.01M147.7 523.2h.01M129 536.6h.01M137.6 524.3h.01M128.1 522h.01M143.8 521.5h.01M144 533.4h.01M136.4 531.8h.01M145.4 533.7h.01M141.3 520.1h.01M135.2 525.1h.01M131.6 520.4h.01M126.7 535.8h.01M128.2 520.4h.01M124 530.3h.01M145.7 529h.01M150.3 532.5h.01M133.3 523.9h.01M124.5 532.8h.01M148 520.9h.01M126.7 524.7h.01M143.8 525.4h.01M142.5 533.3h.01M145.9 535.1h.01M147.6 533.3h.01M147.8 533.5h.01M142.2 533.8h.01M136.7 519.6h.01M147 524.1h.01M142.6 530.3h.01M126.1 523h.01M132.5 520h.01M131.3 532.1h.01M127.1 524.9h.01M127.4 521h.01M139.9 523.7h.01M136.1 520.5h.01M129.3 524.9h.01M126.1 535.3h.01M146.1 530.3h.01M148.5 522.3h.01M129 532.1h.01M137 524.4h.01M129.9 523.4h.01M140.4 522.7h.01M140.5 524.9h.01M132.2 521.7h.01M146.7 529.4h.01M123.8 524.1h.01M130.8 524.2h.01M126.5 525.9h.01M150.9 530.4h.01M135.6 525.2h.01M131.3 535.1h.01M146.4 524.4h.01M138.1 520.5h.01M145.1 532.3h.01M136.8 521.4h.01M123.8 533h.01M143.1 518.7h.01M131.4 529.7h.01M128.6 525.1h.01M138.8 525.4h.01M136.7 519.6h.01M140.5 522.7h.01M136.3 521.9h.01M135 535.1h.01M146.6 524.3h.01M149.8 535.1h.01M132.1 520.3h.01M150.3 520.3h.01M136.3 531.4h.01M138.2 529.6h.01M146.6 530h.01M149.8 519.9h.01M132.2 536.1h.01M148.5 532.6h.01M147.5 520.4h.01M123.5 534h.01M126.3 530.6h.01M140 533.2h.01M137.1 536.3h.01M134.8 531.4h.01M124.1 531.8h.01M126.5 524.8h.01M132.8 523.9h.01M130 533.6h.01M136.1 527h.01M128.3 530.4h.01M125.6 534.6h.01M136.7 521.4h.01M126.9 522.8h.01M150.9 523.3h.01M134.4 521.8h.01M124.3 523.5h.01M127.1 533.9h.01M144 530h.01M130.1 520.1h.01M143.8 529.6h.01M134.3 531.9h.01M126.1 535.5h.01M147.1 521.5h.01M125.3 532.3h.01M139.6 534.4h.01M147.8 535h.01M134 535.1h.01M143.4 534.2h.01M126.6 533.6h.01M130.6 525.7h.01M137.3 534.8h.01M136 530.4h.01M134.2 534.4h.01M125.9 530h.01M130.6 533.5h.01M129.8 524.7h.01M142.2 536.2h.01M136.9 525.5h.01M142.2 532.9h.01M130.1 533.2h.01M125.8 529.3h.01M131.8 535h.01M125.8 531.9h.01M133.2 522.4h.01M144.8 522.6h.01M131.1 531.8h.01M144.4 522.7h.01M142.7 530.6h.01M144.5 533.5h.01M141.9 532.3h.01M124.6 523.5h.01M130.2 524.8h.01M142.7 533.3h.01M142.9 534.7h.01M132.9 534.4h.01M126.5 533.9h.01M123.5 523.1h.01M128.5 523.7h.01M131.1 524.6h.01M127.7 534.2h.01M140.1 530.9h.01M143.6 533.4h.01M141.2 524.8h.01M139.1 529.2h.01M148.6 532.7h.01M125.3 530.2h.01M144.8 526.7h.01M134.3 526.1h.01M131.7 521.3h.01M141.6 523.7h.01M131.9 534.5h.01M124.7 523.9h.01M138.2 533.1h.01M123.2 523.4h.01M139.4 529.9h.01M143.7 523.9h.01M131.4 533.8h.01M143.8 535.1h.01M136 532h.01M148.2 524.6h.01M135.3 526.4h.01M143.8 533.4h.01M124.3 520h.01M141.4 530.2h.01M124.1 529.2h.01M147.4 521.2h.01M147.4 533.9h.01M133.8 522.6h.01M149 536.9h.01M133.3 522.9h.01M125.6 534.4h.01M138.2 535.2h.01M130.4 523.9h.01M137.5 521.9h.01M148.7 530.1h.01M146.8 531.4h.01M123.8 521.5h.01M139.7 532.3h.01M124.3 533.1h.01M140.4 524.8h.01M136.5 533h.01M133.4 522.9h.01M128 526.2h.01M128.7 533.5h.01M133.9 534.3h.01M141.5 520.2h.01M142.8 522.6h.01M139.9 530.1h.01M146.3 536.3h.01M135.3 534.3h.01M124.4 522h.01M133 526.6h.01M149.4 523.1h.01M144.4 532.8h.01M123 526.5h.01M145.5 520.2h.01M126.2 523.9h.01M135.9 519.6h.01M130.3 535.7h.01M137.6 533.5h.01M140.7 533.4h.01M146.3 532.7h.01M127.9 534.6h.01M125.3 524.2h.01M142.4 522.5h.01M134.4 529.4h.01M132.9 531.5h.01M140.3 529.4h.01M124.3 529.3h.01M139.9 520.3h.01M133 522.9h.01M139.3 535.6h.01M138.1 531.1h.01M148.4 531.8h.01M134.9 522.6h.01M132.1 525.2h.01M133.9 519.3h.01M135.1 533.9h.01M127.5 534.2h.01M143 529.9h.01M126.7 525h.01M137.9 533.6h.01M150.6 521.8h.01M125.9 525.5h.01M144.9 533.7h.01M135.8 534.6h.01M149.1 518.9h.01M144.2 523.3h.01M140.3 526.3h.01M132.1 529.6h.01M131 534.6h.01M124.4 519.5h.01M135.8 536h.01M146.9 534.6h.01M124.6 524.3h.01M146.2 535.3h.01M137.7 524.8h.01M131.4 526.3h.01M145.3 520.2h.01M134.5 531.9h.01M132.5 531.6h.01M127.7 533.1h.01M134.1 530.4h.01M125.9 533.4h.01M141.7 532h.01M131.3 533.6h.01M133.8 524.8h.01M133.1 534.6h.01M133.4 534.1h.01M125.2 534.1h.01M124.1 529.3h.01M132.4 523.3h.01M133.6 529.6h.01M131.1 523h.01M141.6 529.7h.01M144.5 523.6h.01M132.6 524.2h.01M126.5 532.5h.01M149.3 529.7h.01M143 534.2h.01M134.7 536.3h.01M127.9 533h.01M135.9 520.4h.01M127.4 523.5h.01M128.1 533.7h.01M147 533.2h.01M133.7 533.8h.01M132.7 523.8h.01M145.3 535h.01M126.3 534.4h.01M146.2 531.2h.01M140.3 534.4h.01M147.2 524.4h.01M133.5 531.3h.01M134.3 521.6h.01M141.7 522h.01M146.6 531h.01M125.2 521.2h.01M142.7 520h.01M134.4 535h.01M143.5 536.4h.01M133.5 523.3h.01M149.1 520.8h.01M133.1 522.6h.01M139.6 531.1h.01M134.2 533.7h.01M142 523.5h.01M147.5 534h.01M122.3 535.6h.01M143.4 522.5h.01M129.3 536.3h.01M143.8 531.9h.01M134.7 532.6h.01M138.1 535.3h.01M141.9 532.3h.01M146.8 529.6h.01M131.5 532.7h.01M127.5 525.9h.01M134.9 532.8h.01M126.5 524.2h.01M130.4 535.1h.01M138.4 530.9h.01M134.6 531.5h.01M124.7 533.2h.01M144.4 523.5h.01M149.1 530.5h.01M146.3 524h.01M133 532.4h.01M141.2 522.2h.01M135.8 531.7h.01M136.9 533.5h.01M130.5 524.5h.01M133.2 521.3h.01M141.2 524.6h.01M123.9 524.4h.01M134.6 534.1h.01M135.8 532.1h.01M134.5 530.6h.01M127.1 522.7h.01M144.7 523.8h.01M130.7 526.4h.01M144 523.9h.01M144.9 532.7h.01M133.1 534.5h.01M125.6 525.8h.01M130.4 531.1h.01M124.1 529.1h.01M142.2 525.1h.01M131.3 532.2h.01M140.8 532.7h.01M143.9 531.8h.01M134 533.4h.01M126.1 531h.01M130.5 521h.01M145.2 530.7h.01M140.5 535h.01M144.4 531.1h.01M128.5 529.8h.01M140 524.7h.01M123.7 534.3h.01M139.9 532.4h.01M148.6 526.3h.01M132.1 533.4h.01M138.9 518.9h.01M136.3 533.4h.01M134.1 526h.01M144.4 530.8h.01M144.3 520.6h.01M141.9 524.1h.01M143.1 524.5h.01M129.4 534.5h.01M138.2 530.8h.01M124.7 522.4h.01M122.7 522.5h.01M132.1 530.4h.01M124.3 522.2h.01M140.5 522.2h.01M128.2 520.9h.01M132.1 529.3h.01M134.9 531.8h.01M127.8 532.8h.01M144.1 520.5h.01M131.7 534.6h.01M135.9 525.8h.01M140.1 532.3h.01M125.9 524.6h.01M145.1 534.5h.01M136.1 533.7h.01M148.1 521.2h.01M148.6 534h.01M125.3 522.8h.01M148.2 533.8h.01M135.8 521.8h.01M126.7 532.3h.01M135.1 522.8h.01M133.1 524.1h.01M126.2 531.7h.01M125.3 530.3h.01M126.3 529.9h.01M124 533.9h.01M127 525.2h.01M128.1 524.3h.01M147.2 525.1h.01M139.3 526.3h.01M136.1 519.5h.01M126.1 531h.01M124.6 535.5h.01M124 533.2h.01M150.8 520.4h.01M150.5 523.9h.01M156.1 524.9h.01M151.5 521.5h.01M155.3 525.2h.01M152.4 530.7h.01M152.8 534.3h.01M150.9 535.8h.01M156.9 532.1h.01M155.6 525.4h.01M154.9 533.6h.01M151.6 525h.01M154.1 524.1h.01M155.4 532.1h.01M149.5 521.6h.01M149.2 530.8h.01M149.7 524.2h.01M149 532.8h.01M152.4 521.8h.01M149.7 519.9h.01M152.7 520h.01M151.3 519.8h.01M154.5 520.2h.01M155.8 534.4h.01M150 525.9h.01M156.3 533.1h.01M154.8 524h.01M155.8 534.6h.01M149.3 533.1h.01M152 533.1h.01M156.7 534.9h.01M156.6 519.8h.01M149.1 523.1h.01M156.2 524h.01M152.2 534.4h.01M152.3 524.3h.01M150 532h.01M157.5 524.8h.01M152.7 532.5h.01M154.8 520h.01M77.5 533.1h.01M75.5 532.5h.01M75 536.7h.01M75.2 524.9h.01M75.6 531.8h.01M78.6 530.5h.01M74.1 521.9h.01M74.1 522.8h.01M76.1 535.1h.01M74.6 532.5h.01M77.3 534h.01M77.1 522.7h.01" stroke="#1212ff" stroke-width="1.0" stroke-linecap="square" fill="none"/>
<path d="M193.1 525h.01M185.8 521.2h.01M193.9 524.7h.01M200.2 535.1h.01M191.4 535.2h.01M195.9 521.3h.01M197.6 531.6h.01M196.6 519.9h.01M198.6 533.7h.01M189 530.1h.01M187 525.7h.01M192.7 534h.01" stroke="#3a3aff" stroke-width="0.9" stroke-linecap="square" fill="none"/>
<path d="M153 521.7h.01M154 520.4h.01M154.7 530.8h.01M148.3 534.1h.01M147.3 521.3h.01M151 523.6h.01M152.6 519.7h.01M153.6 532.3h.01M144.1 526.1h.01M150.2 520.6h.01M145.3 521.8h.01M147.7 520.8h.01M150.7 530.3h.01M152.3 533h.01M144 523h.01M145.2 534.6h.01M144.2 521.5h.01M146 532.5h.01M146.8 522.4h.01M148.2 521.4h.01M145.1 530.5h.01M144.1 524.7h.01M148 522.1h.01M148.3 522.8h.01M150.2 520.6h.01M144.4 521.7h.01M145.1 524.1h.01M141.4 534.2h.01M154.5 532.1h.01M147 521.2h.01M142.8 525h.01M155.8 532.4h.01M149.2 530.7h.01M152.2 523.3h.01M143.7 524.1h.01M153.8 519.8h.01M140.1 523.3h.01M151.6 533.8h.01M152 532.4h.01M146.4 521.9h.01M146.3 531.2h.01M145.5 531h.01M154.2 525.5h.01M140.2 521.9h.01M150.5 523.3h.01M143.1 521h.01M143 522h.01M151.7 520.6h.01M150.4 524.1h.01M147.9 534h.01M141 521.6h.01M143.3 524.3h.01M153.7 535.1h.01M141.2 533.3h.01M145.6 531.6h.01M143.7 529.7h.01M152.7 533.3h.01M149.1 535.7h.01M155.2 525.7h.01M142.3 534.5h.01M149.2 531.8h.01M152.4 533.2h.01M152.2 530.6h.01M150.3 522.1h.01M148.9 533.9h.01M154.6 534.2h.01M153.7 535.6h.01M150.5 525.5h.01M151.9 532.3h.01M149 520.8h.01M152.3 530.7h.01M140.2 522.3h.01M148.1 531.1h.01M142.9 532.4h.01M147.8 534.9h.01M148.2 530h.01M155.9 534.8h.01M153.4 530.9h.01M146.6 522.9h.01M152 521.1h.01M148.9 523.8h.01M151.5 520.4h.01M152.3 531.1h.01M147.9 524.8h.01M144.9 520.1h.01M146.7 525h.01M143.9 524.5h.01M150.8 533.2h.01M155.4 534.6h.01M140.2 531.5h.01M144.7 534.1h.01M146 523.1h.01M146.9 525.4h.01M150.3 525.5h.01M154 535.2h.01M145 522.8h.01M155.8 525.9h.01M148 531.5h.01M147 536.3h.01M149.6 534.1h.01M144.5 522.5h.01M152.2 532.2h.01M154.1 533h.01M147.5 530.5h.01M145.5 521.3h.01M141.6 524.6h.01M147.8 533.6h.01M151.2 521h.01M142.7 521.2h.01M152.6 521h.01M163.6 534.6h.01M160.2 524.7h.01M168.4 524.8h.01M158.9 533.8h.01M169 524.8h.01M164.6 523h.01M170.1 522.8h.01M176.7 525.6h.01M168 532.2h.01M170.1 535.5h.01M164.7 531.5h.01M158.9 522.3h.01M162.8 530.8h.01M179.4 521.3h.01M175.1 525.7h.01M162.1 525h.01M173.9 521.6h.01M168.9 520.8h.01M178.8 520h.01M162.1 523.1h.01M156.1 534.3h.01M155.8 532.5h.01M166.8 532.2h.01M159 533.3h.01M175.2 534.5h.01M158.1 524.2h.01M174.8 532.5h.01M155.2 522.7h.01M168.4 522.4h.01M167.3 521.7h.01M178.3 525.2h.01M157.7 520.3h.01M179.5 532.5h.01M155.8 524.2h.01M159.5 525.3h.01M168 533.9h.01M170.2 519.3h.01M175.8 522.6h.01M179 533.9h.01M177.2 519.3h.01M164.2 529.8h.01M163.1 523.5h.01M157.9 531.4h.01M165 530.5h.01M168.8 534.7h.01M178.9 535.2h.01M176 521h.01M156.4 533.3h.01M168.9 530.9h.01M161.2 533h.01M164.2 521.9h.01M158.1 521.6h.01M162 520.9h.01M154.1 523.9h.01M171.7 523.8h.01M176.2 523.2h.01M174.9 520.3h.01M177.7 532.6h.01M175.3 521.4h.01M175.1 521.8h.01M178.6 531h.01M160.2 534.1h.01M165.8 522.4h.01M159.5 519.7h.01M168.1 522.4h.01M157.5 533.6h.01M177.7 524.9h.01M160.9 533.1h.01M175.9 533.7h.01M178.2 522.4h.01M156.4 531.2h.01M178.1 520.1h.01M173.1 536.3h.01M167.8 521.9h.01M160.7 522h.01M160.3 520.9h.01M175.2 520.9h.01M167.9 532.6h.01M172.2 522.8h.01M166.8 522.4h.01M167.8 523.2h.01M168.9 526.8h.01M164.6 524.3h.01M169.7 524.8h.01M161.1 522.5h.01M158 535.2h.01M164.3 523.6h.01M154.4 535h.01M168.8 533.4h.01M169.6 525.8h.01M177.7 529.8h.01M174.6 532h.01M170.4 529.3h.01M161.9 536.5h.01M164.8 525.7h.01M175.2 520.3h.01M161.7 534.1h.01M175.8 530.2h.01M179.2 523h.01M159.2 532.3h.01M165.6 535.8h.01M171.3 521.8h.01M171.5 523.7h.01M176.7 522.6h.01M173.9 530h.01M168.5 533h.01M155.6 524.1h.01M164.8 535.3h.01M158.9 529.6h.01M163.3 535.5h.01M163.2 531.1h.01M174.2 534.4h.01M162.8 525.4h.01M168.7 524.4h.01M161.4 525.7h.01M174.1 533h.01M164.5 521.5h.01M177.1 525h.01M170.9 534.9h.01M175 534.7h.01M160.6 522.8h.01M165.4 534.3h.01M168.3 530.4h.01M157.3 519.8h.01M163.6 531.5h.01M167.7 533.2h.01M165.7 524.3h.01M178.1 528.7h.01M156.7 523.3h.01M179.3 534.7h.01M168.2 531.4h.01M165.3 524.6h.01M177.4 519.7h.01M175.4 524.6h.01M157.6 530h.01M168.5 525.5h.01M161.7 531.4h.01M179 523.4h.01M171 534.6h.01M174.8 525.5h.01M159 536.1h.01M160.2 519.8h.01M161.7 524.5h.01M168.9 532.4h.01M174.4 522.4h.01M166.1 532.6h.01M161.8 536.3h.01M159.8 520.8h.01M166.9 525.7h.01M176 522.6h.01M167.4 524.4h.01M155.9 533.1h.01M161.8 518.8h.01M161.6 533.7h.01M176.9 535h.01M170.6 525.3h.01M162.7 524.9h.01M177 533.9h.01M169.4 525.9h.01M165.1 531.4h.01M159.8 530.2h.01M177.2 520.7h.01M159.3 532.8h.01M165.3 523.2h.01M175.5 530.4h.01M163.8 532.3h.01M162.8 530.1h.01M178.7 529.8h.01M173.2 533h.01M178 520.8h.01M166 526.3h.01M178.9 524.4h.01M174.3 530h.01M166.5 535.4h.01M160.6 533.1h.01M172.9 531.5h.01M158.3 535.4h.01M154.9 531.5h.01M171.8 525.9h.01M172.2 523.7h.01M172.3 521.1h.01M174.7 520.6h.01M158.1 521.6h.01M165 532h.01M166.2 521.6h.01M174.4 521.3h.01M175.6 534.2h.01M168.8 535.6h.01M160.6 523.1h.01M168.8 536.3h.01M171.1 522.2h.01M170 521.1h.01M167.8 536.7h.01M164.9 526h.01M169.9 533.4h.01M161.9 522.2h.01M173.9 529.2h.01M175.8 526.6h.01M168 530h.01M175.5 529.9h.01M167.1 532.3h.01M167.3 530.9h.01M156.8 531h.01M158.4 529h.01M176.2 520.2h.01M155.4 529.9h.01M162.3 534.4h.01M176.1 536h.01M166.7 523.5h.01M157.9 520.6h.01M174.2 534.1h.01M168.2 532.1h.01M178.6 526.1h.01M174 520.3h.01M163.9 522.4h.01M163.5 530.7h.01M172.8 525h.01M169.8 521.5h.01M161.8 522.1h.01M176.8 530.3h.01M169 533.4h.01M159.8 521.1h.01M170.2 531.4h.01M157.3 524.3h.01M169.3 519.2h.01M175.1 522.9h.01M158.8 522.3h.01M170.5 534.4h.01M172.7 535.1h.01M172 524.6h.01M157.8 534.6h.01M158.2 531.2h.01M171.1 530.7h.01M165.6 524.5h.01M178.4 522.3h.01M174.2 521.3h.01M180 525.7h.01M156.1 532h.01M158.6 522.5h.01M165.1 535.1h.01M160.6 525.3h.01M178.2 525.1h.01M156.3 521.6h.01M166.9 533.7h.01M166.2 525.5h.01M167.4 522.9h.01M155.1 520.4h.01M156.7 524.7h.01M157.4 531h.01M174.3 519.9h.01M175.2 518.9h.01M171.8 520.8h.01M157.9 535.1h.01M175.1 529.2h.01M168.8 535.6h.01M174 535.2h.01M176.8 534.6h.01M156.7 523.1h.01M170.1 520.6h.01M171.9 520.2h.01M171.6 523.8h.01M178 523h.01M156.4 531.6h.01M157.9 534.5h.01M166.5 524h.01M178.1 525.7h.01M166.8 526.2h.01M156.2 520.7h.01M168.4 524.4h.01M161.4 532.8h.01M161.5 535.9h.01M173.7 522.8h.01M175.3 536h.01M163.4 522.8h.01M173.7 533.7h.01M175.3 534.4h.01M155.4 533.3h.01M158.4 520.4h.01M156.6 535.6h.01M156.7 534.4h.01M180.6 525.4h.01M170.1 531h.01M156.6 525.9h.01M166.5 521.4h.01M160.8 533.9h.01M168.1 530.9h.01M171.7 523.2h.01M167 524.8h.01M154.9 523.6h.01M166.8 523.5h.01M165.2 535.7h.01M169.2 524h.01M178 518.6h.01M160.3 533.6h.01M176.5 525.4h.01M173.5 524h.01M156.7 536.7h.01M164.3 534.4h.01M155.7 531h.01M175 519.9h.01M161.7 531.6h.01M176.9 533.5h.01M156.3 532.3h.01M170 535h.01M164.8 523.6h.01M162.1 533.3h.01M168.6 530.9h.01M163 533.7h.01M157.9 529.3h.01M156.1 521.6h.01M156.1 522.1h.01M160.2 531.5h.01M154.6 532.1h.01M158.5 524.5h.01M156.5 521.3h.01M168.9 524.6h.01M171.5 527.1h.01M172.2 523h.01M156.6 530h.01M166.9 532.9h.01M175 524.8h.01M167 535.6h.01M171.7 523.4h.01M154.9 518.4h.01M166.3 534.7h.01M171.1 524.7h.01M161.7 532.9h.01M165.4 521.5h.01M167.4 532.2h.01M159.7 523.7h.01M161.1 536h.01M172.1 531.2h.01M165.3 533.9h.01M175.9 532.4h.01M166.8 530.5h.01M174.7 530.8h.01M178.2 523.2h.01M176 520.8h.01M167.9 531.5h.01M168 522.2h.01M156 529.5h.01M155.7 534.9h.01M159.7 525.7h.01M162.7 520.7h.01M157.1 524.3h.01M175.5 522.1h.01M169.9 524.6h.01M180.5 523.7h.01M160.6 530.1h.01M161.4 534.4h.01M176.3 532.8h.01M171 523.4h.01M158.6 534.5h.01M169.6 522.5h.01M175.4 522.6h.01M167.8 519.7h.01M176.5 530.7h.01M179.5 520.4h.01M168.6 536.1h.01M173.6 532.8h.01M161.3 520.4h.01M171.1 533h.01M178.5 523.5h.01M167 532h.01M180.3 521.9h.01M175.2 530.9h.01M163.5 524.9h.01M157.8 523.1h.01M175.7 532.9h.01M166.7 534.4h.01M171.4 521.6h.01M165 531.4h.01M174.7 523.2h.01M164.3 524.6h.01M178.8 536.5h.01M170.5 532.4h.01M175.4 526.2h.01M171.3 531h.01M178.6 520h.01M164.8 521.1h.01M166.9 522.2h.01M160.5 521.9h.01M169 527.1h.01M169.8 534.5h.01M166.7 523.7h.01M174.1 534.3h.01M162.4 521.5h.01M156 522.8h.01M173.5 535.8h.01M161.9 533.2h.01M164.1 532h.01M157.4 523.4h.01M156.8 526.2h.01M159.4 523.9h.01M171 536.6h.01M169 531h.01M175.9 530.6h.01M170.2 524.4h.01M168.9 522.1h.01M179.3 526.1h.01M166.7 534.1h.01M168.8 530.3h.01M169.6 536h.01M164.2 522.4h.01M178.6 523.3h.01M165.8 520.4h.01M162.5 530h.01M159.9 522.8h.01M169.9 531h.01M160.1 535.5h.01M160.2 531.8h.01M174.5 523.4h.01M171.3 534.1h.01M178.1 525h.01M162.8 519.5h.01M156.8 530.3h.01M164.5 536.2h.01M166.7 536.2h.01M175.8 535h.01M175.2 530.2h.01M169.8 534.4h.01M163.4 531.2h.01M164.5 531.2h.01M162.5 533.6h.01M160.7 521.9h.01M177.3 522.2h.01M159.6 533.4h.01M176.4 531.1h.01M158.4 532.4h.01M177.4 520h.01M162.8 520.9h.01M162.3 535.1h.01M162 532.1h.01M170.9 519.5h.01M160.7 526.3h.01M180.3 521.2h.01M171.6 530.4h.01M161.4 532.1h.01M173.5 519.7h.01M161.4 531.8h.01M171.5 520.9h.01M167.2 534.1h.01M165.7 522.7h.01M174.2 532.1h.01M154.8 523.8h.01M156.7 521.7h.01M167.3 525.3h.01M163.9 531.7h.01M165.1 533h.01M170.4 522.4h.01M161.8 524.8h.01M172.3 533.2h.01M179.3 525h.01M161.9 531.8h.01M155.8 522.3h.01M155.4 522.6h.01M171.6 531.8h.01M175.7 521.8h.01M170 523.2h.01M163.3 525.1h.01M170.1 520.9h.01M164.9 535.3h.01M167.7 519.4h.01M159.7 531.2h.01M156.5 526.3h.01M157.9 533.7h.01M159.8 531.6h.01M172 532.9h.01M159.6 523.3h.01M175.6 530.1h.01M177.1 530.6h.01M166.8 525.5h.01M178.7 531.7h.01M175.6 520.4h.01M161.5 522.9h.01M175 522.7h.01M155.7 523.8h.01M179.1 534.9h.01M161.2 521.1h.01M162.8 532.8h.01M174.5 524.6h.01M156.2 532.4h.01M174.7 531.1h.01M174.9 529.5h.01M161.5 526.2h.01M170.7 521.8h.01M158 524.9h.01M174.8 535.1h.01M170.5 521.7h.01M160.2 521.1h.01M173.7 522.2h.01M174.3 520.4h.01M157.7 521.5h.01M159.3 532.2h.01M156.9 530.9h.01M177.2 535.2h.01M155.6 527h.01M161.6 520.4h.01M162.8 524.9h.01M162 532.2h.01M178.5 533.2h.01M160.6 522.8h.01M161.7 526.3h.01M162.2 520.5h.01M163.4 535.2h.01M174.5 533.2h.01M177.6 521.4h.01M176.8 521.4h.01M167.8 521.8h.01M162 522.4h.01M155.2 530.9h.01M172.6 520.1h.01M157.4 522.4h.01M171 532.9h.01M159.3 519.9h.01M161.5 535.2h.01M173.5 522.1h.01M157 524.5h.01M178.6 521.1h.01M173.6 525.6h.01M180.1 520.4h.01M179.7 533.6h.01M182.1 532.2h.01M180 531.8h.01M181.3 531.3h.01M183.8 522.6h.01M179.5 532.1h.01M179.2 534.9h.01M180.2 531.8h.01M181.2 534.2h.01M182.3 534.8h.01M183.1 521.3h.01M179.9 519.9h.01M182 525.4h.01M179.6 533.9h.01M182.2 519.3h.01M179.8 520.3h.01M183.1 531h.01M177.9 526.2h.01M180.1 521.2h.01M179.6 526.3h.01M181.3 535.9h.01M186.3 523.1h.01M188.6 530.6h.01M186.3 535.6h.01M187.9 523.9h.01M184.4 523.2h.01M184.2 534.5h.01" stroke="#ff1414" stroke-width="1.0" stroke-linecap="square" fill="none"/>
<path d="M115.5 494.2h3.4l-1.7 3zM122.6 494.2h3.4l-1.7 3zM129.6 494.2h3.4l-1.7 3zM136.7 494.2h3.4l-1.7 3zM143.8 494.2h3.4l-1.7 3zM115.5 501.3h3.4l-1.7 3zM122.6 501.3h3.4l-1.7 3zM129.6 501.3h3.4l-1.7 3zM136.7 501.3h3.4l-1.7 3zM143.8 501.3h3.4l-1.7 3zM115.5 508.4h3.4l-1.7 3zM122.6 508.4h3.4l-1.7 3zM129.6 508.4h3.4l-1.7 3zM136.7 508.4h3.4l-1.7 3zM143.8 508.4h3.4l-1.7 3zM115.5 515.5h3.4l-1.7 3zM122.6 515.5h3.4l-1.7 3zM129.6 515.5h3.4l-1.7 3zM136.7 515.5h3.4l-1.7 3zM143.8 515.5h3.4l-1.7 3zM129.6 522.5h3.4l-1.7 3zM136.7 522.5h3.4l-1.7 3zM143.8 522.5h3.4l-1.7 3zM115.5 529.6h3.4l-1.7 3zM122.6 529.6h3.4l-1.7 3zM129.6 529.6h3.4l-1.7 3zM136.7 529.6h3.4l-1.7 3zM143.8 529.6h3.4l-1.7 3zM122.4 536.1h3.4l-1.7 3zM136.1 536.1h3.4l-1.7 3zM143.5 536.1h3.4l-1.7 3z" fill="#ff9a0a" stroke="#d97a00" stroke-width="0.3"/>
<line x1="55.2" y1="527.9" x2="245.7" y2="527.9" stroke="#8a8a8a" stroke-width="2"/>
<rect x="55.2" y="414.3" width="190.5" height="199.3" fill="none" stroke="#6a6a6a" stroke-width="0.9"/>
<text x="55.2" y="627.8" text-anchor="middle" font-family="'DejaVu Sans','Liberation Sans',sans-serif" font-size="10.6" fill="#2c2c2c">0</text>
<path d="M114.8 613.6v-2.4M114.8 414.3v2.4" stroke="#858585" stroke-width="1"/>
<text x="114.8" y="627.8" text-anchor="middle" font-family="'DejaVu Sans','Liberation Sans',sans-serif" font-size="10.6" fill="#2c2c2c">50</text>
<path d="M174.3 613.6v-2.4M174.3 414.3v2.4" stroke="#858585" stroke-width="1"/>
<text x="174.3" y="627.8" text-anchor="middle" font-family="'DejaVu Sans','Liberation Sans',sans-serif" font-size="10.6" fill="#2c2c2c">100</text>
<path d="M233.9 613.6v-2.4M233.9 414.3v2.4" stroke="#858585" stroke-width="1"/>
<text x="233.9" y="627.8" text-anchor="middle" font-family="'DejaVu Sans','Liberation Sans',sans-serif" font-size="10.6" fill="#2c2c2c">150</text>
<path d="M55.2 599.3h2.4M245.7 599.3h-2.4" stroke="#858585" stroke-width="1"/>
<text x="52" y="603.2" text-anchor="end" font-family="'DejaVu Sans','Liberation Sans',sans-serif" font-size="10.6" fill="#2c2c2c">-60</text>
<path d="M55.2 575.5h2.4M245.7 575.5h-2.4" stroke="#858585" stroke-width="1"/>
<text x="52" y="579.4" text-anchor="end" font-family="'DejaVu Sans','Liberation Sans',sans-serif" font-size="10.6" fill="#2c2c2c">-40</text>
<path d="M55.2 551.7h2.4M245.7 551.7h-2.4" stroke="#858585" stroke-width="1"/>
<text x="52" y="555.6" text-anchor="end" font-family="'DejaVu Sans','Liberation Sans',sans-serif" font-size="10.6" fill="#2c2c2c">-20</text>
<path d="M55.2 527.9h2.4M245.7 527.9h-2.4" stroke="#858585" stroke-width="1"/>
<text x="52" y="531.8" text-anchor="end" font-family="'DejaVu Sans','Liberation Sans',sans-serif" font-size="10.6" fill="#2c2c2c">0</text>
<path d="M55.2 504.1h2.4M245.7 504.1h-2.4" stroke="#858585" stroke-width="1"/>
<text x="52" y="508" text-anchor="end" font-family="'DejaVu Sans','Liberation Sans',sans-serif" font-size="10.6" fill="#2c2c2c">20</text>
<path d="M55.2 480.3h2.4M245.7 480.3h-2.4" stroke="#858585" stroke-width="1"/>
<text x="52" y="484.2" text-anchor="end" font-family="'DejaVu Sans','Liberation Sans',sans-serif" font-size="10.6" fill="#2c2c2c">40</text>
<path d="M55.2 456.5h2.4M245.7 456.5h-2.4" stroke="#858585" stroke-width="1"/>
<text x="52" y="460.4" text-anchor="end" font-family="'DejaVu Sans','Liberation Sans',sans-serif" font-size="10.6" fill="#2c2c2c">60</text>
<path d="M55.2 432.7h2.4M245.7 432.7h-2.4" stroke="#858585" stroke-width="1"/>
<text x="52" y="436.6" text-anchor="end" font-family="'DejaVu Sans','Liberation Sans',sans-serif" font-size="10.6" fill="#2c2c2c">80</text>
<text x="150.2" y="641.5" text-anchor="middle" font-family="'DejaVu Sans','Liberation Sans',sans-serif" font-size="11.6" fill="#2c2c2c">X (km)</text>
<text transform="translate(28.6 514.4) rotate(-90)" text-anchor="middle" font-family="'DejaVu Sans','Liberation Sans',sans-serif" font-size="11.6" fill="#2c2c2c">Y (km)</text>
</g>
<text x="5.4" y="425.8" font-family="'Noto Sans CJK JP','Liberation Sans',sans-serif" font-weight="300" font-size="28.2" letter-spacing="1.2" fill="#111"><tspan dy="-1.4">(</tspan><tspan dy="1.4">c</tspan><tspan dy="-1.4">)</tspan></text>
</svg></body></html>
